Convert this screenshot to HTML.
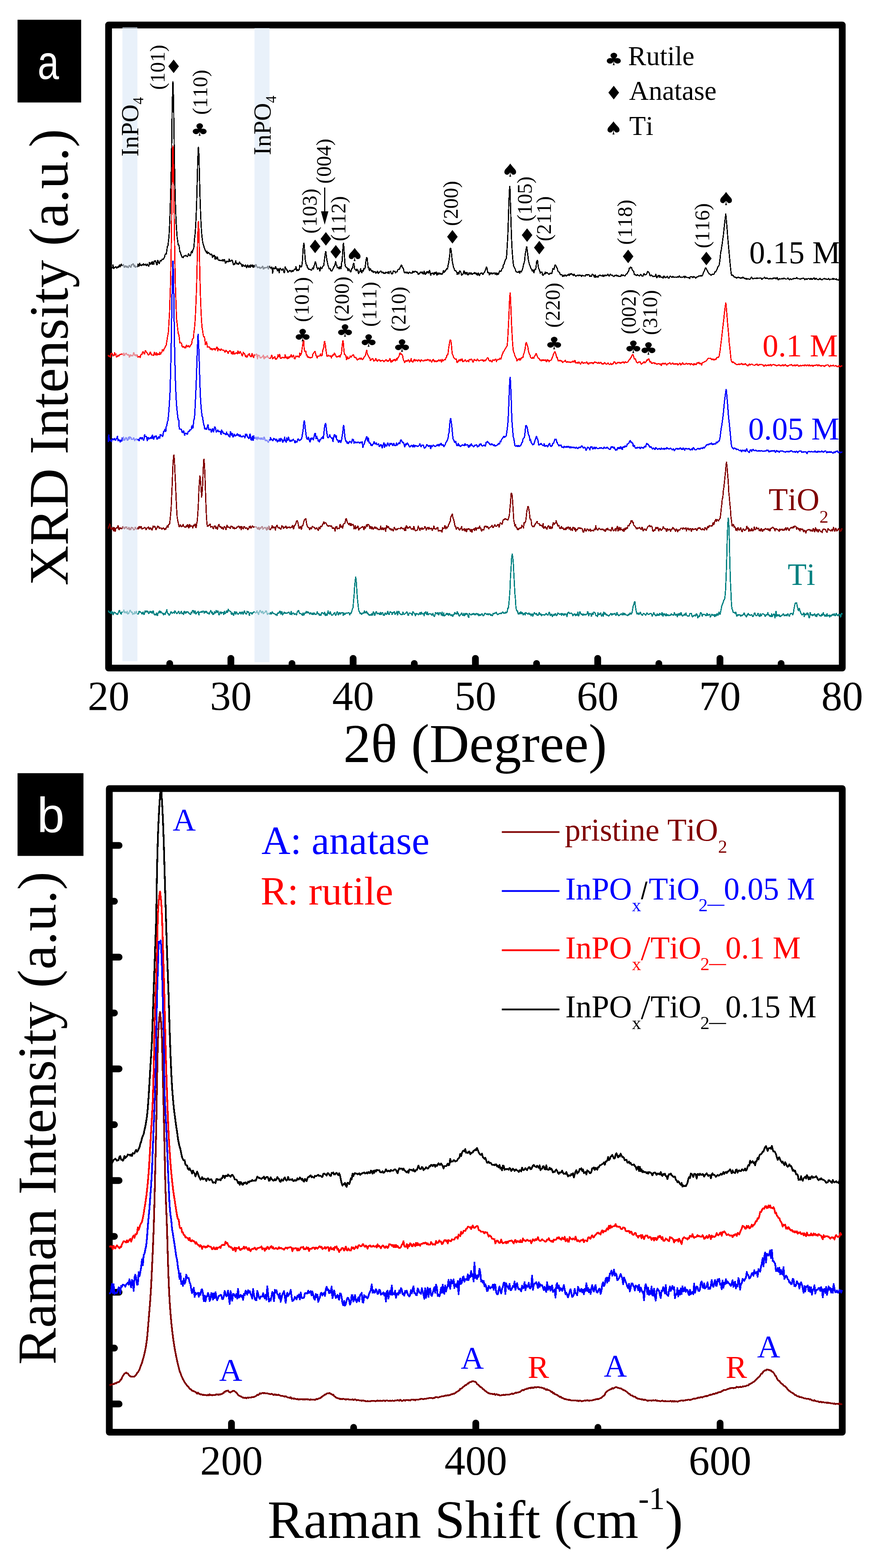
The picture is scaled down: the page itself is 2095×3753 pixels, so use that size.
<!DOCTYPE html>
<html lang="en"><head><meta charset="utf-8"><title>XRD and Raman spectra</title>
<style>html,body{margin:0;padding:0;background:#fff;overflow:hidden}svg{display:block}</style></head>
<body>
<svg width="2095" height="3753" viewBox="0 0 2095 3753" font-family="'Liberation Serif','DejaVu Serif',serif" style="font-kerning:none">
<rect x="0" y="0" width="2095" height="3753" fill="#fff"/>
<rect x="260.0" y="59.8" width="1756.6" height="1539.2" fill="none" stroke="#000" stroke-width="16.2" stroke-linejoin="round"/>
<rect x="261.7" y="1887.5" width="1754.9" height="1540.5" fill="none" stroke="#000" stroke-width="16.2" stroke-linejoin="round"/>
<path d="M552.8,1597.0 V1575.8 M845.5,1597.0 V1575.8 M1138.3,1597.0 V1575.8 M1431.1,1597.0 V1575.8 M1723.8,1597.0 V1575.8 M406.4,1597.0 V1588.0 M699.1,1597.0 V1588.0 M991.9,1597.0 V1588.0 M1284.7,1597.0 V1588.0 M1577.5,1597.0 V1588.0 M1870.2,1597.0 V1588.0 M554.2,3426.0 V3406.0 M1139.2,3426.0 V3406.0 M1724.1,3426.0 V3406.0 M846.7,3426.0 V3416.4 M1431.6,3426.0 V3416.4 M263.7,2023.5 H285.1 M263.7,2157.2 H274.0 M263.7,2290.9 H285.1 M263.7,2424.6 H274.0 M263.7,2558.3 H285.1 M263.7,2691.9 H274.0 M263.7,2825.6 H285.1 M263.7,2959.3 H274.0 M263.7,3093.0 H285.1 M263.7,3226.7 H274.0 M263.7,3360.4 H285.1" fill="none" stroke="#000" stroke-width="16.2" stroke-linecap="round"/>
<polyline fill="none" stroke="#008080" stroke-width="2.8" stroke-linejoin="bevel" shape-rendering="crispEdges" points="259.0,1461.7 260.3,1462.6 261.6,1466.7 262.9,1464.6 264.2,1467.3 265.5,1468.6 266.8,1462.1 268.1,1468.4 269.4,1464.6 270.7,1472.0 272.0,1469.1 273.3,1464.9 274.6,1466.5 275.9,1466.7 277.2,1467.1 278.5,1470.3 279.8,1468.3 281.1,1471.3 282.4,1468.7 283.7,1465.9 285.0,1461.5 286.3,1460.7 287.6,1465.9 288.9,1468.1 290.2,1470.6 291.5,1464.9 292.8,1466.1 294.1,1463.7 295.4,1464.4 296.7,1459.1 298.0,1467.2 299.3,1464.1 300.6,1465.6 301.9,1467.3 303.2,1467.3 304.5,1462.3 305.8,1470.0 307.1,1468.9 308.4,1468.0 309.7,1464.4 311.0,1461.1 312.3,1460.5 313.6,1464.6 314.9,1466.3 316.2,1464.0 317.5,1471.2 318.8,1467.8 320.1,1469.3 321.4,1469.3 322.7,1463.4 324.0,1468.6 325.3,1467.8 326.6,1462.6 327.9,1467.7 329.2,1469.5 330.5,1469.5 331.8,1469.7 333.1,1462.5 334.4,1464.8 335.7,1464.3 337.0,1466.0 338.3,1466.4 339.6,1469.5 340.9,1468.9 342.2,1464.1 343.5,1468.5 344.8,1471.3 346.1,1467.8 347.4,1461.9 348.7,1463.6 350.0,1465.2 351.3,1461.2 352.6,1465.0 353.9,1462.2 355.2,1467.9 356.5,1468.4 357.8,1466.3 359.1,1462.4 360.4,1466.5 361.7,1464.3 363.0,1463.8 364.3,1469.1 365.6,1464.4 366.9,1461.8 368.2,1467.9 369.5,1471.7 370.8,1471.8 372.1,1469.3 373.4,1472.8 374.7,1466.1 376.0,1472.6 377.3,1473.4 378.6,1466.2 379.9,1467.4 381.2,1462.5 382.5,1462.6 383.8,1467.3 385.1,1462.9 386.4,1466.3 387.7,1467.6 389.0,1466.8 390.3,1469.2 391.6,1472.5 392.9,1467.7 394.2,1469.5 395.5,1471.2 396.8,1465.7 398.1,1464.2 399.4,1458.7 400.7,1466.4 402.0,1469.4 403.3,1468.1 404.6,1472.8 405.9,1471.8 407.2,1469.6 408.5,1466.7 409.8,1463.8 411.1,1466.3 412.4,1467.8 413.7,1466.4 415.0,1465.4 416.3,1465.1 417.6,1468.2 418.9,1461.6 420.2,1464.7 421.5,1466.3 422.8,1468.4 424.1,1468.7 425.4,1466.0 426.7,1464.6 428.0,1462.6 429.3,1469.3 430.6,1468.5 431.9,1467.3 433.2,1464.3 434.5,1462.7 435.8,1469.3 437.1,1466.8 438.4,1467.8 439.7,1471.9 441.0,1462.7 442.3,1463.5 443.6,1467.1 444.9,1468.3 446.2,1463.6 447.5,1465.7 448.8,1464.5 450.1,1464.4 451.4,1467.2 452.7,1467.1 454.0,1470.0 455.3,1468.7 456.6,1471.2 457.9,1464.7 459.2,1467.4 460.5,1462.3 461.8,1460.8 463.1,1461.4 464.4,1467.7 465.7,1467.1 467.0,1461.6 468.3,1469.5 469.6,1469.7 470.9,1466.3 472.2,1465.6 473.5,1466.2 474.8,1462.7 476.1,1472.7 477.4,1465.9 478.7,1465.7 480.0,1465.3 481.3,1464.2 482.6,1463.3 483.9,1466.9 485.2,1462.7 486.5,1462.7 487.8,1463.4 489.1,1468.3 490.4,1463.6 491.7,1463.0 493.0,1466.8 494.3,1463.0 495.6,1464.9 496.9,1468.7 498.2,1467.9 499.5,1466.7 500.8,1470.9 502.1,1465.8 503.4,1464.4 504.7,1460.8 506.0,1465.6 507.3,1468.1 508.6,1464.6 509.9,1471.7 511.2,1470.2 512.5,1469.6 513.8,1463.2 515.1,1466.7 516.4,1467.5 517.7,1460.4 519.0,1465.4 520.3,1465.5 521.6,1461.0 522.9,1467.0 524.2,1472.5 525.5,1469.5 526.8,1464.3 528.1,1465.3 529.4,1469.5 530.7,1464.4 532.0,1467.1 533.3,1466.6 534.6,1466.9 535.9,1471.4 537.2,1462.6 538.5,1469.3 539.8,1467.6 541.1,1466.3 542.4,1461.4 543.7,1466.6 545.0,1465.2 546.3,1457.5 547.6,1461.0 548.9,1462.0 550.2,1462.7 551.5,1464.0 552.8,1463.6 554.1,1470.6 555.4,1470.2 556.7,1466.7 558.0,1470.6 559.3,1473.4 560.6,1468.9 561.9,1462.9 563.2,1467.0 564.5,1470.8 565.8,1464.1 567.1,1466.1 568.4,1469.2 569.7,1470.4 571.0,1469.6 572.3,1468.0 573.6,1466.3 574.9,1464.7 576.2,1469.2 577.5,1469.6 578.8,1465.5 580.1,1464.3 581.4,1469.9 582.7,1470.0 584.0,1464.7 585.3,1461.3 586.6,1466.0 587.9,1468.8 589.2,1469.7 590.5,1469.4 591.8,1462.3 593.1,1466.0 594.4,1465.3 595.7,1464.1 597.0,1474.0 598.3,1467.6 599.6,1467.4 600.9,1465.7 602.2,1468.4 603.5,1470.3 604.8,1466.3 606.1,1466.4 607.4,1465.2 608.7,1463.4 610.0,1465.6 611.3,1467.5 612.6,1466.8 613.9,1466.0 615.2,1461.0 616.5,1466.9 617.8,1467.2 619.1,1471.4 620.4,1465.5 621.7,1462.5 623.0,1460.4 624.3,1463.9 625.6,1466.2 626.9,1467.5 628.2,1462.2 629.5,1464.5 630.8,1469.5 632.1,1467.5 633.4,1466.0 634.7,1465.7 636.0,1462.1 637.3,1462.1 638.6,1464.7 639.9,1470.3 641.2,1470.9 642.5,1467.2 643.8,1468.9 645.1,1468.6 646.4,1470.8 647.7,1465.6 649.0,1467.7 650.3,1470.1 651.6,1463.9 652.9,1466.5 654.2,1467.9 655.5,1468.6 656.8,1469.0 658.1,1469.3 659.4,1470.6 660.7,1472.0 662.0,1469.2 663.3,1474.2 664.6,1467.1 665.9,1466.8 667.2,1468.4 668.5,1465.3 669.8,1462.8 671.1,1462.9 672.4,1470.3 673.7,1466.1 675.0,1463.4 676.3,1472.6 677.6,1469.5 678.9,1468.5 680.2,1465.0 681.5,1468.1 682.8,1466.3 684.1,1468.2 685.4,1467.8 686.7,1467.1 688.0,1468.3 689.3,1465.2 690.6,1466.2 691.9,1465.2 693.2,1468.6 694.5,1470.1 695.8,1470.6 697.1,1462.6 698.4,1472.2 699.7,1467.9 701.0,1467.6 702.3,1467.7 703.6,1467.7 704.9,1471.6 706.2,1468.9 707.5,1469.0 708.8,1470.9 710.1,1472.3 711.4,1465.6 712.7,1464.0 714.0,1461.7 715.3,1461.4 716.6,1467.9 717.9,1468.3 719.2,1468.0 720.5,1469.0 721.8,1469.1 723.1,1471.7 724.4,1473.7 725.7,1466.5 727.0,1472.3 728.3,1471.9 729.6,1466.3 730.9,1468.4 732.2,1466.9 733.5,1462.9 734.8,1467.5 736.1,1463.2 737.4,1467.6 738.7,1465.0 740.0,1466.7 741.3,1470.3 742.6,1468.9 743.9,1465.9 745.2,1468.5 746.5,1470.3 747.8,1471.4 749.1,1466.2 750.4,1471.3 751.7,1468.2 753.0,1466.6 754.3,1471.5 755.6,1470.6 756.9,1470.6 758.2,1469.0 759.5,1463.0 760.8,1468.8 762.1,1470.0 763.4,1468.2 764.7,1473.3 766.0,1469.4 767.3,1473.5 768.6,1472.6 769.9,1467.0 771.2,1465.7 772.5,1467.0 773.8,1468.0 775.1,1470.3 776.4,1466.9 777.7,1465.0 779.0,1474.2 780.3,1469.4 781.6,1469.4 782.9,1473.7 784.2,1469.6 785.5,1461.7 786.8,1468.9 788.1,1466.7 789.4,1471.1 790.7,1463.5 792.0,1468.3 793.3,1470.8 794.6,1473.0 795.9,1472.0 797.2,1471.8 798.5,1469.0 799.8,1468.5 801.1,1465.5 802.4,1470.9 803.7,1473.4 805.0,1471.0 806.3,1466.3 807.6,1464.0 808.9,1466.3 810.2,1472.8 811.5,1469.6 812.8,1465.8 814.1,1467.0 815.4,1470.7 816.7,1466.8 818.0,1466.8 819.3,1466.6 820.6,1465.5 821.9,1473.7 823.2,1466.8 824.5,1468.9 825.8,1471.9 827.1,1468.5 828.4,1467.1 829.7,1467.6 831.0,1468.0 832.3,1467.4 833.6,1466.6 834.9,1466.5 836.2,1467.8 837.5,1472.7 838.8,1466.9 840.1,1469.2 841.4,1465.9 842.7,1461.6 844.0,1457.0 845.3,1453.9 846.6,1437.2 847.9,1423.7 849.2,1401.5 850.5,1390.4 851.6,1379.9 853.1,1392.7 854.4,1413.2 855.7,1432.1 857.0,1444.4 858.3,1457.2 859.6,1462.8 860.9,1464.8 862.2,1469.1 863.5,1467.3 864.8,1468.2 866.1,1471.0 867.4,1468.1 868.7,1467.0 870.0,1468.6 871.3,1466.9 872.6,1461.3 873.9,1465.8 875.2,1467.6 876.5,1464.9 877.8,1462.5 879.1,1469.0 880.4,1466.7 881.7,1470.2 883.0,1470.3 884.3,1473.4 885.6,1471.1 886.9,1471.8 888.2,1473.2 889.5,1468.4 890.8,1472.0 892.1,1472.8 893.4,1464.1 894.7,1465.0 896.0,1468.7 897.3,1473.9 898.6,1468.6 899.9,1465.0 901.2,1463.6 902.5,1469.0 903.8,1469.5 905.1,1467.0 906.4,1469.4 907.7,1467.8 909.0,1472.1 910.3,1465.2 911.6,1466.9 912.9,1471.8 914.2,1467.4 915.5,1466.1 916.8,1467.6 918.1,1474.1 919.4,1470.4 920.7,1473.3 922.0,1466.8 923.3,1468.0 924.6,1470.8 925.9,1469.9 927.2,1467.5 928.5,1462.1 929.8,1469.4 931.1,1471.2 932.4,1470.6 933.7,1464.1 935.0,1464.0 936.3,1466.4 937.6,1465.4 938.9,1471.4 940.2,1466.0 941.5,1467.4 942.8,1465.4 944.1,1463.2 945.4,1470.9 946.7,1469.6 948.0,1466.9 949.3,1468.6 950.6,1462.4 951.9,1472.5 953.2,1466.3 954.5,1462.8 955.8,1464.8 957.1,1468.9 958.4,1468.9 959.7,1470.8 961.0,1471.2 962.3,1469.4 963.6,1472.0 964.9,1464.0 966.2,1469.5 967.5,1470.4 968.8,1470.1 970.1,1468.6 971.4,1467.3 972.7,1466.9 974.0,1463.6 975.3,1466.6 976.6,1471.7 977.9,1473.6 979.2,1468.2 980.5,1467.2 981.8,1467.2 983.1,1468.2 984.4,1468.8 985.7,1470.3 987.0,1473.3 988.3,1463.6 989.6,1465.0 990.9,1466.9 992.2,1468.5 993.5,1470.0 994.8,1474.3 996.1,1467.0 997.4,1470.6 998.7,1469.0 1000.0,1469.2 1001.3,1469.9 1002.6,1471.7 1003.9,1469.8 1005.2,1465.9 1006.5,1470.0 1007.8,1470.7 1009.1,1464.8 1010.4,1469.7 1011.7,1469.0 1013.0,1468.6 1014.3,1469.3 1015.6,1474.3 1016.9,1465.0 1018.2,1469.1 1019.5,1463.7 1020.8,1468.4 1022.1,1471.8 1023.4,1464.3 1024.7,1471.9 1026.0,1471.1 1027.3,1469.2 1028.6,1468.8 1029.9,1469.2 1031.2,1469.5 1032.5,1469.3 1033.8,1472.5 1035.1,1472.2 1036.4,1467.2 1037.7,1472.3 1039.0,1475.3 1040.3,1475.2 1041.6,1471.3 1042.9,1465.2 1044.2,1467.5 1045.5,1469.0 1046.8,1469.3 1048.1,1465.3 1049.4,1470.9 1050.7,1472.6 1052.0,1466.2 1053.3,1467.1 1054.6,1466.5 1055.9,1469.5 1057.2,1473.2 1058.5,1464.3 1059.8,1473.8 1061.1,1473.5 1062.4,1466.7 1063.7,1474.4 1065.0,1474.2 1066.3,1472.3 1067.6,1471.4 1068.9,1467.7 1070.2,1471.2 1071.5,1467.9 1072.8,1470.0 1074.1,1473.2 1075.4,1469.6 1076.7,1468.2 1078.0,1471.5 1079.3,1473.2 1080.6,1473.6 1081.9,1470.1 1083.2,1474.3 1084.5,1475.8 1085.8,1470.1 1087.1,1472.0 1088.4,1465.3 1089.7,1469.1 1091.0,1467.0 1092.3,1470.2 1093.6,1468.5 1094.9,1463.1 1096.2,1471.1 1097.5,1467.4 1098.8,1473.4 1100.1,1475.1 1101.4,1472.8 1102.7,1470.5 1104.0,1471.1 1105.3,1466.3 1106.6,1470.0 1107.9,1473.2 1109.2,1472.9 1110.5,1467.7 1111.8,1474.5 1113.1,1472.5 1114.4,1467.9 1115.7,1471.4 1117.0,1467.8 1118.3,1468.6 1119.6,1470.3 1120.9,1475.9 1122.2,1478.7 1123.5,1467.2 1124.8,1469.8 1126.1,1469.9 1127.4,1472.3 1128.7,1471.8 1130.0,1468.9 1131.3,1471.1 1132.6,1468.6 1133.9,1467.7 1135.2,1471.7 1136.5,1471.2 1137.8,1468.8 1139.1,1472.1 1140.4,1469.5 1141.7,1468.0 1143.0,1469.7 1144.3,1472.2 1145.6,1468.9 1146.9,1474.5 1148.2,1470.4 1149.5,1471.3 1150.8,1472.9 1152.1,1470.8 1153.4,1468.6 1154.7,1469.6 1156.0,1473.1 1157.3,1474.5 1158.6,1472.9 1159.9,1469.5 1161.2,1467.4 1162.5,1468.3 1163.8,1468.7 1165.1,1470.8 1166.4,1470.4 1167.7,1468.1 1169.0,1472.1 1170.3,1468.5 1171.6,1470.3 1172.9,1468.2 1174.2,1473.1 1175.5,1472.0 1176.8,1471.2 1178.1,1473.7 1179.4,1473.6 1180.7,1467.0 1182.0,1470.4 1183.3,1467.2 1184.6,1468.0 1185.9,1468.6 1187.2,1465.7 1188.5,1465.8 1189.8,1469.7 1191.1,1470.3 1192.4,1471.5 1193.7,1469.7 1195.0,1468.7 1196.3,1468.7 1197.6,1468.6 1198.9,1467.2 1200.2,1469.4 1201.5,1466.6 1202.8,1465.8 1204.1,1464.2 1205.4,1468.5 1206.7,1466.6 1208.0,1467.4 1209.3,1468.2 1210.6,1465.0 1211.9,1467.2 1213.2,1466.1 1214.5,1463.8 1215.8,1454.8 1217.1,1456.0 1218.4,1445.3 1219.7,1429.9 1221.0,1412.2 1222.3,1379.8 1223.6,1361.7 1224.9,1335.8 1226.5,1325.0 1227.5,1333.1 1228.8,1343.6 1230.1,1370.5 1231.4,1394.2 1232.7,1420.0 1234.0,1433.0 1235.3,1454.1 1236.6,1459.8 1237.9,1462.2 1239.2,1462.7 1240.5,1470.2 1241.8,1466.6 1243.1,1470.2 1244.4,1465.3 1245.7,1469.7 1247.0,1463.6 1248.3,1469.2 1249.6,1466.3 1250.9,1465.9 1252.2,1471.6 1253.5,1471.8 1254.8,1468.1 1256.1,1467.2 1257.4,1472.4 1258.7,1465.7 1260.0,1468.3 1261.3,1467.4 1262.6,1469.5 1263.9,1469.6 1265.2,1469.3 1266.5,1466.3 1267.8,1470.1 1269.1,1471.3 1270.4,1468.9 1271.7,1474.8 1273.0,1469.4 1274.3,1469.9 1275.6,1475.7 1276.9,1470.1 1278.2,1469.7 1279.5,1465.8 1280.8,1469.5 1282.1,1468.8 1283.4,1470.8 1284.7,1467.1 1286.0,1473.1 1287.3,1472.1 1288.6,1473.0 1289.9,1469.5 1291.2,1465.0 1292.5,1470.4 1293.8,1470.1 1295.1,1468.8 1296.4,1474.7 1297.7,1471.7 1299.0,1470.9 1300.3,1471.6 1301.6,1471.5 1302.9,1471.6 1304.2,1472.8 1305.5,1471.0 1306.8,1469.1 1308.1,1467.8 1309.4,1470.6 1310.7,1471.8 1312.0,1472.8 1313.3,1468.4 1314.6,1465.7 1315.9,1465.5 1317.2,1473.8 1318.5,1472.6 1319.8,1470.6 1321.1,1469.5 1322.4,1476.5 1323.7,1473.6 1325.0,1472.9 1326.3,1469.2 1327.6,1473.5 1328.9,1469.7 1330.2,1468.1 1331.5,1474.0 1332.8,1471.9 1334.1,1472.6 1335.4,1466.4 1336.7,1468.7 1338.0,1467.6 1339.3,1470.6 1340.6,1470.1 1341.9,1470.2 1343.2,1468.1 1344.5,1474.0 1345.8,1467.1 1347.1,1471.1 1348.4,1470.2 1349.7,1473.2 1351.0,1467.9 1352.3,1472.8 1353.6,1468.2 1354.9,1470.6 1356.2,1469.7 1357.5,1477.0 1358.8,1467.4 1360.1,1467.8 1361.4,1464.5 1362.7,1466.2 1364.0,1468.9 1365.3,1468.7 1366.6,1467.4 1367.9,1467.6 1369.2,1468.9 1370.5,1470.1 1371.8,1474.7 1373.1,1471.8 1374.4,1470.1 1375.7,1468.9 1377.0,1471.7 1378.3,1474.0 1379.6,1469.8 1380.9,1472.7 1382.2,1471.9 1383.5,1464.1 1384.8,1474.7 1386.1,1473.4 1387.4,1466.5 1388.7,1463.8 1390.0,1469.7 1391.3,1468.5 1392.6,1471.3 1393.9,1469.1 1395.2,1473.5 1396.5,1469.0 1397.8,1471.2 1399.1,1472.2 1400.4,1469.6 1401.7,1472.7 1403.0,1470.9 1404.3,1470.3 1405.6,1469.6 1406.9,1463.2 1408.2,1466.2 1409.5,1475.0 1410.8,1469.8 1412.1,1467.9 1413.4,1469.3 1414.7,1469.5 1416.0,1476.2 1417.3,1467.9 1418.6,1467.8 1419.9,1471.8 1421.2,1465.3 1422.5,1464.8 1423.8,1465.8 1425.1,1467.6 1426.4,1472.9 1427.7,1474.5 1429.0,1472.4 1430.3,1476.4 1431.6,1465.7 1432.9,1472.7 1434.2,1468.7 1435.5,1471.5 1436.8,1469.7 1438.1,1466.1 1439.4,1473.1 1440.7,1475.0 1442.0,1471.8 1443.3,1468.2 1444.6,1476.0 1445.9,1464.4 1447.2,1470.1 1448.5,1467.8 1449.8,1467.9 1451.1,1472.9 1452.4,1469.5 1453.7,1473.2 1455.0,1471.6 1456.3,1474.7 1457.6,1473.9 1458.9,1473.5 1460.2,1471.0 1461.5,1470.4 1462.8,1467.6 1464.1,1471.3 1465.4,1472.7 1466.7,1468.8 1468.0,1471.3 1469.3,1468.3 1470.6,1470.0 1471.9,1467.2 1473.2,1470.0 1474.5,1473.5 1475.8,1471.7 1477.1,1465.5 1478.4,1471.6 1479.7,1469.6 1481.0,1474.0 1482.3,1473.0 1483.6,1472.8 1484.9,1469.9 1486.2,1470.8 1487.5,1468.2 1488.8,1470.3 1490.1,1472.6 1491.4,1466.4 1492.7,1468.8 1494.0,1472.3 1495.3,1467.6 1496.6,1469.5 1497.9,1471.6 1499.2,1471.4 1500.5,1472.2 1501.8,1472.8 1503.1,1474.1 1504.4,1469.8 1505.7,1471.5 1507.0,1471.4 1508.3,1466.6 1509.6,1467.8 1510.9,1470.6 1512.2,1468.2 1513.5,1465.6 1514.8,1458.0 1516.1,1450.5 1517.4,1446.9 1518.6,1441.8 1520.0,1439.3 1521.3,1451.0 1522.6,1459.4 1523.9,1466.1 1525.2,1469.5 1526.5,1469.8 1527.8,1466.3 1529.1,1470.9 1530.4,1470.8 1531.7,1467.3 1533.0,1464.8 1534.3,1468.1 1535.6,1471.9 1536.9,1470.5 1538.2,1473.6 1539.5,1469.7 1540.8,1468.1 1542.1,1468.3 1543.4,1470.1 1544.7,1471.1 1546.0,1473.1 1547.3,1470.4 1548.6,1467.0 1549.9,1467.5 1551.2,1470.7 1552.5,1470.0 1553.8,1470.8 1555.1,1468.8 1556.4,1468.9 1557.7,1468.7 1559.0,1468.4 1560.3,1470.6 1561.6,1475.2 1562.9,1471.1 1564.2,1470.9 1565.5,1465.0 1566.8,1471.1 1568.1,1469.8 1569.4,1474.1 1570.7,1472.5 1572.0,1474.8 1573.3,1468.3 1574.6,1472.2 1575.9,1473.3 1577.2,1469.8 1578.5,1473.8 1579.8,1467.1 1581.1,1470.7 1582.4,1469.3 1583.7,1472.7 1585.0,1465.2 1586.3,1472.2 1587.6,1475.6 1588.9,1468.4 1590.2,1472.9 1591.5,1468.4 1592.8,1472.8 1594.1,1474.2 1595.4,1467.8 1596.7,1475.0 1598.0,1471.0 1599.3,1470.9 1600.6,1473.0 1601.9,1473.8 1603.2,1471.4 1604.5,1472.7 1605.8,1473.0 1607.1,1468.0 1608.4,1471.2 1609.7,1471.6 1611.0,1471.1 1612.3,1473.0 1613.6,1469.8 1614.9,1465.7 1616.2,1472.0 1617.5,1472.3 1618.8,1471.2 1620.1,1469.6 1621.4,1477.2 1622.7,1472.3 1624.0,1468.3 1625.3,1471.6 1626.6,1472.7 1627.9,1467.4 1629.2,1472.4 1630.5,1465.3 1631.8,1469.1 1633.1,1473.3 1634.4,1474.7 1635.7,1472.8 1637.0,1473.7 1638.3,1469.2 1639.6,1471.2 1640.9,1473.2 1642.2,1466.6 1643.5,1471.4 1644.8,1473.1 1646.1,1474.8 1647.4,1474.1 1648.7,1474.7 1650.0,1474.3 1651.3,1469.2 1652.6,1468.4 1653.9,1469.3 1655.2,1467.5 1656.5,1473.2 1657.8,1476.6 1659.1,1476.0 1660.4,1472.8 1661.7,1474.8 1663.0,1472.2 1664.3,1473.0 1665.6,1475.0 1666.9,1469.1 1668.2,1469.5 1669.5,1472.4 1670.8,1480.2 1672.1,1474.7 1673.4,1474.4 1674.7,1476.2 1676.0,1470.9 1677.3,1465.4 1678.6,1467.4 1679.9,1468.0 1681.2,1476.1 1682.5,1471.5 1683.8,1470.8 1685.1,1470.7 1686.4,1470.6 1687.7,1471.1 1689.0,1471.5 1690.3,1474.8 1691.6,1472.4 1692.9,1467.3 1694.2,1473.0 1695.5,1473.0 1696.8,1470.5 1698.1,1471.8 1699.4,1469.5 1700.7,1477.5 1702.0,1475.4 1703.3,1472.7 1704.6,1469.0 1705.9,1472.7 1707.2,1473.1 1708.5,1471.6 1709.8,1470.3 1711.1,1476.6 1712.4,1470.7 1713.7,1473.5 1715.0,1474.6 1716.3,1468.0 1717.6,1470.6 1718.9,1473.0 1720.2,1470.2 1721.5,1464.6 1722.8,1468.4 1724.1,1471.1 1725.4,1464.1 1726.7,1458.9 1728.0,1450.6 1729.3,1446.7 1730.6,1444.3 1732.0,1440.0 1733.2,1435.3 1734.5,1435.6 1735.8,1428.8 1737.1,1413.0 1738.4,1384.1 1739.7,1347.4 1741.0,1297.0 1742.3,1256.5 1743.7,1239.0 1744.9,1250.4 1746.2,1291.6 1747.5,1348.4 1748.8,1390.9 1750.1,1418.1 1751.4,1447.7 1752.7,1457.1 1754.0,1459.5 1755.3,1466.5 1756.6,1465.1 1757.9,1466.5 1759.2,1466.3 1760.5,1469.0 1761.8,1464.4 1763.1,1472.5 1764.4,1476.0 1765.7,1471.4 1767.0,1471.5 1768.3,1472.7 1769.6,1471.2 1770.9,1470.9 1772.2,1473.7 1773.5,1475.1 1774.8,1471.3 1776.1,1473.9 1777.4,1473.3 1778.7,1470.6 1780.0,1471.8 1781.3,1466.8 1782.6,1468.2 1783.9,1472.5 1785.2,1473.9 1786.5,1475.6 1787.8,1477.0 1789.1,1469.9 1790.4,1472.8 1791.7,1467.8 1793.0,1471.5 1794.3,1470.6 1795.6,1473.3 1796.9,1472.2 1798.2,1472.5 1799.5,1470.8 1800.8,1472.1 1802.1,1476.1 1803.4,1475.2 1804.7,1472.9 1806.0,1467.8 1807.3,1466.7 1808.6,1471.4 1809.9,1473.3 1811.2,1474.2 1812.5,1473.4 1813.8,1470.4 1815.1,1467.3 1816.4,1474.0 1817.7,1474.2 1819.0,1476.1 1820.3,1468.3 1821.6,1473.6 1822.9,1474.5 1824.2,1469.7 1825.5,1469.2 1826.8,1468.9 1828.1,1469.5 1829.4,1471.6 1830.7,1471.1 1832.0,1475.9 1833.3,1474.0 1834.6,1470.9 1835.9,1472.7 1837.2,1470.4 1838.5,1465.7 1839.8,1472.2 1841.1,1470.7 1842.4,1475.6 1843.7,1472.5 1845.0,1476.3 1846.3,1475.2 1847.6,1468.4 1848.9,1476.5 1850.2,1471.8 1851.5,1472.1 1852.8,1469.1 1854.1,1470.2 1855.4,1479.4 1856.7,1473.8 1858.0,1462.4 1859.3,1475.8 1860.6,1473.4 1861.9,1470.6 1863.2,1473.9 1864.5,1473.5 1865.8,1470.5 1867.1,1476.4 1868.4,1474.4 1869.7,1475.7 1871.0,1473.3 1872.3,1472.2 1873.6,1472.7 1874.9,1469.4 1876.2,1469.2 1877.5,1474.2 1878.8,1472.1 1880.1,1473.7 1881.4,1472.2 1882.7,1470.7 1884.0,1474.8 1885.3,1470.7 1886.6,1469.0 1887.9,1471.4 1889.2,1474.7 1890.5,1475.2 1891.8,1469.0 1893.1,1468.2 1894.4,1469.4 1895.7,1468.0 1897.0,1470.2 1898.3,1472.0 1899.6,1466.9 1900.9,1458.2 1902.2,1451.3 1903.5,1444.9 1904.8,1443.0 1905.5,1444.2 1907.4,1442.2 1908.7,1451.1 1910.0,1455.4 1911.3,1462.2 1913.0,1456.0 1913.9,1456.8 1915.2,1461.7 1916.5,1464.5 1917.8,1468.8 1919.1,1469.9 1920.4,1472.3 1921.7,1470.6 1923.0,1470.9 1924.3,1466.3 1925.6,1476.5 1926.9,1468.3 1928.2,1471.5 1929.5,1472.0 1930.8,1469.2 1932.1,1466.6 1933.4,1471.6 1934.7,1466.8 1936.0,1474.1 1937.3,1479.9 1938.6,1477.0 1939.9,1465.0 1941.2,1472.0 1942.5,1472.0 1943.8,1471.2 1945.1,1474.3 1946.4,1470.8 1947.7,1473.2 1949.0,1470.1 1950.3,1468.6 1951.6,1473.0 1952.9,1475.1 1954.2,1470.6 1955.5,1476.3 1956.8,1472.0 1958.1,1469.2 1959.4,1469.3 1960.7,1469.6 1962.0,1473.6 1963.3,1474.3 1964.6,1472.4 1965.9,1475.9 1967.2,1469.8 1968.5,1472.8 1969.8,1472.8 1971.1,1465.7 1972.4,1471.9 1973.7,1470.4 1975.0,1476.1 1976.3,1471.1 1977.6,1475.7 1978.9,1474.0 1980.2,1467.8 1981.5,1474.6 1982.8,1474.3 1984.1,1473.3 1985.4,1471.6 1986.7,1477.3 1988.0,1471.9 1989.3,1475.3 1990.6,1474.3 1991.9,1471.8 1993.2,1469.8 1994.5,1472.7 1995.8,1471.9 1997.1,1468.5 1998.4,1472.6 1999.7,1473.7 2001.0,1472.4 2002.3,1467.0 2003.6,1472.9 2004.9,1471.2 2006.2,1474.3 2007.5,1471.3 2008.8,1469.9 2010.1,1471.1 2011.4,1471.5 2012.7,1478.1 2014.0,1469.8 2015.3,1467.1 2016.6,1470.5"/>
<polyline fill="none" stroke="#800000" stroke-width="2.8" stroke-linejoin="bevel" shape-rendering="crispEdges" points="259.0,1265.6 260.3,1260.7 261.6,1258.1 262.9,1253.4 264.2,1260.9 265.5,1267.0 266.8,1264.1 268.1,1265.2 269.4,1267.0 270.7,1261.3 272.0,1271.6 273.3,1262.0 274.6,1264.6 275.9,1272.4 277.2,1264.6 278.5,1264.2 279.8,1262.1 281.1,1264.5 282.4,1257.1 283.7,1260.7 285.0,1268.6 286.3,1265.2 287.6,1263.2 288.9,1264.9 290.2,1265.3 291.5,1264.5 292.8,1265.8 294.1,1258.9 295.4,1265.0 296.7,1261.9 298.0,1266.1 299.3,1264.2 300.6,1260.8 301.9,1263.3 303.2,1260.7 304.5,1266.7 305.8,1264.3 307.1,1266.8 308.4,1260.9 309.7,1268.7 311.0,1263.8 312.3,1268.4 313.6,1267.4 314.9,1261.1 316.2,1264.7 317.5,1262.5 318.8,1265.2 320.1,1268.9 321.4,1267.1 322.7,1268.0 324.0,1261.1 325.3,1264.4 326.6,1265.4 327.9,1267.9 329.2,1262.8 330.5,1265.9 331.8,1265.9 333.1,1259.7 334.4,1260.3 335.7,1265.1 337.0,1260.7 338.3,1259.9 339.6,1266.5 340.9,1265.6 342.2,1263.8 343.5,1264.7 344.8,1263.2 346.1,1262.5 347.4,1262.7 348.7,1265.4 350.0,1268.8 351.3,1263.6 352.6,1264.1 353.9,1263.7 355.2,1260.4 356.5,1264.7 357.8,1267.3 359.1,1262.3 360.4,1266.8 361.7,1263.1 363.0,1268.0 364.3,1268.9 365.6,1264.0 366.9,1258.1 368.2,1262.5 369.5,1259.8 370.8,1259.7 372.1,1263.0 373.4,1268.6 374.7,1264.8 376.0,1263.9 377.3,1258.5 378.6,1261.7 379.9,1259.6 381.2,1265.3 382.5,1262.8 383.8,1264.0 385.1,1264.2 386.4,1263.6 387.7,1267.1 389.0,1266.1 390.3,1263.3 391.6,1264.3 392.9,1265.6 394.2,1268.3 395.5,1264.6 396.8,1268.0 398.1,1261.9 399.4,1261.8 400.7,1257.3 402.0,1263.2 403.3,1257.1 404.6,1254.1 405.9,1255.7 407.2,1244.6 408.5,1230.4 409.8,1215.7 411.1,1185.7 412.4,1156.2 413.7,1120.0 415.0,1098.5 416.2,1087.8 417.6,1099.8 418.9,1130.9 420.2,1157.4 421.5,1188.8 422.8,1215.6 424.1,1237.2 425.4,1245.3 426.7,1251.1 428.0,1256.7 429.3,1262.0 430.6,1258.2 431.9,1255.2 433.2,1258.7 434.5,1261.7 435.8,1258.6 437.1,1260.3 438.4,1254.3 439.7,1259.4 441.0,1260.4 442.3,1262.2 443.6,1261.5 444.9,1262.8 446.2,1257.3 447.5,1261.7 448.8,1255.1 450.1,1257.4 451.4,1263.2 452.7,1263.3 454.0,1254.7 455.3,1261.2 456.6,1258.9 457.9,1257.4 459.2,1260.3 460.5,1260.5 461.8,1264.4 463.1,1256.0 464.4,1257.8 465.7,1258.8 467.0,1253.4 468.3,1261.6 469.6,1263.6 470.9,1253.3 472.2,1247.9 473.5,1231.5 474.8,1209.3 476.1,1176.6 477.4,1153.7 478.8,1138.2 480.0,1149.4 481.3,1167.5 482.6,1191.2 483.9,1179.7 485.2,1161.5 486.5,1124.4 487.8,1101.0 488.5,1098.2 490.4,1128.5 491.7,1168.5 493.0,1205.4 494.3,1236.9 495.6,1254.6 496.9,1260.6 498.2,1259.2 499.5,1256.4 500.8,1258.1 502.1,1254.9 503.4,1254.4 504.7,1262.8 506.0,1259.9 507.3,1261.4 508.6,1259.9 509.9,1264.7 511.2,1265.9 512.5,1259.1 513.8,1259.4 515.1,1258.5 516.4,1264.7 517.7,1265.5 519.0,1260.7 520.3,1268.2 521.6,1262.2 522.9,1257.4 524.2,1254.1 525.5,1259.6 526.8,1261.9 528.1,1259.4 529.4,1262.1 530.7,1265.1 532.0,1261.6 533.3,1264.0 534.6,1267.0 535.9,1263.7 537.2,1259.9 538.5,1262.5 539.8,1263.2 541.1,1268.4 542.4,1261.1 543.7,1256.5 545.0,1261.6 546.3,1262.5 547.6,1260.3 548.9,1263.1 550.2,1262.7 551.5,1265.5 552.8,1259.5 554.1,1259.0 555.4,1261.1 556.7,1259.9 558.0,1265.4 559.3,1264.0 560.6,1261.9 561.9,1266.5 563.2,1264.0 564.5,1265.2 565.8,1264.7 567.1,1261.7 568.4,1261.2 569.7,1261.7 571.0,1258.3 572.3,1260.1 573.6,1264.2 574.9,1263.1 576.2,1259.0 577.5,1268.8 578.8,1259.6 580.1,1263.5 581.4,1264.4 582.7,1266.3 584.0,1259.8 585.3,1261.6 586.6,1261.2 587.9,1265.4 589.2,1263.7 590.5,1263.5 591.8,1263.9 593.1,1268.5 594.4,1265.1 595.7,1265.3 597.0,1259.6 598.3,1263.9 599.6,1258.4 600.9,1264.6 602.2,1263.0 603.5,1259.5 604.8,1258.2 606.1,1261.4 607.4,1262.6 608.7,1260.6 610.0,1261.1 611.3,1261.2 612.6,1260.6 613.9,1261.6 615.2,1263.2 616.5,1266.7 617.8,1265.2 619.1,1261.2 620.4,1267.5 621.7,1267.1 623.0,1262.5 624.3,1265.9 625.6,1261.5 626.9,1260.2 628.2,1260.1 629.5,1267.5 630.8,1264.0 632.1,1264.0 633.4,1263.3 634.7,1261.7 636.0,1264.3 637.3,1265.3 638.6,1269.6 639.9,1261.3 641.2,1267.7 642.5,1265.9 643.8,1258.1 645.1,1265.5 646.4,1268.6 647.7,1267.5 649.0,1264.6 650.3,1263.9 651.6,1257.1 652.9,1263.4 654.2,1263.9 655.5,1260.4 656.8,1263.5 658.1,1261.3 659.4,1270.2 660.7,1260.5 662.0,1260.1 663.3,1256.0 664.6,1261.0 665.9,1263.3 667.2,1263.3 668.5,1261.3 669.8,1265.7 671.1,1264.4 672.4,1267.2 673.7,1263.5 675.0,1257.7 676.3,1262.0 677.6,1259.9 678.9,1265.4 680.2,1261.6 681.5,1262.2 682.8,1263.0 684.1,1258.3 685.4,1261.2 686.7,1265.6 688.0,1261.7 689.3,1262.3 690.6,1263.4 691.9,1260.9 693.2,1261.7 694.5,1264.0 695.8,1261.7 697.1,1262.6 698.4,1262.0 699.7,1258.8 701.0,1257.1 702.3,1266.4 703.6,1264.6 704.9,1257.7 706.2,1257.5 707.5,1255.1 708.8,1252.1 709.7,1247.8 711.4,1245.3 712.7,1248.3 714.0,1254.6 715.3,1262.4 716.6,1265.4 717.9,1260.8 719.2,1260.1 720.5,1264.8 721.8,1267.8 723.1,1257.9 724.4,1259.2 725.7,1255.9 727.0,1250.6 728.3,1246.2 729.6,1242.7 730.5,1243.0 732.2,1241.0 733.5,1249.4 734.8,1256.6 736.1,1260.3 737.4,1262.6 738.7,1262.6 740.0,1262.7 741.3,1268.6 742.6,1263.0 743.9,1263.4 745.2,1267.0 746.5,1263.8 747.8,1259.2 749.1,1260.9 750.4,1261.5 751.7,1262.5 753.0,1261.8 754.3,1266.2 755.6,1266.0 756.9,1265.2 758.2,1262.3 759.5,1266.3 760.8,1266.7 762.1,1270.5 763.4,1262.1 764.7,1262.2 766.0,1266.6 767.3,1259.0 768.6,1261.4 769.9,1260.7 771.2,1258.9 772.5,1254.0 773.8,1254.8 775.1,1248.5 776.4,1254.7 778.2,1250.5 779.0,1251.2 780.3,1252.0 781.6,1254.3 782.9,1256.1 784.2,1258.8 785.5,1258.1 786.8,1260.3 788.1,1257.9 789.4,1258.3 790.7,1259.3 792.0,1259.3 793.3,1258.3 794.6,1260.6 795.9,1265.0 797.2,1265.1 798.5,1262.5 799.8,1264.5 801.1,1265.0 802.4,1272.3 803.7,1260.0 805.0,1264.0 806.3,1259.7 807.6,1267.1 808.9,1263.5 810.2,1265.0 811.5,1264.5 812.8,1265.8 814.1,1254.6 815.4,1258.3 816.7,1262.5 818.0,1258.3 819.3,1263.0 820.6,1264.7 821.9,1255.2 823.2,1253.7 824.5,1253.0 825.8,1252.5 827.1,1246.8 828.0,1241.5 829.7,1241.9 831.0,1248.0 832.3,1252.2 833.6,1252.3 834.9,1256.0 836.2,1253.7 837.5,1251.9 838.8,1258.9 840.0,1252.0 841.4,1259.0 842.7,1254.6 844.0,1256.7 845.3,1255.0 846.6,1258.1 847.9,1266.4 849.2,1263.3 850.5,1257.0 851.8,1267.1 853.1,1261.5 854.4,1262.3 855.7,1263.6 857.0,1258.1 858.3,1268.1 859.6,1268.9 860.9,1263.9 862.2,1265.3 863.5,1263.5 864.8,1262.2 866.1,1263.2 867.4,1259.4 868.7,1262.0 870.0,1261.7 871.3,1269.0 872.6,1258.9 873.9,1265.2 875.2,1263.3 876.5,1259.8 877.8,1255.4 879.1,1261.0 880.8,1254.7 881.7,1255.7 883.0,1255.7 884.3,1258.5 885.6,1265.5 886.9,1259.2 888.2,1262.4 889.5,1266.8 890.8,1260.0 892.1,1263.4 893.4,1267.9 894.7,1263.8 896.0,1264.3 897.3,1259.9 898.6,1265.4 899.9,1261.4 901.2,1263.3 902.5,1265.9 903.8,1263.5 905.1,1267.7 906.4,1267.8 907.7,1267.1 909.0,1268.6 910.3,1265.3 911.6,1258.5 912.9,1267.0 914.2,1268.0 915.5,1264.3 916.8,1262.6 918.1,1268.6 919.4,1264.4 920.7,1264.0 922.0,1263.8 923.3,1272.5 924.6,1264.2 925.9,1257.1 927.2,1263.8 928.5,1261.8 929.8,1259.3 931.1,1264.7 932.4,1263.5 933.7,1267.7 935.0,1264.5 936.3,1268.8 937.6,1268.8 938.9,1265.8 940.2,1267.7 941.5,1271.3 942.8,1268.3 944.1,1261.2 945.4,1264.9 946.7,1265.8 948.0,1269.3 949.3,1265.4 950.6,1268.8 951.9,1265.4 953.2,1265.4 954.5,1264.6 955.8,1265.2 957.1,1264.8 958.4,1266.3 959.7,1263.1 961.0,1261.7 962.3,1264.5 963.6,1265.6 964.9,1264.1 966.2,1266.4 967.5,1266.5 968.8,1270.8 970.1,1261.5 971.4,1270.9 972.7,1258.8 974.0,1258.7 975.3,1265.1 976.6,1262.2 977.9,1263.8 979.2,1263.6 980.5,1260.8 981.8,1260.2 983.1,1263.2 984.4,1266.0 985.7,1267.1 987.0,1266.0 988.3,1264.2 989.6,1268.7 990.9,1258.8 992.2,1264.3 993.5,1269.0 994.8,1270.8 996.1,1269.8 997.4,1270.1 998.7,1269.2 1000.0,1266.3 1001.3,1258.4 1002.6,1262.7 1003.9,1264.1 1005.2,1270.2 1006.5,1264.8 1007.8,1264.3 1009.1,1267.4 1010.4,1262.8 1011.7,1265.3 1013.0,1267.3 1014.3,1264.9 1015.6,1265.4 1016.9,1260.1 1018.2,1261.0 1019.5,1264.3 1020.8,1269.2 1022.1,1264.6 1023.4,1262.8 1024.7,1262.9 1026.0,1267.5 1027.3,1261.7 1028.6,1265.8 1029.9,1264.8 1031.2,1266.1 1032.5,1263.7 1033.8,1266.0 1035.1,1270.3 1036.4,1265.9 1037.7,1264.5 1039.0,1257.9 1040.3,1266.4 1041.6,1264.2 1042.9,1267.1 1044.2,1266.7 1045.5,1263.8 1046.8,1263.9 1048.1,1261.7 1049.4,1271.8 1050.7,1270.0 1052.0,1269.4 1053.3,1270.4 1054.6,1271.1 1055.9,1269.5 1057.2,1269.8 1058.5,1274.3 1059.8,1261.8 1061.1,1265.8 1062.4,1263.7 1063.7,1265.4 1065.0,1257.4 1066.3,1260.5 1067.6,1266.7 1068.9,1260.7 1070.2,1265.1 1071.5,1260.7 1072.8,1261.1 1074.1,1255.3 1075.4,1254.9 1076.7,1248.6 1078.0,1249.5 1079.3,1236.7 1080.6,1235.5 1082.5,1230.4 1083.2,1230.1 1084.5,1240.2 1085.8,1242.5 1087.1,1247.1 1088.4,1254.0 1089.7,1260.2 1091.0,1259.2 1092.3,1267.4 1093.6,1264.7 1094.9,1263.2 1096.2,1262.5 1097.5,1264.3 1098.8,1267.1 1100.1,1269.3 1101.4,1266.7 1102.7,1264.3 1104.0,1265.8 1105.3,1259.7 1106.6,1269.0 1107.9,1269.5 1109.2,1266.5 1110.5,1268.9 1111.8,1264.0 1113.1,1272.1 1114.4,1267.4 1115.7,1265.8 1117.0,1273.7 1118.3,1265.5 1119.6,1268.7 1120.9,1265.2 1122.2,1265.6 1123.5,1266.5 1124.8,1265.6 1126.1,1271.9 1127.4,1271.6 1128.7,1266.3 1130.0,1274.7 1131.3,1268.3 1132.6,1266.8 1133.9,1268.3 1135.2,1264.0 1136.5,1270.7 1137.8,1264.5 1139.1,1262.4 1140.4,1269.3 1141.7,1264.0 1143.0,1265.2 1144.3,1262.3 1145.6,1264.1 1146.9,1266.0 1148.2,1258.3 1149.5,1264.4 1150.8,1262.8 1152.1,1269.3 1153.4,1272.0 1154.7,1267.6 1156.0,1266.9 1157.3,1268.1 1158.6,1268.1 1159.9,1260.0 1161.2,1259.0 1162.5,1261.2 1163.8,1258.5 1165.1,1261.2 1166.4,1262.8 1167.7,1260.0 1169.0,1263.4 1170.3,1266.7 1171.6,1262.7 1172.9,1263.1 1174.2,1261.4 1175.5,1260.9 1176.8,1259.2 1178.1,1256.8 1179.4,1261.5 1180.7,1263.7 1182.0,1260.2 1183.3,1259.9 1184.6,1255.0 1185.9,1257.8 1187.2,1260.0 1188.5,1259.1 1189.8,1259.4 1191.1,1256.0 1192.4,1254.4 1193.7,1257.0 1195.0,1262.3 1196.3,1256.6 1197.6,1251.3 1198.9,1252.1 1200.2,1252.4 1201.5,1255.5 1202.8,1254.1 1204.1,1246.5 1205.4,1243.2 1206.7,1243.8 1208.0,1243.7 1209.3,1240.0 1210.0,1243.0 1211.9,1242.1 1213.2,1244.2 1214.5,1243.4 1215.8,1245.2 1217.1,1241.6 1218.4,1237.8 1219.7,1232.3 1221.0,1216.5 1222.3,1203.9 1223.6,1181.6 1224.8,1180.0 1226.2,1185.5 1227.5,1201.2 1228.8,1223.4 1230.1,1244.8 1231.4,1251.1 1232.7,1259.4 1234.0,1254.5 1235.3,1262.2 1236.6,1260.1 1237.9,1264.9 1239.2,1268.3 1240.5,1264.3 1241.8,1268.6 1243.1,1263.3 1244.4,1265.2 1245.7,1262.9 1247.0,1264.5 1248.3,1263.5 1249.6,1256.5 1250.9,1260.3 1252.2,1259.4 1253.5,1264.5 1254.8,1249.9 1256.1,1252.4 1257.4,1250.4 1258.7,1247.3 1260.0,1237.5 1261.3,1223.6 1262.6,1219.3 1264.0,1211.3 1265.2,1213.0 1266.5,1219.9 1267.8,1229.0 1269.1,1243.4 1270.4,1241.4 1271.7,1245.5 1273.0,1256.8 1274.3,1258.8 1275.6,1261.5 1276.9,1258.9 1278.2,1261.4 1279.5,1258.4 1280.8,1255.8 1282.1,1253.5 1283.4,1252.2 1284.7,1249.2 1286.3,1247.8 1287.3,1252.8 1288.6,1253.0 1289.9,1253.5 1291.2,1253.0 1292.5,1258.5 1293.8,1255.5 1295.1,1258.0 1296.4,1257.8 1297.7,1258.8 1299.0,1262.3 1300.3,1252.1 1301.6,1265.2 1302.9,1264.0 1304.2,1261.0 1305.5,1260.0 1306.8,1264.1 1308.1,1262.1 1309.4,1267.7 1310.7,1262.6 1312.0,1259.5 1313.3,1257.4 1314.6,1261.3 1315.9,1265.3 1317.2,1258.8 1318.5,1265.5 1319.8,1264.9 1321.1,1260.8 1322.4,1264.4 1323.7,1254.4 1325.0,1250.1 1326.3,1255.3 1327.6,1254.5 1328.9,1252.4 1330.8,1250.5 1331.5,1245.2 1332.8,1252.3 1334.1,1252.7 1335.4,1258.7 1336.7,1259.3 1338.0,1256.5 1339.3,1262.7 1340.6,1264.9 1341.9,1265.7 1343.2,1261.4 1344.5,1259.9 1345.8,1265.6 1347.1,1263.9 1348.4,1263.5 1349.7,1267.1 1351.0,1267.9 1352.3,1266.4 1353.6,1263.9 1354.9,1269.1 1356.2,1261.9 1357.5,1264.1 1358.8,1265.5 1360.1,1260.5 1361.4,1261.8 1362.7,1267.1 1364.0,1264.9 1365.3,1261.6 1366.6,1269.7 1367.9,1266.3 1369.2,1265.6 1370.5,1271.0 1371.8,1261.4 1373.1,1263.0 1374.4,1262.0 1375.7,1269.0 1377.0,1263.4 1378.3,1272.6 1379.6,1268.1 1380.9,1266.9 1382.2,1268.9 1383.5,1265.4 1384.8,1262.8 1386.1,1263.4 1387.4,1265.5 1388.7,1262.7 1390.0,1265.8 1391.3,1263.9 1392.6,1264.9 1393.9,1265.6 1395.2,1271.0 1396.5,1274.1 1397.8,1273.3 1399.1,1267.0 1400.4,1264.5 1401.7,1269.7 1403.0,1271.4 1404.3,1270.5 1405.6,1265.6 1406.9,1267.7 1408.2,1266.2 1409.5,1270.1 1410.8,1270.4 1412.1,1268.2 1413.4,1265.9 1414.7,1272.4 1416.0,1268.5 1417.3,1269.9 1418.6,1269.3 1419.9,1270.0 1421.2,1271.3 1422.5,1266.7 1423.8,1265.7 1425.1,1268.9 1426.4,1257.3 1427.7,1265.5 1429.0,1265.5 1430.3,1269.3 1431.6,1268.6 1432.9,1266.8 1434.2,1263.5 1435.5,1266.1 1436.8,1266.0 1438.1,1267.3 1439.4,1267.9 1440.7,1265.1 1442.0,1268.5 1443.3,1265.7 1444.6,1268.3 1445.9,1268.2 1447.2,1271.3 1448.5,1267.7 1449.8,1272.3 1451.1,1266.8 1452.4,1264.3 1453.7,1268.7 1455.0,1263.5 1456.3,1267.7 1457.6,1268.4 1458.9,1267.9 1460.2,1268.5 1461.5,1267.9 1462.8,1271.3 1464.1,1267.3 1465.4,1261.0 1466.7,1265.0 1468.0,1269.4 1469.3,1270.6 1470.6,1269.8 1471.9,1267.6 1473.2,1264.2 1474.5,1271.6 1475.8,1265.9 1477.1,1263.4 1478.4,1258.8 1479.7,1271.7 1481.0,1267.6 1482.3,1261.1 1483.6,1268.7 1484.9,1269.2 1486.2,1261.8 1487.5,1268.4 1488.8,1266.9 1490.1,1268.7 1491.4,1271.0 1492.7,1265.6 1494.0,1272.9 1495.3,1266.6 1496.6,1263.9 1497.9,1268.8 1499.2,1263.3 1500.5,1263.0 1501.8,1265.9 1503.1,1259.9 1504.4,1256.2 1505.7,1259.0 1507.0,1256.5 1508.3,1252.1 1509.6,1253.9 1510.9,1245.8 1512.3,1248.5 1513.5,1245.7 1514.8,1251.8 1516.1,1249.7 1517.4,1257.4 1518.7,1258.3 1520.0,1258.9 1521.3,1261.8 1522.6,1262.5 1523.9,1266.3 1525.2,1262.7 1526.5,1266.0 1527.8,1264.4 1529.1,1263.4 1530.4,1263.7 1531.7,1262.0 1533.0,1266.3 1534.3,1266.3 1535.6,1267.2 1536.9,1261.2 1538.2,1263.9 1539.5,1270.5 1540.8,1270.5 1542.1,1266.3 1543.4,1266.1 1544.7,1266.4 1546.0,1268.9 1547.3,1270.0 1548.6,1265.6 1549.9,1263.4 1551.2,1260.6 1552.5,1259.7 1554.0,1258.2 1555.1,1257.1 1556.4,1261.9 1557.7,1258.7 1559.0,1259.9 1560.3,1259.2 1561.6,1263.0 1562.9,1270.5 1564.2,1272.3 1565.5,1270.1 1566.8,1267.2 1568.1,1270.3 1569.4,1264.2 1570.7,1262.2 1572.0,1263.6 1573.3,1265.9 1574.6,1261.2 1575.9,1263.8 1577.2,1271.9 1578.5,1267.3 1579.8,1265.9 1581.1,1265.0 1582.4,1269.1 1583.7,1269.5 1585.0,1267.8 1586.3,1266.8 1587.6,1260.4 1588.9,1261.6 1590.2,1265.1 1591.5,1265.1 1592.8,1265.9 1594.1,1265.5 1595.4,1272.5 1596.7,1271.5 1598.0,1264.4 1599.3,1269.1 1600.6,1268.7 1601.9,1267.2 1603.2,1266.3 1604.5,1268.1 1605.8,1273.0 1607.1,1266.2 1608.4,1266.3 1609.7,1266.5 1611.0,1261.5 1612.3,1266.1 1613.6,1264.1 1614.9,1267.2 1616.2,1268.1 1617.5,1272.6 1618.8,1266.9 1620.1,1265.9 1621.4,1268.9 1622.7,1273.2 1624.0,1268.2 1625.3,1268.4 1626.6,1268.7 1627.9,1268.5 1629.2,1265.3 1630.5,1263.9 1631.8,1264.0 1633.1,1264.9 1634.4,1267.1 1635.7,1263.8 1637.0,1263.5 1638.3,1265.9 1639.6,1265.8 1640.9,1266.4 1642.2,1262.3 1643.5,1271.4 1644.8,1266.2 1646.1,1265.2 1647.4,1263.2 1648.7,1266.9 1650.0,1269.1 1651.3,1266.2 1652.6,1265.5 1653.9,1264.9 1655.2,1272.4 1656.5,1268.4 1657.8,1264.6 1659.1,1265.8 1660.4,1268.8 1661.7,1266.4 1663.0,1266.5 1664.3,1266.2 1665.6,1265.0 1666.9,1267.1 1668.2,1270.7 1669.5,1267.7 1670.8,1264.9 1672.1,1262.8 1673.4,1264.8 1674.7,1263.6 1676.0,1262.4 1677.3,1266.9 1678.6,1266.5 1679.9,1268.7 1681.2,1267.2 1682.5,1264.3 1683.8,1267.8 1685.1,1266.7 1686.4,1269.4 1687.7,1262.4 1689.0,1263.2 1690.3,1264.5 1691.6,1269.0 1692.9,1266.1 1694.2,1260.4 1695.5,1259.9 1696.8,1263.8 1698.1,1257.4 1699.4,1258.5 1700.7,1259.5 1702.0,1258.1 1703.3,1258.9 1704.6,1259.5 1705.9,1256.8 1707.2,1250.4 1708.5,1256.1 1709.8,1254.8 1711.1,1247.6 1712.4,1246.8 1713.7,1242.5 1715.0,1249.2 1716.3,1243.7 1718.0,1244.0 1718.9,1245.1 1720.2,1247.4 1721.5,1244.2 1722.8,1242.4 1724.1,1240.7 1725.4,1232.5 1726.7,1218.3 1728.0,1208.8 1729.3,1194.0 1730.6,1191.2 1731.9,1174.5 1733.2,1166.4 1734.5,1153.9 1735.8,1140.7 1737.1,1128.4 1738.4,1111.6 1739.5,1105.2 1741.0,1119.0 1742.3,1136.7 1743.6,1152.2 1744.9,1178.4 1746.2,1189.5 1747.5,1206.5 1748.8,1216.5 1750.1,1237.4 1751.4,1246.3 1752.7,1258.7 1754.0,1259.4 1755.3,1256.5 1756.6,1255.2 1757.9,1262.4 1759.2,1260.1 1760.5,1262.6 1761.8,1270.2 1763.1,1264.6 1764.4,1271.1 1765.7,1267.1 1767.0,1262.3 1768.3,1266.9 1769.6,1269.3 1770.9,1268.8 1772.2,1264.3 1773.5,1262.6 1774.8,1268.3 1776.1,1272.4 1777.4,1272.6 1778.7,1266.3 1780.0,1265.8 1781.3,1267.3 1782.6,1270.2 1783.9,1268.6 1785.2,1268.4 1786.5,1267.1 1787.8,1258.9 1789.1,1262.0 1790.4,1266.7 1791.7,1262.2 1793.0,1272.6 1794.3,1265.5 1795.6,1268.9 1796.9,1270.3 1798.2,1271.1 1799.5,1264.2 1800.8,1266.2 1802.1,1271.8 1803.4,1268.1 1804.7,1269.9 1806.0,1260.1 1807.3,1267.4 1808.6,1267.7 1809.9,1266.9 1811.2,1261.7 1812.5,1264.1 1813.8,1265.9 1815.1,1265.9 1816.4,1263.6 1817.7,1270.0 1819.0,1270.6 1820.3,1266.6 1821.6,1271.6 1822.9,1264.2 1824.2,1267.7 1825.5,1272.4 1826.8,1269.8 1828.1,1267.2 1829.4,1268.8 1830.7,1267.1 1832.0,1265.5 1833.3,1264.6 1834.6,1266.9 1835.9,1266.7 1837.2,1268.1 1838.5,1264.7 1839.8,1267.6 1841.1,1270.2 1842.4,1265.7 1843.7,1271.8 1845.0,1265.5 1846.3,1264.6 1847.6,1264.8 1848.9,1262.9 1850.2,1261.6 1851.5,1262.5 1852.8,1265.5 1854.1,1264.2 1855.4,1271.2 1856.7,1267.0 1858.0,1265.7 1859.3,1265.1 1860.6,1268.2 1861.9,1267.5 1863.2,1268.2 1864.5,1269.9 1865.8,1272.3 1867.1,1265.2 1868.4,1269.1 1869.7,1267.7 1871.0,1268.2 1872.3,1265.7 1873.6,1269.0 1874.9,1269.5 1876.2,1268.8 1877.5,1265.3 1878.8,1269.2 1880.1,1264.8 1881.4,1262.3 1882.7,1269.1 1884.0,1267.3 1885.3,1262.5 1886.6,1264.5 1887.9,1266.9 1889.2,1270.1 1890.5,1266.8 1891.8,1264.4 1893.1,1263.0 1894.4,1261.5 1895.7,1264.3 1897.0,1261.9 1898.3,1264.6 1899.6,1259.7 1900.9,1263.2 1902.2,1259.0 1903.0,1259.0 1904.8,1259.7 1906.1,1260.9 1907.4,1267.8 1908.7,1262.9 1910.0,1263.6 1911.3,1265.2 1912.6,1268.6 1913.9,1264.4 1915.2,1271.4 1916.5,1265.2 1917.8,1265.6 1919.1,1267.8 1920.4,1268.3 1921.7,1265.2 1923.0,1270.2 1924.3,1273.9 1925.6,1268.9 1926.9,1270.5 1928.2,1270.8 1929.5,1276.5 1930.8,1270.2 1932.1,1270.0 1933.4,1267.8 1934.7,1269.4 1936.0,1267.8 1937.3,1267.3 1938.6,1267.6 1939.9,1271.2 1941.2,1268.0 1942.5,1271.1 1943.8,1268.6 1945.1,1272.2 1946.4,1265.5 1947.7,1264.8 1949.0,1270.0 1950.3,1273.4 1951.6,1268.0 1952.9,1262.3 1954.2,1271.2 1955.5,1270.6 1956.8,1266.8 1958.1,1272.8 1959.4,1273.6 1960.7,1267.7 1962.0,1267.5 1963.3,1270.7 1964.6,1271.2 1965.9,1273.4 1967.2,1271.1 1968.5,1275.3 1969.8,1268.8 1971.1,1266.2 1972.4,1266.6 1973.7,1266.3 1975.0,1268.1 1976.3,1266.3 1977.6,1271.0 1978.9,1272.9 1980.2,1274.5 1981.5,1268.3 1982.8,1265.0 1984.1,1267.2 1985.4,1268.8 1986.7,1267.5 1988.0,1270.2 1989.3,1270.7 1990.6,1270.3 1991.9,1266.5 1993.2,1271.2 1994.5,1266.7 1995.8,1261.2 1997.1,1267.2 1998.4,1272.1 1999.7,1269.1 2001.0,1263.8 2002.3,1266.8 2003.6,1271.8 2004.9,1269.5 2006.2,1268.3 2007.5,1264.7 2008.8,1267.7 2010.1,1266.3 2011.4,1272.7 2012.7,1270.0 2014.0,1271.2 2015.3,1264.0 2016.6,1267.8"/>
<polyline fill="none" stroke="#0000ff" stroke-width="3.0" stroke-linejoin="bevel" shape-rendering="crispEdges" points="259.0,1057.9 260.3,1040.4 261.6,1053.0 262.9,1051.5 264.2,1055.9 265.5,1053.1 266.8,1058.0 268.1,1052.0 269.4,1049.1 270.7,1052.7 272.0,1052.7 273.3,1049.7 274.6,1049.7 275.9,1053.2 277.2,1053.7 278.5,1049.3 279.8,1049.1 281.1,1043.6 282.4,1055.8 283.7,1050.5 285.0,1055.5 286.3,1052.8 287.6,1058.1 288.9,1057.4 290.2,1052.7 291.5,1056.3 292.8,1047.7 294.1,1054.7 295.4,1045.5 296.7,1050.9 298.0,1054.3 299.3,1051.7 300.6,1049.1 301.9,1047.0 303.2,1048.4 304.5,1053.8 305.8,1054.0 307.1,1049.7 308.4,1045.4 309.7,1051.8 311.0,1044.9 312.3,1047.2 313.6,1046.8 314.9,1052.2 316.2,1051.1 317.5,1051.7 318.8,1051.1 320.1,1047.4 321.4,1051.3 322.7,1055.1 324.0,1050.3 325.3,1052.0 326.6,1049.4 327.9,1053.3 329.2,1052.5 330.5,1053.1 331.8,1051.2 333.1,1055.7 334.4,1049.0 335.7,1048.1 337.0,1047.0 338.3,1051.3 339.6,1047.4 340.9,1046.7 342.2,1051.6 343.5,1054.0 344.8,1052.1 346.1,1039.8 347.4,1044.3 348.7,1044.6 350.0,1044.1 351.3,1046.9 352.6,1055.5 353.9,1048.9 355.2,1046.3 356.5,1051.1 357.8,1049.4 359.1,1049.3 360.4,1046.3 361.7,1048.2 363.0,1050.0 364.3,1041.6 365.6,1041.3 366.9,1051.0 368.2,1051.5 369.5,1046.4 370.8,1043.6 372.1,1046.1 373.4,1042.5 374.7,1044.8 376.0,1052.2 377.3,1047.4 378.6,1050.2 379.9,1045.1 381.2,1046.1 382.5,1049.4 383.8,1039.5 385.1,1041.0 386.4,1041.2 387.7,1042.0 389.0,1045.8 390.3,1042.0 391.6,1032.1 392.9,1033.5 394.2,1029.5 395.5,1026.6 396.8,1034.0 398.1,1020.5 399.4,1018.9 400.7,1009.8 402.0,1007.1 403.3,995.6 404.6,980.5 405.9,960.1 407.2,936.9 408.5,890.6 409.8,834.1 411.1,757.0 412.4,681.9 414.0,623.6 415.0,642.6 416.3,719.7 417.6,812.6 418.9,869.9 420.2,918.5 421.5,949.7 422.8,970.3 424.1,983.7 425.4,996.3 426.7,1005.2 428.0,1005.1 429.3,1026.6 430.6,1027.1 431.9,1026.8 433.2,1027.7 434.5,1027.4 435.8,1035.0 437.1,1033.2 438.4,1036.2 439.7,1030.6 441.0,1036.4 442.3,1043.2 443.6,1036.0 444.9,1038.8 446.2,1036.2 447.5,1039.3 448.8,1039.2 450.1,1035.0 451.4,1031.4 452.7,1033.0 454.0,1031.3 455.3,1027.4 456.6,1029.1 457.9,1027.3 459.2,1019.9 460.5,1018.6 461.8,1025.4 463.1,1014.0 464.4,1003.1 465.7,1001.1 467.0,977.7 468.3,949.3 469.6,922.0 470.9,885.0 472.2,845.4 473.5,810.6 474.3,799.0 476.1,837.1 477.4,876.1 478.7,920.5 480.0,951.7 481.3,972.7 482.6,985.7 483.9,996.4 485.2,999.2 486.5,1009.0 487.8,1016.2 489.1,1019.6 490.4,1028.0 491.7,1025.3 493.0,1024.7 494.3,1028.9 495.6,1025.1 496.9,1019.7 498.2,1015.9 499.5,1028.1 500.8,1028.0 502.1,1029.7 503.4,1026.4 504.7,1028.8 506.0,1035.1 507.3,1031.1 508.6,1025.8 509.9,1027.8 511.2,1035.0 512.5,1027.7 513.8,1021.7 515.1,1022.1 516.4,1025.9 517.7,1034.3 519.0,1033.4 520.3,1030.6 521.6,1028.6 522.9,1032.7 524.2,1033.4 525.5,1032.4 526.8,1033.6 528.1,1032.2 529.4,1041.3 530.7,1028.2 532.0,1035.2 533.3,1032.5 534.6,1038.3 535.9,1036.1 537.2,1038.1 538.5,1039.2 539.8,1038.4 541.1,1041.2 542.4,1033.5 543.7,1040.8 545.0,1038.0 546.3,1039.8 547.6,1044.4 548.9,1043.8 550.2,1046.9 551.5,1032.7 552.8,1035.3 554.1,1042.6 555.4,1036.5 556.7,1039.1 558.0,1046.3 559.3,1044.6 560.6,1038.2 561.9,1042.3 563.2,1043.8 564.5,1042.2 565.8,1041.5 567.1,1042.4 568.4,1037.0 569.7,1042.1 571.0,1039.2 572.3,1043.7 573.6,1044.6 574.9,1040.3 576.2,1045.1 577.5,1045.1 578.8,1043.9 580.1,1046.5 581.4,1043.6 582.7,1043.4 584.0,1044.8 585.3,1044.8 586.6,1049.1 587.9,1037.8 589.2,1043.5 590.5,1038.6 591.8,1043.2 593.1,1046.7 594.4,1046.6 595.7,1050.1 597.0,1048.6 598.3,1037.9 599.6,1042.1 600.9,1052.2 602.2,1053.9 603.5,1049.3 604.8,1043.1 606.1,1055.2 607.4,1042.5 608.7,1049.1 610.0,1049.0 611.3,1050.1 612.6,1045.5 613.9,1047.6 615.2,1053.1 616.5,1048.7 617.8,1045.1 619.1,1049.4 620.4,1050.5 621.7,1050.0 623.0,1047.8 624.3,1052.2 625.6,1050.7 626.9,1047.0 628.2,1051.4 629.5,1051.3 630.8,1052.0 632.1,1045.9 633.4,1048.4 634.7,1053.1 636.0,1055.5 637.3,1054.1 638.6,1053.3 639.9,1055.3 641.2,1056.5 642.5,1059.4 643.8,1055.5 645.1,1051.4 646.4,1054.5 647.7,1046.7 649.0,1052.4 650.3,1051.6 651.6,1053.0 652.9,1055.0 654.2,1053.8 655.5,1048.6 656.8,1051.6 658.1,1050.6 659.4,1053.1 660.7,1054.8 662.0,1050.6 663.3,1055.8 664.6,1058.6 665.9,1053.7 667.2,1056.4 668.5,1049.3 669.8,1051.5 671.1,1057.0 672.4,1048.6 673.7,1051.6 675.0,1050.8 676.3,1057.6 677.6,1058.7 678.9,1052.9 680.2,1054.6 681.5,1045.6 682.8,1056.0 684.1,1055.9 685.4,1059.2 686.7,1047.2 688.0,1054.6 689.3,1053.4 690.6,1045.6 691.9,1050.9 693.2,1053.8 694.5,1057.2 695.8,1055.7 697.1,1053.1 698.4,1055.9 699.7,1054.5 701.0,1052.5 702.3,1050.9 703.6,1054.6 704.9,1055.1 706.2,1060.8 707.5,1053.9 708.8,1059.7 710.1,1056.3 711.4,1058.4 712.7,1051.6 714.0,1050.4 715.3,1051.8 716.6,1055.6 717.9,1053.2 719.2,1053.8 720.5,1051.2 721.8,1051.2 723.1,1045.4 724.4,1037.0 725.7,1030.8 727.0,1016.5 728.5,1006.0 729.6,1012.3 730.9,1026.0 732.2,1035.3 733.5,1046.6 734.8,1050.3 736.1,1052.0 737.4,1047.3 738.7,1046.5 740.0,1052.8 741.3,1055.6 742.6,1058.7 743.9,1048.6 745.2,1052.3 746.5,1047.6 747.8,1048.9 749.1,1050.6 750.4,1053.2 751.7,1046.2 753.0,1040.5 754.3,1036.8 755.0,1037.3 756.9,1051.1 758.2,1043.5 759.5,1048.7 760.8,1050.3 762.1,1056.4 763.4,1055.3 764.7,1058.8 766.0,1051.0 767.3,1052.8 768.6,1051.1 769.9,1047.9 771.2,1049.1 772.5,1044.0 773.8,1051.0 775.1,1041.5 776.4,1028.2 777.7,1018.3 779.3,1013.0 780.3,1015.6 781.6,1028.5 782.9,1037.9 784.2,1045.9 785.5,1048.4 786.8,1047.1 788.1,1045.2 789.4,1039.9 791.0,1045.0 792.0,1046.4 793.3,1047.5 794.6,1050.1 795.9,1047.8 797.2,1057.7 798.5,1048.9 799.8,1042.6 801.1,1039.4 801.9,1040.8 803.7,1047.6 805.0,1042.4 806.3,1053.1 807.6,1052.3 808.9,1054.3 810.2,1058.7 811.5,1058.6 812.8,1053.9 814.1,1054.6 815.4,1059.9 816.7,1057.4 818.0,1052.5 819.3,1043.4 820.6,1034.9 822.4,1017.5 823.2,1020.0 824.5,1031.8 825.8,1046.3 827.1,1052.1 828.4,1057.9 829.7,1054.9 831.0,1061.2 832.3,1057.2 833.6,1062.1 834.9,1060.9 836.2,1057.5 837.5,1055.9 838.8,1058.2 840.1,1057.9 841.4,1061.1 842.7,1055.6 844.0,1050.5 845.3,1051.8 846.0,1052.0 847.9,1061.3 849.2,1056.7 850.5,1058.0 851.8,1060.6 853.1,1058.3 854.4,1059.5 855.7,1059.8 857.0,1057.6 858.3,1058.6 859.6,1059.3 860.9,1061.6 862.2,1057.6 863.5,1060.9 864.8,1058.1 866.1,1058.1 867.4,1056.9 868.7,1072.1 870.0,1065.6 871.3,1064.2 872.6,1061.3 873.9,1055.9 875.2,1052.9 876.5,1048.8 878.0,1044.3 879.1,1048.6 880.4,1056.5 881.7,1047.5 883.0,1055.2 884.3,1061.2 885.6,1059.8 886.9,1060.7 888.2,1066.1 889.5,1063.3 890.8,1067.9 892.1,1063.3 893.4,1063.6 894.7,1059.9 896.0,1056.7 897.3,1061.0 898.6,1063.2 899.9,1062.4 901.2,1059.3 902.5,1064.9 903.8,1064.0 905.1,1063.8 906.4,1061.5 907.7,1068.3 909.0,1068.9 910.3,1065.6 911.6,1063.9 912.9,1064.8 914.2,1069.2 915.5,1073.1 916.8,1065.6 918.1,1063.2 919.4,1058.8 920.7,1071.7 922.0,1062.2 923.3,1066.6 924.6,1066.2 925.9,1068.6 927.2,1062.6 928.5,1059.5 929.8,1064.2 931.1,1065.7 932.4,1068.1 933.7,1060.3 935.0,1062.7 936.3,1063.6 937.6,1060.6 938.9,1063.6 940.2,1066.8 941.5,1064.9 942.8,1060.5 944.1,1065.0 945.4,1067.1 946.7,1066.4 948.0,1066.9 949.3,1059.8 950.6,1064.6 951.9,1065.4 953.2,1062.2 954.5,1061.9 955.8,1058.8 957.1,1062.5 958.4,1056.7 959.7,1052.1 960.8,1054.0 962.3,1055.8 963.6,1059.9 964.9,1058.1 966.2,1059.6 967.5,1063.7 968.8,1070.2 970.1,1066.6 971.4,1061.2 972.7,1065.0 974.0,1063.0 975.3,1059.9 976.6,1062.9 977.9,1063.7 979.2,1066.7 980.5,1069.8 981.8,1069.8 983.1,1069.0 984.4,1065.5 985.7,1066.6 987.0,1066.3 988.3,1070.4 989.6,1065.3 990.9,1064.8 992.2,1070.5 993.5,1068.9 994.8,1065.8 996.1,1067.1 997.4,1067.3 998.7,1067.5 1000.0,1069.2 1001.3,1068.3 1002.6,1066.6 1003.9,1065.5 1005.2,1062.0 1006.5,1065.0 1007.8,1069.8 1009.1,1068.0 1010.4,1065.3 1011.7,1066.0 1013.0,1064.5 1014.3,1067.4 1015.6,1072.5 1016.9,1072.8 1018.2,1071.1 1019.5,1069.7 1020.8,1066.7 1022.1,1063.5 1023.4,1066.5 1024.7,1065.6 1026.0,1069.0 1027.3,1067.7 1028.6,1065.4 1029.9,1067.9 1031.2,1075.0 1032.5,1065.6 1033.8,1069.7 1035.1,1068.9 1036.4,1066.8 1037.7,1064.7 1039.0,1066.5 1040.3,1067.3 1041.6,1068.8 1042.9,1068.8 1044.2,1067.7 1045.5,1064.8 1046.8,1067.0 1048.1,1065.2 1049.4,1063.3 1050.7,1068.1 1052.0,1064.5 1053.3,1062.4 1054.6,1065.4 1055.9,1060.3 1057.2,1064.3 1058.5,1066.1 1059.8,1063.7 1061.1,1064.8 1062.4,1069.7 1063.7,1067.9 1065.0,1065.6 1066.3,1063.6 1067.6,1059.1 1068.9,1057.9 1070.2,1055.2 1071.5,1052.7 1072.8,1048.2 1074.1,1038.7 1075.4,1034.6 1076.7,1015.2 1078.0,1005.4 1079.0,1000.8 1080.6,1010.4 1081.9,1022.1 1083.2,1035.6 1084.5,1049.6 1085.8,1052.8 1087.1,1054.0 1088.4,1058.8 1089.7,1059.1 1091.0,1055.9 1092.3,1061.9 1093.6,1065.6 1094.9,1067.0 1096.2,1064.5 1097.5,1060.9 1098.8,1067.5 1100.1,1065.2 1101.4,1067.4 1102.7,1068.9 1104.0,1067.3 1105.3,1066.1 1106.6,1064.5 1107.9,1064.9 1109.2,1066.3 1110.5,1065.3 1111.8,1067.3 1113.1,1061.7 1114.4,1063.3 1115.7,1066.1 1117.0,1064.9 1118.3,1065.1 1119.6,1063.7 1120.9,1068.1 1122.2,1071.3 1123.5,1064.9 1124.8,1069.5 1126.1,1063.5 1127.4,1066.6 1128.7,1061.6 1130.0,1067.2 1131.3,1066.8 1132.6,1067.1 1133.9,1069.8 1135.2,1068.6 1136.5,1066.8 1137.8,1064.4 1139.1,1066.3 1140.4,1064.6 1141.7,1065.0 1143.0,1069.9 1144.3,1069.0 1145.6,1067.3 1146.9,1067.9 1148.2,1062.6 1149.5,1065.7 1150.8,1061.6 1152.1,1063.6 1153.4,1066.5 1154.7,1066.9 1156.0,1067.7 1157.3,1066.3 1158.6,1065.6 1159.9,1065.0 1161.2,1067.9 1162.5,1067.2 1163.8,1058.6 1165.1,1059.1 1167.0,1056.4 1167.7,1056.6 1169.0,1060.0 1170.3,1060.5 1171.6,1060.3 1172.9,1064.4 1174.2,1064.1 1175.5,1064.9 1176.8,1062.0 1178.1,1062.4 1179.4,1065.0 1180.7,1064.7 1182.0,1067.0 1183.3,1063.3 1184.6,1067.1 1185.9,1067.3 1187.2,1066.1 1188.5,1067.2 1189.8,1065.3 1191.1,1064.5 1192.4,1064.3 1193.7,1060.5 1195.0,1062.0 1196.3,1063.1 1197.6,1055.7 1198.9,1058.4 1200.2,1053.4 1201.5,1051.0 1202.8,1049.4 1204.1,1047.6 1206.0,1045.0 1206.7,1044.2 1208.0,1048.0 1209.3,1044.4 1210.6,1044.5 1211.9,1043.3 1213.2,1036.1 1214.5,1026.6 1215.8,1015.4 1217.1,994.9 1218.4,963.9 1219.7,925.1 1221.3,902.5 1222.3,913.3 1223.6,945.4 1224.9,985.9 1226.2,1015.0 1227.5,1029.4 1228.8,1045.6 1230.1,1049.1 1231.4,1056.8 1232.7,1066.1 1234.0,1067.2 1235.3,1067.4 1236.6,1068.5 1237.9,1065.9 1239.2,1068.5 1240.5,1069.2 1241.8,1065.6 1243.1,1067.7 1244.4,1068.3 1245.7,1066.9 1247.0,1066.1 1248.3,1063.1 1249.6,1058.8 1250.9,1058.6 1252.2,1051.0 1253.5,1048.9 1254.8,1048.1 1256.1,1043.7 1257.4,1033.1 1258.7,1018.8 1260.6,1019.0 1261.3,1021.4 1262.6,1024.0 1263.9,1032.9 1265.2,1039.9 1266.5,1042.1 1267.8,1046.2 1269.1,1055.4 1270.4,1051.1 1271.7,1058.9 1273.0,1060.4 1274.3,1062.8 1275.6,1065.0 1276.9,1063.8 1278.2,1063.0 1279.5,1059.1 1280.8,1054.6 1282.1,1051.4 1283.9,1045.0 1284.7,1044.1 1286.0,1049.8 1287.3,1051.1 1288.6,1056.8 1289.9,1065.7 1291.2,1064.8 1292.5,1063.9 1293.8,1063.4 1295.1,1061.0 1296.4,1063.8 1297.7,1063.9 1299.0,1065.8 1300.3,1066.3 1301.6,1066.1 1302.9,1061.8 1304.2,1068.9 1305.5,1067.6 1306.8,1066.6 1308.1,1065.8 1309.4,1067.5 1310.7,1069.7 1312.0,1068.6 1313.3,1064.5 1314.6,1063.6 1315.9,1060.9 1317.2,1066.1 1318.5,1068.0 1319.8,1069.1 1321.1,1066.1 1322.4,1066.2 1323.7,1060.9 1325.0,1061.5 1326.3,1058.0 1327.6,1054.3 1328.9,1050.1 1329.8,1053.8 1331.5,1050.4 1332.8,1058.3 1334.1,1058.5 1335.4,1063.7 1336.7,1063.5 1338.0,1067.5 1339.3,1066.8 1340.6,1065.3 1341.9,1066.7 1343.2,1064.6 1344.5,1068.8 1345.8,1071.3 1347.1,1070.4 1348.4,1069.7 1349.7,1072.3 1351.0,1067.3 1352.3,1070.5 1353.6,1069.9 1354.9,1068.8 1356.2,1071.0 1357.5,1067.6 1358.8,1069.4 1360.1,1070.8 1361.4,1067.7 1362.7,1069.4 1364.0,1071.4 1365.3,1072.7 1366.6,1068.8 1367.9,1072.3 1369.2,1070.3 1370.5,1070.9 1371.8,1069.6 1373.1,1072.4 1374.4,1069.6 1375.7,1071.5 1377.0,1072.0 1378.3,1073.0 1379.6,1069.2 1380.9,1072.7 1382.2,1071.6 1383.5,1074.6 1384.8,1071.2 1386.1,1070.3 1387.4,1071.3 1388.7,1070.9 1390.0,1071.2 1391.3,1068.9 1392.6,1066.9 1393.9,1067.9 1395.2,1070.1 1396.5,1072.7 1397.8,1071.5 1399.1,1070.0 1400.4,1071.5 1401.7,1072.2 1403.0,1078.2 1404.3,1075.9 1405.6,1073.2 1406.9,1069.3 1408.2,1071.5 1409.5,1071.5 1410.8,1073.4 1412.1,1077.1 1413.4,1072.9 1414.7,1068.2 1416.0,1071.5 1417.3,1068.7 1418.6,1073.7 1419.9,1075.0 1421.2,1073.6 1422.5,1069.5 1423.8,1071.7 1425.1,1075.0 1426.4,1070.8 1427.7,1071.0 1429.0,1072.9 1430.3,1073.7 1431.6,1072.9 1432.9,1073.4 1434.2,1073.2 1435.5,1071.5 1436.8,1072.3 1438.1,1073.2 1439.4,1070.5 1440.7,1072.8 1442.0,1072.9 1443.3,1073.7 1444.6,1073.6 1445.9,1070.7 1447.2,1069.8 1448.5,1072.8 1449.8,1072.5 1451.1,1072.9 1452.4,1071.6 1453.7,1070.0 1455.0,1072.9 1456.3,1072.6 1457.6,1074.1 1458.9,1075.3 1460.2,1075.5 1461.5,1075.3 1462.8,1071.2 1464.1,1068.2 1465.4,1070.8 1466.7,1070.0 1468.0,1069.7 1469.3,1073.7 1470.6,1069.6 1471.9,1074.1 1473.2,1075.2 1474.5,1078.5 1475.8,1075.7 1477.1,1077.4 1478.4,1072.0 1479.7,1071.1 1481.0,1074.3 1482.3,1070.0 1483.6,1074.3 1484.9,1072.0 1486.2,1068.2 1487.5,1075.2 1488.8,1070.1 1490.1,1076.5 1491.4,1069.3 1492.7,1069.2 1494.0,1071.1 1495.3,1070.6 1496.6,1066.8 1497.9,1069.1 1499.2,1068.9 1500.5,1068.4 1501.8,1063.0 1503.1,1062.6 1504.4,1061.6 1505.7,1061.1 1507.0,1057.6 1508.3,1054.6 1509.2,1054.8 1510.9,1059.0 1512.2,1057.3 1513.5,1061.6 1514.8,1059.3 1516.1,1068.2 1517.4,1068.4 1518.7,1065.0 1520.0,1069.9 1521.3,1072.7 1522.6,1072.5 1523.9,1071.3 1525.2,1072.9 1526.5,1070.3 1527.8,1071.0 1529.1,1071.1 1530.4,1072.0 1531.7,1070.0 1533.0,1074.5 1534.3,1072.2 1535.6,1069.9 1536.9,1071.2 1538.2,1072.3 1539.5,1071.6 1540.8,1073.2 1542.1,1070.2 1543.4,1068.2 1544.7,1069.4 1546.0,1069.9 1547.3,1064.1 1548.6,1060.8 1549.9,1063.5 1551.2,1063.8 1552.5,1063.7 1553.8,1067.5 1555.1,1067.3 1556.4,1071.6 1557.7,1069.0 1559.0,1069.6 1560.3,1072.0 1561.6,1073.8 1562.9,1074.7 1564.2,1072.0 1565.5,1073.1 1566.8,1074.4 1568.1,1076.4 1569.4,1072.4 1570.7,1071.2 1572.0,1074.3 1573.3,1073.5 1574.6,1076.4 1575.9,1074.4 1577.2,1074.7 1578.5,1072.7 1579.8,1074.4 1581.1,1076.5 1582.4,1074.1 1583.7,1072.0 1585.0,1075.6 1586.3,1073.9 1587.6,1074.4 1588.9,1073.0 1590.2,1075.9 1591.5,1073.3 1592.8,1073.4 1594.1,1074.3 1595.4,1074.1 1596.7,1070.3 1598.0,1074.8 1599.3,1072.4 1600.6,1074.7 1601.9,1073.9 1603.2,1074.3 1604.5,1073.2 1605.8,1072.5 1607.1,1074.6 1608.4,1075.1 1609.7,1076.6 1611.0,1076.0 1612.3,1073.6 1613.6,1076.7 1614.9,1079.1 1616.2,1076.7 1617.5,1074.7 1618.8,1073.0 1620.1,1074.7 1621.4,1072.2 1622.7,1075.9 1624.0,1074.3 1625.3,1073.7 1626.6,1075.2 1627.9,1072.7 1629.2,1071.4 1630.5,1073.6 1631.8,1076.9 1633.1,1073.7 1634.4,1076.3 1635.7,1071.8 1637.0,1074.3 1638.3,1075.7 1639.6,1078.2 1640.9,1072.3 1642.2,1074.4 1643.5,1073.3 1644.8,1075.2 1646.1,1074.0 1647.4,1075.0 1648.7,1073.6 1650.0,1073.8 1651.3,1075.5 1652.6,1077.7 1653.9,1075.7 1655.2,1075.3 1656.5,1074.2 1657.8,1077.6 1659.1,1072.0 1660.4,1071.1 1661.7,1073.1 1663.0,1075.5 1664.3,1076.7 1665.6,1076.2 1666.9,1076.4 1668.2,1075.4 1669.5,1074.1 1670.8,1072.8 1672.1,1075.1 1673.4,1073.0 1674.7,1074.8 1676.0,1075.5 1677.3,1073.0 1678.6,1072.7 1679.9,1072.1 1681.2,1073.7 1682.5,1072.6 1683.8,1070.5 1685.1,1071.2 1686.4,1072.7 1687.7,1070.1 1689.0,1068.6 1690.3,1066.7 1691.6,1064.7 1692.9,1065.1 1694.2,1064.5 1695.5,1063.1 1696.8,1064.8 1698.1,1062.3 1700.0,1062.0 1700.7,1062.2 1702.0,1062.8 1703.3,1059.3 1704.6,1062.4 1705.9,1064.9 1707.2,1061.6 1708.5,1063.8 1709.8,1062.7 1711.1,1061.6 1712.4,1063.2 1713.7,1062.3 1715.0,1058.2 1716.3,1059.1 1717.6,1060.4 1718.9,1057.3 1720.2,1055.7 1722.0,1056.0 1722.8,1053.5 1724.1,1046.4 1725.4,1035.3 1726.7,1025.5 1728.0,1018.8 1729.3,1010.5 1730.6,1000.0 1731.9,989.4 1733.2,975.6 1734.5,962.2 1735.8,951.4 1737.1,941.6 1738.6,931.0 1739.7,940.4 1741.0,956.3 1742.3,969.9 1743.6,989.4 1744.9,1003.0 1746.2,1013.9 1747.5,1027.1 1748.8,1040.7 1750.1,1055.5 1751.4,1067.7 1752.7,1070.5 1754.0,1072.4 1755.3,1074.3 1756.6,1074.7 1757.9,1071.9 1759.2,1072.7 1760.5,1073.4 1761.8,1072.6 1763.1,1076.8 1764.4,1075.3 1765.7,1075.2 1767.0,1075.1 1768.3,1077.0 1769.6,1077.9 1770.9,1078.3 1772.2,1079.3 1773.5,1076.2 1774.8,1079.8 1776.1,1081.8 1777.4,1077.5 1778.7,1077.2 1780.0,1078.7 1781.3,1080.0 1782.6,1077.9 1783.9,1076.8 1785.2,1081.2 1786.5,1077.9 1787.8,1073.9 1789.1,1078.5 1790.4,1080.0 1791.7,1081.3 1793.0,1081.7 1794.3,1083.8 1795.6,1078.5 1796.9,1077.1 1798.2,1076.2 1799.5,1081.0 1800.8,1078.4 1802.1,1076.1 1803.4,1075.2 1804.7,1078.5 1806.0,1078.2 1807.3,1079.3 1808.6,1077.7 1809.9,1077.6 1811.2,1079.5 1812.5,1078.8 1813.8,1079.9 1815.1,1079.0 1816.4,1078.7 1817.7,1079.6 1819.0,1078.7 1820.3,1079.4 1821.6,1080.0 1822.9,1078.6 1824.2,1079.0 1825.5,1079.4 1826.8,1080.4 1828.1,1079.9 1829.4,1079.8 1830.7,1080.2 1832.0,1079.1 1833.3,1080.0 1834.6,1078.4 1835.9,1076.5 1837.2,1079.7 1838.5,1076.6 1839.8,1078.9 1841.1,1081.9 1842.4,1081.1 1843.7,1078.3 1845.0,1080.6 1846.3,1080.2 1847.6,1078.5 1848.9,1079.4 1850.2,1078.9 1851.5,1079.2 1852.8,1080.2 1854.1,1077.5 1855.4,1080.8 1856.7,1083.1 1858.0,1080.1 1859.3,1078.4 1860.6,1079.1 1861.9,1081.7 1863.2,1079.5 1864.5,1080.6 1865.8,1083.6 1867.1,1079.5 1868.4,1080.1 1869.7,1079.2 1871.0,1079.4 1872.3,1080.2 1873.6,1079.0 1874.9,1080.7 1876.2,1080.5 1877.5,1082.0 1878.8,1081.6 1880.1,1081.0 1881.4,1082.7 1882.7,1080.4 1884.0,1081.3 1885.3,1079.5 1886.6,1082.4 1887.9,1079.6 1889.2,1081.8 1890.5,1079.6 1891.8,1080.7 1893.1,1078.9 1894.4,1079.1 1895.7,1078.9 1897.0,1081.0 1898.3,1081.5 1899.6,1081.9 1900.9,1081.4 1902.2,1080.5 1903.5,1081.7 1904.8,1083.2 1906.1,1080.6 1907.4,1079.6 1908.7,1081.5 1910.0,1084.0 1911.3,1081.2 1912.6,1080.4 1913.9,1079.3 1915.2,1079.6 1916.5,1079.3 1917.8,1079.3 1919.1,1082.3 1920.4,1083.1 1921.7,1081.5 1923.0,1081.3 1924.3,1082.4 1925.6,1081.3 1926.9,1081.3 1928.2,1082.1 1929.5,1081.3 1930.8,1083.2 1932.1,1086.4 1933.4,1082.0 1934.7,1081.8 1936.0,1080.1 1937.3,1080.5 1938.6,1081.3 1939.9,1082.0 1941.2,1081.2 1942.5,1079.6 1943.8,1081.7 1945.1,1080.7 1946.4,1081.9 1947.7,1081.2 1949.0,1081.3 1950.3,1081.4 1951.6,1078.3 1952.9,1082.9 1954.2,1080.4 1955.5,1081.9 1956.8,1082.5 1958.1,1080.9 1959.4,1079.5 1960.7,1082.2 1962.0,1080.3 1963.3,1081.4 1964.6,1082.3 1965.9,1081.1 1967.2,1079.1 1968.5,1080.3 1969.8,1082.3 1971.1,1080.6 1972.4,1082.9 1973.7,1079.7 1975.0,1080.1 1976.3,1078.9 1977.6,1080.0 1978.9,1083.8 1980.2,1083.0 1981.5,1081.6 1982.8,1080.9 1984.1,1083.4 1985.4,1081.9 1986.7,1080.4 1988.0,1084.0 1989.3,1080.3 1990.6,1082.0 1991.9,1082.9 1993.2,1083.5 1994.5,1085.2 1995.8,1083.7 1997.1,1081.2 1998.4,1083.6 1999.7,1082.7 2001.0,1080.4 2002.3,1080.2 2003.6,1080.6 2004.9,1078.7 2006.2,1082.2 2007.5,1083.0 2008.8,1083.0 2010.1,1081.1 2011.4,1081.9 2012.7,1083.9 2014.0,1083.0 2015.3,1082.1 2016.6,1081.1"/>
<polyline fill="none" stroke="#ff0000" stroke-width="2.8" stroke-linejoin="bevel" shape-rendering="crispEdges" points="259.0,849.5 260.3,853.0 261.6,852.5 262.9,852.4 264.2,855.4 265.5,846.4 266.8,847.0 268.1,844.8 269.4,848.5 270.7,852.8 272.0,850.0 273.3,851.3 274.6,843.5 275.9,849.2 277.2,846.5 278.5,855.1 279.8,853.4 281.1,853.4 282.4,850.0 283.7,851.8 285.0,852.2 286.3,848.9 287.6,847.9 288.9,849.1 290.2,847.6 291.5,847.4 292.8,848.4 294.1,847.1 295.4,851.9 296.7,844.7 298.0,851.7 299.3,847.9 300.6,847.6 301.9,844.9 303.2,848.5 304.5,848.7 305.8,850.2 307.1,848.0 308.4,849.8 309.7,855.8 311.0,852.0 312.3,848.1 313.6,852.6 314.9,849.7 316.2,851.6 317.5,852.0 318.8,848.7 320.1,843.1 321.4,847.5 322.7,851.1 324.0,848.6 325.3,850.9 326.6,853.0 327.9,848.3 329.2,853.4 330.5,855.3 331.8,853.6 333.1,853.4 334.4,852.9 335.7,856.4 337.0,849.8 338.3,848.0 339.6,849.5 340.9,844.5 342.2,841.3 343.5,842.8 344.8,846.9 346.1,847.6 347.4,840.8 348.7,838.4 350.0,842.9 351.3,844.3 352.6,845.2 353.9,847.9 355.2,850.3 356.5,847.6 357.8,848.6 359.1,843.4 360.4,842.5 361.7,847.1 363.0,849.4 364.3,850.0 365.6,849.8 366.9,850.5 368.2,850.8 369.5,842.5 370.8,844.7 372.1,848.9 373.4,850.0 374.7,843.3 376.0,851.0 377.3,846.8 378.6,846.7 379.9,848.1 381.2,849.7 382.5,842.5 383.8,848.9 385.1,846.5 386.4,842.8 387.7,843.1 389.0,836.1 390.3,838.9 391.6,840.1 392.9,835.3 394.2,833.4 395.5,830.8 396.8,827.6 398.1,826.1 399.4,817.2 400.7,808.5 402.0,801.3 403.3,794.1 404.6,770.2 405.9,748.7 407.2,709.5 408.5,671.2 409.8,603.6 411.1,516.1 412.4,412.8 414.0,348.0 415.0,377.1 416.3,466.4 417.6,558.0 418.9,632.0 420.2,692.3 421.5,729.0 422.8,764.2 424.1,774.0 425.4,786.6 426.7,797.9 428.0,800.7 429.3,808.4 430.6,821.3 431.9,820.5 433.2,821.1 434.5,820.9 435.8,828.2 437.1,830.7 438.4,830.6 439.7,829.2 441.0,831.7 442.3,832.7 443.6,829.7 444.9,833.5 446.2,825.3 447.5,826.6 448.8,829.6 450.1,830.2 451.4,826.3 452.7,829.6 454.0,831.4 455.3,828.5 456.6,825.7 457.9,825.2 459.2,821.3 460.5,812.5 461.8,810.1 463.1,809.1 464.4,794.1 465.7,786.0 467.0,770.0 468.3,747.1 469.6,716.4 470.9,677.4 472.2,622.8 473.5,563.8 475.0,528.7 476.1,546.2 477.4,603.6 478.7,664.5 480.0,710.5 481.3,744.4 482.6,768.7 483.9,784.5 485.2,791.1 486.5,801.8 487.8,806.2 489.1,805.6 490.4,810.8 491.7,826.0 493.0,820.1 494.3,817.3 495.6,823.4 496.9,832.0 498.2,829.3 499.5,831.1 500.8,829.9 502.1,831.0 503.4,835.9 504.7,835.7 506.0,833.3 507.3,836.4 508.6,837.8 509.9,834.2 511.2,835.5 512.5,835.9 513.8,833.3 515.1,838.8 516.4,835.6 517.7,833.9 519.0,830.5 520.3,831.4 521.6,840.4 522.9,833.5 524.2,837.5 525.5,835.7 526.8,838.2 528.1,839.0 529.4,834.9 530.7,836.0 532.0,837.6 533.3,838.2 534.6,838.1 535.9,837.5 537.2,840.6 538.5,843.5 539.8,841.7 541.1,837.8 542.4,840.9 543.7,840.6 545.0,842.1 546.3,846.8 547.6,841.4 548.9,841.5 550.2,839.0 551.5,840.7 552.8,840.3 554.1,847.2 555.4,844.5 556.7,841.6 558.0,849.1 559.3,840.4 560.6,846.1 561.9,847.7 563.2,846.7 564.5,844.3 565.8,844.5 567.1,844.1 568.4,847.8 569.7,838.9 571.0,843.4 572.3,846.4 573.6,844.8 574.9,840.9 576.2,845.4 577.5,844.7 578.8,849.6 580.1,852.4 581.4,848.9 582.7,842.3 584.0,846.8 585.3,845.3 586.6,850.2 587.9,854.1 589.2,850.6 590.5,855.4 591.8,854.7 593.1,852.2 594.4,847.2 595.7,849.8 597.0,845.6 598.3,852.7 599.6,851.1 600.9,854.8 602.2,852.2 603.5,845.1 604.8,852.1 606.1,854.1 607.4,856.8 608.7,849.3 610.0,848.4 611.3,851.4 612.6,848.6 613.9,847.3 615.2,848.1 616.5,859.6 617.8,851.6 619.1,849.4 620.4,850.9 621.7,852.6 623.0,856.9 624.3,856.6 625.6,856.2 626.9,854.0 628.2,854.2 629.5,851.9 630.8,849.1 632.1,859.5 633.4,853.7 634.7,857.4 636.0,854.1 637.3,854.4 638.6,854.4 639.9,850.8 641.2,854.2 642.5,856.1 643.8,857.7 645.1,857.0 646.4,858.4 647.7,856.5 649.0,855.3 650.3,849.2 651.6,852.6 652.9,859.4 654.2,856.1 655.5,857.7 656.8,854.9 658.1,853.1 659.4,861.0 660.7,857.1 662.0,859.9 663.3,857.5 664.6,854.6 665.9,848.4 667.2,854.4 668.5,850.4 669.8,847.8 671.1,857.8 672.4,857.8 673.7,857.5 675.0,855.7 676.3,855.2 677.6,856.5 678.9,855.9 680.2,855.5 681.5,857.5 682.8,848.2 684.1,856.8 685.4,853.5 686.7,857.5 688.0,859.0 689.3,853.2 690.6,857.2 691.9,857.7 693.2,853.3 694.5,853.2 695.8,855.0 697.1,848.3 698.4,852.5 699.7,855.0 701.0,853.5 702.3,849.8 703.6,852.8 704.9,858.8 706.2,859.1 707.5,854.8 708.8,852.0 710.1,853.8 711.4,854.0 712.7,851.8 714.0,852.1 715.3,854.5 716.6,855.2 717.9,844.4 719.2,851.4 720.5,847.7 721.8,846.4 723.1,836.5 724.4,827.4 726.0,817.6 727.0,813.5 728.3,835.3 729.6,841.3 730.9,840.4 732.2,840.2 733.5,850.3 734.8,848.9 736.1,855.2 737.4,854.3 738.7,853.5 740.0,856.8 741.3,855.1 742.6,856.4 743.9,856.8 745.2,855.1 746.5,855.7 747.8,854.9 749.1,847.1 750.4,846.7 751.7,843.9 752.9,842.6 754.3,840.2 755.6,846.1 756.9,851.6 758.2,853.0 759.5,857.7 760.8,852.6 762.1,852.4 763.4,851.9 764.7,852.3 766.0,851.1 767.3,846.7 768.6,851.2 769.9,852.2 771.2,850.3 772.5,840.1 773.8,835.3 775.1,832.3 776.4,819.0 777.2,816.5 779.0,824.8 780.3,837.3 781.6,844.8 782.9,853.3 784.2,851.7 785.5,852.9 786.8,849.5 788.1,851.9 789.4,851.9 790.7,853.2 792.0,850.7 793.3,857.3 794.6,851.6 795.9,853.6 797.2,848.2 798.5,849.4 799.8,850.2 800.8,844.3 802.4,848.0 803.7,850.5 805.0,853.6 806.3,855.4 807.6,853.3 808.9,854.4 810.2,853.4 811.5,852.4 812.8,850.5 814.1,855.2 815.4,849.3 816.7,848.9 818.0,842.3 819.3,826.1 821.0,814.8 821.9,817.9 823.2,835.6 824.5,848.3 825.8,848.4 827.1,850.1 828.4,851.7 829.7,861.7 831.0,856.5 832.3,853.8 833.6,859.3 834.9,857.6 836.2,857.9 837.5,855.4 838.8,851.6 840.1,854.9 841.4,854.2 842.7,851.7 844.0,851.1 845.3,848.7 846.7,849.5 847.9,853.6 849.2,856.4 850.5,855.6 851.8,854.4 853.1,858.8 854.4,860.2 855.7,862.1 857.0,859.8 858.3,859.2 859.6,860.4 860.9,857.3 862.2,857.1 863.5,860.9 864.8,856.3 866.1,858.6 867.4,861.0 868.7,859.5 870.0,859.2 871.3,854.3 872.6,854.7 873.9,852.0 875.2,849.9 876.5,843.4 878.0,837.4 879.1,845.3 880.4,849.0 881.7,851.6 883.0,853.6 884.3,856.8 885.6,856.9 886.9,863.3 888.2,861.9 889.5,859.8 890.8,858.9 892.1,857.8 893.4,859.9 894.7,864.5 896.0,864.1 897.3,861.8 898.6,862.1 899.9,857.0 901.2,863.1 902.5,861.5 903.8,865.4 905.1,862.1 906.4,860.8 907.7,862.5 909.0,860.6 910.3,865.3 911.6,863.4 912.9,863.3 914.2,863.3 915.5,861.5 916.8,863.4 918.1,862.9 919.4,866.9 920.7,863.2 922.0,863.5 923.3,861.4 924.6,861.3 925.9,861.5 927.2,865.6 928.5,863.1 929.8,865.0 931.1,862.2 932.4,861.5 933.7,857.5 935.0,863.8 936.3,867.8 937.6,862.6 938.9,865.9 940.2,864.9 941.5,860.8 942.8,863.7 944.1,859.9 945.4,860.6 946.7,864.2 948.0,861.8 949.3,857.7 950.6,862.8 951.9,856.5 953.2,856.5 954.5,854.0 955.8,851.3 957.1,845.8 959.0,844.3 959.7,849.1 961.0,846.6 962.3,849.8 963.6,849.0 964.9,856.8 966.2,862.1 967.5,863.9 968.8,868.1 970.1,866.1 971.4,863.5 972.7,862.4 974.0,865.8 975.3,863.0 976.6,863.2 977.9,860.6 979.2,862.8 980.5,867.8 981.8,863.6 983.1,864.2 984.4,857.6 985.7,865.7 987.0,864.6 988.3,867.0 989.6,864.5 990.9,861.6 992.2,859.9 993.5,864.2 994.8,863.6 996.1,861.2 997.4,863.0 998.7,862.0 1000.0,865.0 1001.3,862.8 1002.6,860.6 1003.9,862.9 1005.2,862.2 1006.5,866.9 1007.8,863.0 1009.1,860.4 1010.4,863.0 1011.7,862.9 1013.0,864.1 1014.3,864.2 1015.6,861.3 1016.9,863.1 1018.2,863.3 1019.5,860.7 1020.8,861.8 1022.1,863.8 1023.4,859.9 1024.7,860.5 1026.0,862.0 1027.3,863.1 1028.6,864.7 1029.9,860.6 1031.2,863.8 1032.5,865.0 1033.8,867.3 1035.1,863.1 1036.4,861.3 1037.7,859.6 1039.0,864.2 1040.3,866.6 1041.6,862.3 1042.9,864.3 1044.2,865.5 1045.5,865.9 1046.8,862.8 1048.1,864.8 1049.4,863.4 1050.7,861.1 1052.0,863.5 1053.3,863.9 1054.6,860.9 1055.9,863.5 1057.2,867.2 1058.5,859.6 1059.8,863.2 1061.1,863.9 1062.4,861.7 1063.7,861.5 1065.0,859.5 1066.3,862.0 1067.6,856.1 1068.9,855.5 1070.2,849.2 1071.5,850.3 1072.8,846.1 1074.1,834.3 1075.4,825.7 1076.7,818.6 1078.0,813.0 1079.3,814.9 1080.6,822.1 1081.9,837.7 1083.2,849.4 1084.5,849.6 1085.8,854.3 1087.1,856.8 1088.4,857.4 1089.7,858.9 1091.0,859.9 1092.3,858.4 1093.6,866.1 1094.9,868.1 1096.2,863.3 1097.5,866.1 1098.8,860.9 1100.1,861.6 1101.4,864.9 1102.7,860.4 1104.0,859.5 1105.3,863.1 1106.6,858.6 1107.9,866.1 1109.2,865.2 1110.5,864.0 1111.8,864.8 1113.1,861.4 1114.4,860.9 1115.7,864.8 1117.0,865.6 1118.3,864.0 1119.6,863.4 1120.9,862.2 1122.2,866.2 1123.5,860.5 1124.8,861.0 1126.1,861.8 1127.4,859.7 1128.7,859.8 1130.0,860.5 1131.3,865.0 1132.6,867.4 1133.9,864.5 1135.2,859.8 1136.5,861.2 1137.8,862.4 1139.1,862.3 1140.4,862.0 1141.7,863.9 1143.0,858.8 1144.3,860.9 1145.6,862.9 1146.9,864.2 1148.2,863.5 1149.5,862.7 1150.8,862.3 1152.1,861.1 1153.4,862.5 1154.7,862.0 1156.0,860.9 1157.3,864.7 1158.6,865.1 1159.9,861.6 1161.2,862.8 1162.5,863.6 1163.8,860.8 1165.1,858.9 1166.0,858.0 1167.7,855.9 1169.0,857.0 1170.3,861.9 1171.6,862.5 1172.9,865.1 1174.2,861.7 1175.5,864.6 1176.8,865.0 1178.1,867.0 1179.4,861.4 1180.7,861.5 1182.0,862.8 1183.3,862.9 1184.6,860.2 1185.9,860.6 1187.2,859.0 1188.5,866.2 1189.8,862.1 1191.1,861.4 1192.4,859.6 1193.7,860.2 1195.0,861.2 1196.3,858.2 1197.6,857.2 1198.9,860.1 1200.2,856.2 1201.5,852.0 1202.8,847.7 1204.1,845.4 1205.4,841.1 1206.7,840.5 1208.0,838.0 1209.3,834.9 1210.6,834.2 1211.9,830.9 1213.2,829.4 1214.5,827.1 1215.8,808.2 1217.1,783.9 1218.4,758.6 1219.7,722.7 1221.3,700.2 1222.3,712.1 1223.6,745.8 1224.9,777.5 1226.2,802.7 1227.5,824.0 1228.8,838.2 1230.1,843.2 1231.4,846.2 1232.7,851.3 1234.0,854.3 1235.3,856.4 1236.6,858.4 1237.9,864.4 1239.2,861.1 1240.5,859.9 1241.8,858.6 1243.1,862.1 1244.4,857.7 1245.7,862.7 1247.0,860.0 1248.3,855.8 1249.6,857.4 1250.9,855.5 1252.2,855.8 1253.5,847.6 1254.8,845.8 1256.1,839.8 1257.4,834.3 1258.7,822.8 1260.6,819.0 1261.3,823.3 1262.6,826.8 1263.9,830.2 1265.2,840.2 1266.5,844.1 1267.8,848.2 1269.1,850.2 1270.4,856.5 1271.7,855.6 1273.0,857.7 1274.3,858.1 1275.6,855.1 1276.9,855.9 1278.2,858.1 1279.5,852.4 1280.8,852.5 1282.1,848.3 1283.9,845.2 1284.7,847.5 1286.0,851.8 1287.3,854.4 1288.6,857.4 1289.9,857.5 1291.2,858.7 1292.5,862.3 1293.8,860.4 1295.1,863.5 1296.4,864.2 1297.7,860.9 1299.0,863.1 1300.3,860.9 1301.6,862.8 1302.9,861.0 1304.2,862.8 1305.5,862.8 1306.8,860.6 1308.1,866.2 1309.4,865.0 1310.7,860.0 1312.0,863.0 1313.3,861.9 1314.6,866.4 1315.9,863.0 1317.2,863.2 1318.5,861.7 1319.8,862.3 1321.1,858.9 1322.4,855.5 1323.7,852.6 1325.0,848.3 1326.3,845.6 1328.0,841.7 1328.9,841.8 1330.2,845.7 1331.5,849.6 1332.8,855.8 1334.1,855.3 1335.4,860.2 1336.7,864.6 1338.0,862.9 1339.3,862.5 1340.6,864.0 1341.9,862.6 1343.2,862.9 1344.5,865.7 1345.8,863.8 1347.1,868.5 1348.4,866.6 1349.7,865.3 1351.0,864.2 1352.3,864.8 1353.6,861.2 1354.9,865.4 1356.2,867.3 1357.5,867.0 1358.8,865.2 1360.1,866.9 1361.4,867.3 1362.7,866.0 1364.0,866.7 1365.3,868.2 1366.6,867.4 1367.9,865.8 1369.2,866.3 1370.5,866.7 1371.8,863.6 1373.1,866.4 1374.4,866.4 1375.7,862.7 1377.0,863.0 1378.3,869.5 1379.6,867.4 1380.9,869.4 1382.2,866.7 1383.5,869.8 1384.8,868.5 1386.1,866.1 1387.4,867.6 1388.7,870.1 1390.0,872.0 1391.3,869.0 1392.6,866.9 1393.9,865.9 1395.2,868.5 1396.5,869.7 1397.8,868.2 1399.1,867.6 1400.4,869.2 1401.7,868.9 1403.0,868.8 1404.3,865.4 1405.6,867.0 1406.9,871.2 1408.2,868.5 1409.5,872.5 1410.8,869.5 1412.1,867.9 1413.4,868.7 1414.7,869.5 1416.0,867.3 1417.3,868.7 1418.6,867.8 1419.9,871.0 1421.2,868.1 1422.5,868.8 1423.8,866.0 1425.1,865.9 1426.4,868.2 1427.7,867.1 1429.0,868.1 1430.3,869.2 1431.6,869.9 1432.9,866.7 1434.2,868.3 1435.5,870.1 1436.8,868.1 1438.1,866.7 1439.4,867.6 1440.7,871.8 1442.0,869.7 1443.3,872.1 1444.6,869.2 1445.9,871.4 1447.2,867.2 1448.5,868.7 1449.8,869.5 1451.1,872.5 1452.4,870.8 1453.7,871.6 1455.0,869.1 1456.3,868.7 1457.6,871.6 1458.9,872.3 1460.2,872.0 1461.5,871.9 1462.8,869.0 1464.1,873.1 1465.4,870.3 1466.7,871.8 1468.0,871.1 1469.3,866.7 1470.6,865.7 1471.9,866.2 1473.2,868.8 1474.5,871.2 1475.8,869.2 1477.1,870.8 1478.4,867.4 1479.7,867.9 1481.0,867.5 1482.3,869.0 1483.6,867.2 1484.9,868.6 1486.2,869.9 1487.5,868.3 1488.8,867.2 1490.1,867.7 1491.4,866.4 1492.7,866.3 1494.0,869.2 1495.3,868.7 1496.6,865.4 1497.9,866.5 1499.2,867.6 1500.5,867.8 1501.8,867.0 1503.1,866.7 1504.4,864.0 1505.7,862.4 1507.0,860.1 1508.3,860.0 1509.6,857.2 1510.9,855.9 1512.2,852.8 1513.4,849.7 1514.8,848.2 1516.1,850.4 1517.4,854.1 1518.7,859.4 1520.0,858.6 1521.3,858.9 1522.6,863.1 1523.9,866.2 1525.2,867.3 1526.5,869.4 1527.8,867.3 1529.1,866.5 1530.4,867.0 1531.7,865.6 1533.0,866.6 1534.3,870.1 1535.6,872.0 1536.9,871.0 1538.2,869.2 1539.5,868.0 1540.8,868.6 1542.1,865.0 1543.4,868.2 1544.7,868.6 1546.0,866.5 1547.3,865.5 1548.6,861.1 1549.9,862.6 1551.2,861.1 1552.3,859.0 1553.8,858.8 1555.1,862.9 1556.4,867.4 1557.7,865.2 1559.0,867.0 1560.3,870.2 1561.6,869.5 1562.9,868.6 1564.2,868.3 1565.5,869.2 1566.8,868.1 1568.1,871.0 1569.4,868.5 1570.7,870.5 1572.0,871.5 1573.3,872.1 1574.6,870.5 1575.9,870.2 1577.2,870.7 1578.5,870.5 1579.8,872.1 1581.1,870.4 1582.4,873.4 1583.7,875.3 1585.0,870.1 1586.3,871.1 1587.6,868.7 1588.9,871.4 1590.2,871.3 1591.5,870.3 1592.8,868.9 1594.1,870.4 1595.4,873.7 1596.7,873.6 1598.0,871.6 1599.3,869.8 1600.6,870.5 1601.9,869.4 1603.2,868.3 1604.5,868.8 1605.8,871.4 1607.1,871.3 1608.4,871.1 1609.7,869.1 1611.0,868.3 1612.3,872.0 1613.6,870.4 1614.9,872.6 1616.2,869.9 1617.5,872.2 1618.8,871.4 1620.1,870.3 1621.4,870.1 1622.7,873.7 1624.0,872.8 1625.3,870.8 1626.6,871.2 1627.9,868.6 1629.2,873.2 1630.5,873.4 1631.8,870.7 1633.1,871.6 1634.4,866.9 1635.7,871.9 1637.0,871.9 1638.3,871.5 1639.6,872.4 1640.9,871.7 1642.2,869.6 1643.5,869.8 1644.8,870.6 1646.1,872.3 1647.4,871.2 1648.7,870.0 1650.0,871.4 1651.3,869.2 1652.6,873.9 1653.9,871.9 1655.2,869.6 1656.5,871.0 1657.8,872.6 1659.1,872.0 1660.4,874.2 1661.7,869.3 1663.0,873.1 1664.3,871.2 1665.6,872.2 1666.9,873.6 1668.2,869.4 1669.5,868.4 1670.8,869.7 1672.1,867.9 1673.4,867.0 1674.7,869.8 1676.0,871.7 1677.3,869.3 1678.6,870.1 1679.9,874.6 1681.2,869.9 1682.5,867.8 1683.8,867.1 1685.1,867.3 1686.4,865.6 1687.7,866.1 1689.0,864.7 1690.3,864.7 1691.6,862.8 1692.9,861.3 1694.2,859.1 1695.5,857.4 1696.8,858.2 1698.1,857.8 1700.0,858.0 1700.7,857.9 1702.0,857.4 1703.3,861.4 1704.6,859.5 1705.9,860.9 1707.2,858.2 1708.5,861.0 1709.8,861.9 1711.1,861.0 1712.4,858.9 1713.7,861.4 1715.0,858.4 1716.3,856.2 1717.6,855.0 1718.9,856.5 1720.2,855.1 1722.0,852.0 1722.8,847.2 1724.1,838.7 1725.4,827.9 1726.7,817.6 1728.0,807.3 1729.3,795.6 1730.6,784.2 1731.9,772.6 1733.2,761.9 1734.5,748.5 1735.8,737.9 1737.6,724.5 1738.4,728.7 1739.7,744.1 1741.0,759.5 1742.3,776.6 1743.6,789.9 1744.9,805.3 1746.2,823.5 1747.5,832.2 1748.8,846.1 1750.1,859.1 1751.4,865.5 1752.7,865.1 1754.0,868.8 1755.3,865.9 1756.6,867.2 1757.9,868.9 1759.2,868.9 1760.5,871.7 1761.8,870.3 1763.1,873.4 1764.4,871.4 1765.7,873.4 1767.0,872.3 1768.3,871.3 1769.6,871.2 1770.9,873.1 1772.2,871.3 1773.5,871.9 1774.8,871.0 1776.1,869.2 1777.4,872.6 1778.7,873.3 1780.0,870.9 1781.3,872.9 1782.6,872.3 1783.9,869.9 1785.2,870.9 1786.5,873.3 1787.8,874.3 1789.1,873.6 1790.4,876.8 1791.7,874.0 1793.0,872.0 1794.3,870.8 1795.6,874.7 1796.9,872.6 1798.2,872.5 1799.5,871.9 1800.8,871.8 1802.1,872.5 1803.4,873.7 1804.7,874.1 1806.0,873.9 1807.3,874.7 1808.6,872.9 1809.9,871.9 1811.2,873.1 1812.5,870.5 1813.8,874.2 1815.1,874.3 1816.4,874.3 1817.7,872.1 1819.0,872.6 1820.3,873.4 1821.6,872.2 1822.9,871.9 1824.2,873.0 1825.5,873.7 1826.8,872.7 1828.1,874.9 1829.4,876.9 1830.7,874.9 1832.0,873.6 1833.3,873.3 1834.6,875.9 1835.9,874.5 1837.2,874.7 1838.5,874.2 1839.8,873.1 1841.1,875.8 1842.4,873.8 1843.7,874.0 1845.0,871.0 1846.3,876.4 1847.6,875.3 1848.9,874.0 1850.2,872.8 1851.5,872.9 1852.8,871.4 1854.1,874.2 1855.4,872.8 1856.7,874.4 1858.0,874.6 1859.3,876.7 1860.6,874.7 1861.9,874.5 1863.2,874.8 1864.5,873.3 1865.8,873.6 1867.1,874.4 1868.4,875.7 1869.7,875.3 1871.0,873.9 1872.3,875.7 1873.6,873.9 1874.9,872.1 1876.2,876.0 1877.5,874.5 1878.8,873.6 1880.1,872.5 1881.4,873.4 1882.7,876.4 1884.0,874.5 1885.3,877.3 1886.6,874.8 1887.9,875.9 1889.2,874.6 1890.5,873.8 1891.8,873.7 1893.1,873.9 1894.4,872.7 1895.7,872.5 1897.0,874.6 1898.3,876.1 1899.6,874.9 1900.9,874.6 1902.2,873.3 1903.5,875.8 1904.8,876.1 1906.1,873.2 1907.4,874.4 1908.7,874.1 1910.0,872.5 1911.3,876.4 1912.6,876.4 1913.9,875.3 1915.2,876.6 1916.5,874.2 1917.8,874.9 1919.1,876.5 1920.4,874.5 1921.7,875.0 1923.0,873.4 1924.3,875.3 1925.6,876.3 1926.9,873.6 1928.2,873.5 1929.5,874.4 1930.8,876.5 1932.1,874.3 1933.4,873.5 1934.7,874.4 1936.0,876.2 1937.3,872.9 1938.6,874.2 1939.9,876.4 1941.2,874.9 1942.5,874.4 1943.8,875.8 1945.1,873.3 1946.4,877.2 1947.7,875.8 1949.0,874.4 1950.3,874.8 1951.6,874.7 1952.9,874.4 1954.2,873.2 1955.5,874.3 1956.8,872.5 1958.1,876.3 1959.4,873.6 1960.7,873.8 1962.0,873.7 1963.3,875.7 1964.6,874.8 1965.9,876.9 1967.2,874.7 1968.5,875.2 1969.8,875.0 1971.1,874.7 1972.4,876.5 1973.7,877.0 1975.0,877.2 1976.3,873.7 1977.6,875.5 1978.9,873.8 1980.2,873.6 1981.5,872.7 1982.8,873.7 1984.1,875.9 1985.4,877.3 1986.7,877.9 1988.0,874.6 1989.3,874.5 1990.6,875.7 1991.9,875.7 1993.2,875.9 1994.5,873.3 1995.8,875.0 1997.1,876.3 1998.4,876.1 1999.7,875.6 2001.0,874.7 2002.3,875.4 2003.6,877.8 2004.9,876.7 2006.2,877.3 2007.5,878.2 2008.8,874.8 2010.1,876.6 2011.4,876.6 2012.7,877.7 2014.0,875.9 2015.3,875.7 2016.6,875.1"/>
<polyline fill="none" stroke="#000000" stroke-width="2.8" stroke-linejoin="bevel" shape-rendering="crispEdges" points="259.0,640.1 260.3,644.5 261.6,644.6 262.9,638.8 264.2,638.6 265.5,637.7 266.8,641.2 268.1,639.6 269.4,642.0 270.7,633.6 272.0,643.7 273.3,639.6 274.6,641.6 275.9,639.1 277.2,637.8 278.5,640.4 279.8,642.0 281.1,638.7 282.4,638.3 283.7,641.0 285.0,636.2 286.3,633.2 287.6,639.1 288.9,636.4 290.2,631.7 291.5,634.7 292.8,636.2 294.1,634.0 295.4,632.6 296.7,637.4 298.0,641.0 299.3,637.7 300.6,635.4 301.9,638.8 303.2,640.3 304.5,637.0 305.8,639.3 307.1,641.2 308.4,637.2 309.7,634.5 311.0,637.9 312.3,638.0 313.6,640.7 314.9,633.1 316.2,633.9 317.5,633.4 318.8,630.2 320.1,635.9 321.4,638.0 322.7,633.9 324.0,640.3 325.3,639.3 326.6,638.4 327.9,637.4 329.2,639.0 330.5,631.5 331.8,636.7 333.1,637.3 334.4,629.4 335.7,635.0 337.0,633.8 338.3,636.8 339.6,633.1 340.9,633.8 342.2,634.9 343.5,630.9 344.8,635.0 346.1,633.1 347.4,634.6 348.7,631.3 350.0,636.0 351.3,634.9 352.6,631.9 353.9,634.0 355.2,636.1 356.5,638.0 357.8,626.9 359.1,633.2 360.4,632.5 361.7,630.3 363.0,626.7 364.3,633.4 365.6,625.8 366.9,630.5 368.2,633.3 369.5,623.8 370.8,626.4 372.1,623.3 373.4,627.9 374.7,632.6 376.0,634.8 377.3,622.3 378.6,624.2 379.9,628.4 381.2,631.6 382.5,627.8 383.8,622.9 385.1,625.1 386.4,623.7 387.7,622.2 389.0,619.3 390.3,621.5 391.6,620.4 392.9,617.4 394.2,614.7 395.5,608.5 396.8,607.2 398.1,609.0 399.4,600.2 400.7,589.1 402.0,589.2 403.3,577.0 404.6,567.4 405.9,541.3 407.2,510.4 408.5,466.2 409.8,417.0 411.1,344.7 412.4,248.3 414.0,194.0 415.0,218.9 416.3,292.0 417.6,377.3 418.9,443.8 420.2,493.0 421.5,529.1 422.8,549.1 424.1,568.0 425.4,575.9 426.7,586.6 428.0,585.5 429.3,591.8 430.6,603.3 431.9,603.1 433.2,608.9 434.5,611.3 435.8,615.5 437.1,615.5 438.4,616.9 439.7,614.1 441.0,612.1 442.3,611.9 443.6,612.7 444.9,610.7 446.2,612.2 447.5,613.6 448.8,614.6 450.1,612.3 451.4,606.1 452.7,610.4 454.0,611.0 455.3,612.7 456.6,609.8 457.9,603.5 459.2,600.0 460.5,605.5 461.8,598.6 463.1,596.3 464.4,590.7 465.7,571.9 467.0,561.4 468.3,543.7 469.6,518.2 470.9,481.6 472.2,432.5 473.5,381.4 475.0,351.4 476.1,366.4 477.4,412.0 478.7,464.8 480.0,503.0 481.3,534.9 482.6,556.0 483.9,568.5 485.2,578.3 486.5,584.9 487.8,588.5 489.1,593.3 490.4,595.5 491.7,600.7 493.0,601.8 494.3,605.1 495.6,600.3 496.9,607.6 498.2,604.0 499.5,604.1 500.8,606.7 502.1,606.8 503.4,610.4 504.7,608.9 506.0,607.8 507.3,609.1 508.6,616.9 509.9,614.6 511.2,610.9 512.5,614.7 513.8,610.7 515.1,621.5 516.4,612.9 517.7,618.5 519.0,620.1 520.3,614.3 521.6,619.6 522.9,623.1 524.2,622.3 525.5,622.0 526.8,624.6 528.1,622.8 529.4,623.5 530.7,622.4 532.0,625.0 533.3,620.6 534.6,625.8 535.9,622.6 537.2,620.5 538.5,625.1 539.8,630.4 541.1,629.0 542.4,624.3 543.7,627.8 545.0,624.8 546.3,625.7 547.6,626.7 548.9,619.3 550.2,626.6 551.5,623.9 552.8,624.8 554.1,622.7 555.4,622.5 556.7,624.5 558.0,630.7 559.3,634.6 560.6,630.0 561.9,633.1 563.2,629.4 564.5,623.8 565.8,629.8 567.1,631.9 568.4,629.6 569.7,631.8 571.0,633.2 572.3,629.0 573.6,626.6 574.9,630.5 576.2,631.4 577.5,631.2 578.8,635.8 580.1,639.0 581.4,632.8 582.7,635.6 584.0,637.0 585.3,636.7 586.6,637.9 587.9,633.7 589.2,636.8 590.5,641.6 591.8,638.6 593.1,633.8 594.4,637.2 595.7,640.0 597.0,637.7 598.3,634.5 599.6,641.0 600.9,633.2 602.2,637.8 603.5,637.0 604.8,633.3 606.1,640.7 607.4,639.2 608.7,634.3 610.0,639.4 611.3,637.0 612.6,632.0 613.9,635.3 615.2,639.0 616.5,640.8 617.8,639.7 619.1,639.3 620.4,640.7 621.7,638.9 623.0,643.2 624.3,640.6 625.6,640.8 626.9,641.8 628.2,636.9 629.5,637.5 630.8,644.8 632.1,642.2 633.4,640.0 634.7,641.8 636.0,639.5 637.3,641.7 638.6,639.2 639.9,641.9 641.2,636.5 642.5,645.1 643.8,640.6 645.1,636.7 646.4,640.5 647.7,640.8 649.0,642.6 650.3,638.9 651.6,643.3 652.9,654.4 654.2,640.6 655.5,643.7 656.8,642.3 658.1,643.8 659.4,637.7 660.7,639.1 662.0,644.5 663.3,643.8 664.6,649.2 665.9,642.6 667.2,644.6 668.5,653.7 669.8,643.4 671.1,641.6 672.4,644.2 673.7,644.6 675.0,647.6 676.3,645.9 677.6,643.0 678.9,645.7 680.2,653.9 681.5,650.9 682.8,637.7 684.1,644.2 685.4,642.9 686.7,647.6 688.0,645.9 689.3,652.4 690.6,650.3 691.9,649.9 693.2,647.7 694.5,646.7 695.8,647.9 697.1,651.1 698.4,649.3 699.7,646.2 701.0,650.9 702.3,648.1 703.6,646.7 704.9,644.2 706.2,644.4 707.5,644.1 708.8,637.1 710.1,647.8 711.4,647.8 712.7,645.0 714.0,648.1 715.3,646.0 716.6,644.7 717.9,634.5 719.2,638.4 720.5,639.0 721.8,638.8 723.1,633.3 724.4,621.1 725.7,596.0 727.5,581.0 728.3,586.1 729.6,603.2 730.9,621.7 732.2,628.7 733.5,635.2 734.8,633.7 736.1,641.3 737.4,640.9 738.7,644.1 740.0,645.5 741.3,644.2 742.6,645.6 743.9,644.8 745.2,646.9 746.5,646.1 747.8,642.1 749.1,640.3 750.4,645.1 751.7,636.9 753.0,634.1 754.6,626.4 755.6,627.0 756.9,631.6 758.2,638.7 759.5,642.2 760.8,645.0 762.1,640.4 763.4,642.1 764.7,644.0 766.0,649.3 767.3,637.8 768.6,644.0 769.9,641.2 771.2,642.4 772.5,637.9 773.8,636.9 775.1,635.8 776.4,625.0 777.7,614.2 779.6,602.0 780.3,601.8 781.6,614.8 782.9,623.5 784.2,629.1 785.5,636.0 786.8,638.9 788.1,643.8 789.4,643.3 790.7,642.4 792.0,648.6 793.3,648.3 794.6,649.0 795.9,646.7 797.2,643.5 798.5,640.6 799.8,637.9 801.1,637.0 803.0,629.0 803.7,625.7 805.0,634.0 806.3,634.8 807.6,641.7 808.9,639.7 810.2,639.7 811.5,643.7 812.8,643.3 814.1,637.6 815.4,642.1 816.7,643.8 818.0,627.9 819.3,624.9 820.6,599.5 822.2,581.0 823.2,589.7 824.5,608.2 825.8,630.6 827.1,637.5 828.4,638.3 829.7,641.8 831.0,640.1 832.3,644.1 833.6,649.0 834.9,642.4 836.2,645.3 837.5,647.5 838.8,650.3 840.1,651.2 841.4,645.3 842.7,642.1 844.0,642.2 845.3,634.7 847.0,629.2 847.9,634.6 849.2,643.7 850.5,644.7 851.8,645.4 853.1,648.8 854.4,642.9 855.7,647.8 857.0,645.8 858.3,655.5 859.6,652.3 860.9,650.2 862.2,648.9 863.5,642.0 864.8,650.0 866.1,653.5 867.4,646.9 868.7,649.3 870.0,648.9 871.3,641.0 872.6,644.5 873.9,642.3 875.2,632.4 876.5,621.6 877.8,616.0 879.1,617.7 880.4,631.0 881.7,641.3 883.0,639.8 884.3,647.8 885.6,646.4 886.9,642.4 888.2,647.9 889.5,646.8 890.8,650.6 892.1,647.2 893.4,653.1 894.7,649.2 896.0,651.8 897.3,649.7 898.6,650.3 899.9,654.6 901.2,652.6 902.5,650.7 903.8,648.1 905.1,654.4 906.4,654.2 907.7,651.3 909.0,652.5 910.3,649.2 911.6,648.8 912.9,649.3 914.2,652.6 915.5,652.9 916.8,650.2 918.1,653.8 919.4,654.5 920.7,653.0 922.0,655.1 923.3,651.8 924.6,651.8 925.9,653.4 927.2,652.3 928.5,654.3 929.8,649.1 931.1,655.5 932.4,650.5 933.7,651.4 935.0,648.3 936.3,653.1 937.6,655.6 938.9,655.4 940.2,654.7 941.5,648.1 942.8,649.1 944.1,650.0 945.4,648.7 946.7,653.8 948.0,651.8 949.3,650.6 950.6,651.4 951.9,647.0 953.2,645.6 954.5,644.1 955.8,645.6 957.1,642.6 958.4,639.4 959.7,637.7 960.4,634.0 962.3,635.5 963.6,641.5 964.9,641.0 966.2,644.9 967.5,650.8 968.8,652.7 970.1,653.5 971.4,651.4 972.7,650.7 974.0,654.2 975.3,651.2 976.6,652.7 977.9,655.7 979.2,651.8 980.5,650.7 981.8,652.1 983.1,654.0 984.4,654.1 985.7,653.3 987.0,654.2 988.3,648.8 989.6,650.0 990.9,652.8 992.2,650.4 993.5,649.1 994.8,649.2 996.1,650.0 997.4,652.1 998.7,650.2 1000.0,653.2 1001.3,657.4 1002.6,653.4 1003.9,656.4 1005.2,654.4 1006.5,650.5 1007.8,652.2 1009.1,650.6 1010.4,654.9 1011.7,650.6 1013.0,656.3 1014.3,655.3 1015.6,648.6 1016.9,654.7 1018.2,657.6 1019.5,652.1 1020.8,655.8 1022.1,649.3 1023.4,653.6 1024.7,649.4 1026.0,654.2 1027.3,649.2 1028.6,646.4 1029.9,653.6 1031.2,659.5 1032.5,653.1 1033.8,655.7 1035.1,654.3 1036.4,653.0 1037.7,655.2 1039.0,658.1 1040.3,651.3 1041.6,654.8 1042.9,654.7 1044.2,650.3 1045.5,657.2 1046.8,659.0 1048.1,652.0 1049.4,657.6 1050.7,654.2 1052.0,653.1 1053.3,657.0 1054.6,654.2 1055.9,653.9 1057.2,656.7 1058.5,656.3 1059.8,655.0 1061.1,648.9 1062.4,647.1 1063.7,653.1 1065.0,648.3 1066.3,649.4 1067.6,645.6 1068.9,645.8 1070.2,641.2 1071.5,644.9 1072.8,635.0 1074.1,629.9 1075.4,620.6 1076.7,611.8 1078.0,594.2 1079.0,593.7 1080.6,601.6 1081.9,616.1 1083.2,627.3 1084.5,633.0 1085.8,639.9 1087.1,642.3 1088.4,646.8 1089.7,647.6 1091.0,647.5 1092.3,649.9 1093.6,651.9 1094.9,657.3 1096.2,651.8 1097.5,653.3 1098.8,656.6 1100.1,648.8 1101.4,648.6 1102.7,650.1 1104.0,653.1 1105.3,659.8 1106.6,656.0 1107.9,657.5 1109.2,654.4 1110.5,648.6 1111.8,648.2 1113.1,656.2 1114.4,655.4 1115.7,651.8 1117.0,657.1 1118.3,651.6 1119.6,657.2 1120.9,658.8 1122.2,653.9 1123.5,652.3 1124.8,656.8 1126.1,652.9 1127.4,657.0 1128.7,652.8 1130.0,657.0 1131.3,655.9 1132.6,654.6 1133.9,653.3 1135.2,655.8 1136.5,651.2 1137.8,654.3 1139.1,654.5 1140.4,657.1 1141.7,652.9 1143.0,659.3 1144.3,655.5 1145.6,652.9 1146.9,658.5 1148.2,659.9 1149.5,655.7 1150.8,653.3 1152.1,655.0 1153.4,653.4 1154.7,653.8 1156.0,657.8 1157.3,655.1 1158.6,653.2 1159.9,651.9 1161.2,648.3 1162.5,646.0 1163.8,641.6 1164.6,638.0 1166.4,643.0 1167.7,653.1 1169.0,652.3 1170.3,652.2 1171.6,658.2 1172.9,654.9 1174.2,652.1 1175.5,656.1 1176.8,653.2 1178.1,653.7 1179.4,655.8 1180.7,655.0 1182.0,653.4 1183.3,653.6 1184.6,653.4 1185.9,657.4 1187.2,653.5 1188.5,653.1 1189.8,658.8 1191.1,653.4 1192.4,656.9 1193.7,656.5 1195.0,652.3 1196.3,647.9 1197.6,650.2 1198.9,649.6 1200.2,648.3 1201.5,643.8 1202.8,643.2 1204.1,640.9 1205.4,632.2 1206.7,633.9 1208.0,628.0 1209.3,624.0 1210.6,620.8 1211.9,620.4 1213.2,609.9 1214.5,587.7 1215.8,565.5 1217.1,528.5 1218.4,483.6 1220.3,444.8 1221.0,448.3 1222.3,491.4 1223.6,534.5 1224.9,573.2 1226.2,599.5 1227.5,616.5 1228.8,630.8 1230.1,637.5 1231.4,639.8 1232.7,642.1 1234.0,645.4 1235.3,650.6 1236.6,650.5 1237.9,651.6 1239.2,651.0 1240.5,651.4 1241.8,652.5 1243.1,647.9 1244.4,654.5 1245.7,649.6 1247.0,648.5 1248.3,651.4 1249.6,647.7 1250.9,644.5 1252.2,639.6 1253.5,632.6 1254.8,629.7 1256.1,623.9 1257.4,609.1 1258.7,602.3 1260.6,591.0 1261.3,590.4 1262.6,601.1 1263.9,611.5 1265.2,623.3 1266.5,628.7 1267.8,633.7 1269.1,636.2 1270.4,640.6 1271.7,643.3 1273.0,644.3 1274.3,649.0 1275.6,648.1 1276.9,645.3 1278.2,654.2 1279.5,647.6 1280.8,644.0 1282.1,645.8 1283.4,640.6 1284.7,627.3 1286.2,623.0 1287.3,624.3 1288.6,638.0 1289.9,642.7 1291.2,645.6 1292.5,649.7 1293.8,654.2 1295.1,650.2 1296.4,652.3 1297.7,650.9 1299.0,658.5 1300.3,659.1 1301.6,657.5 1302.9,655.0 1304.2,656.4 1305.5,650.8 1306.8,655.1 1308.1,652.4 1309.4,652.1 1310.7,653.4 1312.0,654.4 1313.3,656.4 1314.6,656.9 1315.9,656.0 1317.2,653.1 1318.5,655.7 1319.8,653.8 1321.1,655.2 1322.4,649.5 1323.7,642.6 1325.0,643.5 1326.3,645.8 1327.6,639.4 1328.9,634.7 1330.0,634.0 1331.5,637.0 1332.8,640.3 1334.1,642.3 1335.4,646.9 1336.7,650.4 1338.0,651.0 1339.3,651.4 1340.6,654.9 1341.9,657.7 1343.2,657.8 1344.5,657.7 1345.8,657.9 1347.1,662.4 1348.4,658.4 1349.7,659.5 1351.0,661.7 1352.3,658.2 1353.6,658.1 1354.9,659.8 1356.2,661.4 1357.5,658.9 1358.8,658.7 1360.1,658.2 1361.4,655.5 1362.7,659.9 1364.0,657.8 1365.3,654.5 1366.6,657.3 1367.9,654.5 1369.2,655.6 1370.5,657.9 1371.8,656.4 1373.1,660.2 1374.4,655.7 1375.7,658.5 1377.0,659.6 1378.3,661.6 1379.6,660.8 1380.9,659.4 1382.2,658.9 1383.5,658.6 1384.8,660.9 1386.1,657.7 1387.4,659.6 1388.7,658.7 1390.0,659.3 1391.3,658.4 1392.6,663.0 1393.9,658.2 1395.2,659.3 1396.5,659.6 1397.8,660.3 1399.1,660.1 1400.4,660.0 1401.7,661.2 1403.0,656.4 1404.3,658.7 1405.6,656.7 1406.9,659.3 1408.2,656.9 1409.5,657.0 1410.8,658.8 1412.1,661.9 1413.4,660.8 1414.7,660.1 1416.0,662.2 1417.3,658.0 1418.6,655.1 1419.9,658.0 1421.2,658.7 1422.5,661.8 1423.8,664.0 1425.1,657.6 1426.4,664.1 1427.7,663.3 1429.0,661.8 1430.3,660.7 1431.6,664.5 1432.9,660.6 1434.2,658.9 1435.5,659.9 1436.8,657.1 1438.1,660.3 1439.4,659.6 1440.7,660.4 1442.0,660.6 1443.3,657.9 1444.6,662.1 1445.9,658.3 1447.2,661.3 1448.5,657.1 1449.8,660.2 1451.1,658.4 1452.4,659.8 1453.7,658.7 1455.0,655.7 1456.3,657.3 1457.6,659.7 1458.9,661.2 1460.2,657.4 1461.5,655.7 1462.8,657.8 1464.1,659.3 1465.4,658.8 1466.7,658.4 1468.0,661.4 1469.3,662.1 1470.6,661.7 1471.9,658.6 1473.2,660.0 1474.5,659.7 1475.8,657.3 1477.1,661.2 1478.4,660.3 1479.7,659.1 1481.0,662.3 1482.3,661.6 1483.6,661.6 1484.9,662.1 1486.2,661.2 1487.5,657.3 1488.8,658.2 1490.1,660.7 1491.4,657.7 1492.7,658.4 1494.0,658.9 1495.3,660.5 1496.6,660.0 1497.9,658.5 1499.2,655.6 1500.5,656.1 1501.8,654.1 1503.1,650.8 1504.4,650.9 1505.7,646.8 1507.0,641.3 1508.3,642.1 1509.6,639.0 1510.9,641.1 1512.2,640.0 1513.5,645.3 1514.8,646.9 1516.1,649.2 1517.4,649.4 1518.7,658.0 1520.0,656.1 1521.3,657.3 1522.6,659.6 1523.9,658.3 1525.2,659.6 1526.5,656.7 1527.8,659.3 1529.1,658.8 1530.4,660.5 1531.7,660.4 1533.0,657.7 1534.3,656.5 1535.6,657.9 1536.9,661.2 1538.2,661.1 1539.5,661.0 1540.8,656.6 1542.1,654.6 1543.4,657.6 1544.7,658.1 1546.0,657.0 1547.3,657.4 1548.6,655.0 1549.9,650.9 1551.2,649.3 1552.0,650.7 1553.8,652.8 1555.1,654.9 1556.4,660.9 1557.7,658.5 1559.0,659.6 1560.3,658.4 1561.6,659.7 1562.9,661.7 1564.2,662.3 1565.5,661.3 1566.8,662.2 1568.1,661.9 1569.4,658.7 1570.7,655.9 1572.0,665.0 1573.3,664.0 1574.6,662.4 1575.9,659.3 1577.2,659.7 1578.5,664.3 1579.8,658.0 1581.1,661.3 1582.4,663.8 1583.7,663.0 1585.0,663.9 1586.3,662.6 1587.6,666.7 1588.9,661.6 1590.2,660.3 1591.5,662.9 1592.8,665.2 1594.1,663.1 1595.4,664.7 1596.7,662.3 1598.0,660.9 1599.3,665.0 1600.6,665.9 1601.9,666.0 1603.2,662.8 1604.5,661.1 1605.8,660.8 1607.1,662.4 1608.4,663.9 1609.7,664.0 1611.0,660.9 1612.3,663.1 1613.6,663.1 1614.9,663.3 1616.2,663.1 1617.5,662.8 1618.8,664.0 1620.1,663.5 1621.4,663.6 1622.7,662.1 1624.0,663.6 1625.3,663.0 1626.6,659.7 1627.9,663.4 1629.2,662.8 1630.5,664.6 1631.8,663.1 1633.1,663.0 1634.4,663.5 1635.7,663.2 1637.0,662.4 1638.3,660.2 1639.6,665.6 1640.9,661.0 1642.2,662.2 1643.5,664.0 1644.8,663.8 1646.1,664.1 1647.4,664.4 1648.7,665.2 1650.0,663.8 1651.3,667.7 1652.6,662.1 1653.9,663.2 1655.2,662.5 1656.5,662.0 1657.8,663.3 1659.1,665.2 1660.4,662.1 1661.7,661.6 1663.0,663.7 1664.3,663.7 1665.6,665.8 1666.9,664.6 1668.2,663.1 1669.5,661.9 1670.8,662.4 1672.1,661.7 1673.4,659.6 1674.7,661.1 1676.0,660.7 1677.3,660.2 1678.6,659.2 1679.9,661.6 1681.2,659.5 1682.5,658.3 1683.8,654.0 1685.1,650.4 1686.4,648.1 1687.7,645.3 1689.0,641.4 1690.0,641.0 1691.6,644.3 1692.9,647.0 1694.2,648.5 1695.5,651.8 1696.8,653.6 1698.1,656.3 1699.4,655.5 1700.7,657.3 1702.0,659.0 1703.3,658.3 1704.6,656.6 1705.9,656.4 1707.2,656.8 1708.5,656.5 1709.8,655.9 1711.1,653.0 1712.4,649.3 1713.7,651.0 1715.0,647.6 1716.3,645.2 1717.6,642.7 1718.9,638.5 1720.2,637.3 1722.0,634.0 1722.8,629.4 1724.1,618.7 1725.4,604.7 1726.7,599.0 1728.0,591.0 1729.3,582.8 1730.6,571.9 1731.9,563.5 1733.2,550.9 1734.5,539.0 1735.8,527.3 1737.7,511.6 1738.4,519.4 1739.7,534.0 1741.0,548.4 1742.3,566.0 1743.6,581.9 1744.9,595.8 1746.2,610.4 1747.5,624.0 1748.8,637.9 1750.1,649.8 1751.4,659.3 1752.7,657.1 1754.0,659.8 1755.3,658.9 1756.6,661.0 1757.9,663.1 1759.2,663.1 1760.5,663.3 1761.8,663.9 1763.1,666.3 1764.4,663.2 1765.7,665.7 1767.0,662.9 1768.3,664.0 1769.6,665.2 1770.9,664.1 1772.2,665.5 1773.5,666.5 1774.8,664.1 1776.1,665.4 1777.4,665.2 1778.7,663.1 1780.0,665.2 1781.3,664.8 1782.6,667.7 1783.9,665.1 1785.2,668.3 1786.5,665.8 1787.8,668.8 1789.1,667.4 1790.4,667.1 1791.7,667.6 1793.0,667.8 1794.3,668.5 1795.6,669.1 1796.9,666.4 1798.2,664.8 1799.5,662.6 1800.8,665.4 1802.1,667.4 1803.4,667.2 1804.7,666.8 1806.0,666.2 1807.3,665.7 1808.6,666.1 1809.9,667.1 1811.2,664.3 1812.5,667.3 1813.8,664.8 1815.1,666.2 1816.4,665.8 1817.7,666.1 1819.0,665.2 1820.3,665.0 1821.6,666.2 1822.9,665.2 1824.2,669.9 1825.5,666.7 1826.8,665.9 1828.1,665.9 1829.4,665.2 1830.7,663.2 1832.0,665.9 1833.3,667.1 1834.6,664.8 1835.9,666.6 1837.2,665.2 1838.5,666.6 1839.8,667.3 1841.1,667.6 1842.4,667.6 1843.7,666.0 1845.0,667.9 1846.3,666.4 1847.6,667.3 1848.9,667.9 1850.2,666.6 1851.5,665.1 1852.8,667.5 1854.1,665.5 1855.4,665.5 1856.7,665.2 1858.0,667.8 1859.3,666.8 1860.6,663.9 1861.9,667.5 1863.2,669.8 1864.5,669.8 1865.8,666.6 1867.1,667.0 1868.4,667.6 1869.7,668.2 1871.0,667.2 1872.3,665.5 1873.6,667.7 1874.9,667.9 1876.2,665.3 1877.5,666.2 1878.8,667.2 1880.1,667.0 1881.4,667.7 1882.7,668.1 1884.0,667.9 1885.3,666.9 1886.6,665.2 1887.9,667.5 1889.2,668.9 1890.5,669.9 1891.8,667.4 1893.1,667.0 1894.4,668.9 1895.7,669.2 1897.0,667.8 1898.3,668.0 1899.6,666.1 1900.9,667.6 1902.2,666.0 1903.5,666.7 1904.8,666.8 1906.1,666.4 1907.4,664.2 1908.7,665.6 1910.0,667.4 1911.3,667.1 1912.6,666.7 1913.9,667.7 1915.2,668.2 1916.5,668.5 1917.8,666.4 1919.1,667.2 1920.4,666.9 1921.7,666.1 1923.0,665.2 1924.3,666.9 1925.6,666.2 1926.9,670.1 1928.2,667.7 1929.5,667.2 1930.8,666.9 1932.1,669.9 1933.4,666.7 1934.7,667.2 1936.0,666.5 1937.3,667.3 1938.6,667.6 1939.9,669.1 1941.2,666.0 1942.5,667.4 1943.8,669.8 1945.1,667.4 1946.4,667.5 1947.7,666.6 1949.0,664.2 1950.3,667.2 1951.6,669.3 1952.9,667.5 1954.2,665.4 1955.5,667.9 1956.8,668.1 1958.1,669.3 1959.4,669.4 1960.7,667.9 1962.0,668.5 1963.3,665.8 1964.6,669.2 1965.9,668.5 1967.2,669.6 1968.5,669.8 1969.8,668.0 1971.1,668.0 1972.4,667.1 1973.7,665.4 1975.0,667.7 1976.3,668.4 1977.6,666.9 1978.9,669.0 1980.2,668.6 1981.5,669.0 1982.8,667.5 1984.1,666.0 1985.4,669.1 1986.7,669.4 1988.0,668.5 1989.3,668.0 1990.6,668.1 1991.9,668.3 1993.2,667.9 1994.5,665.9 1995.8,669.2 1997.1,666.8 1998.4,668.0 1999.7,668.2 2001.0,669.0 2002.3,666.7 2003.6,670.0 2004.9,669.8 2006.2,669.9 2007.5,670.6 2008.8,668.1 2010.1,664.7 2011.4,668.7 2012.7,670.6 2014.0,670.7 2015.3,668.5 2016.6,668.8"/>
<polyline fill="none" stroke="#800000" stroke-width="4.2" stroke-linejoin="round" shape-rendering="crispEdges" points="262.0,3316.1 264.0,3315.1 266.0,3313.7 268.0,3313.7 270.0,3313.1 272.0,3312.5 274.0,3312.4 276.0,3310.5 278.0,3311.1 280.0,3308.9 282.0,3308.5 284.0,3308.1 286.0,3306.7 288.0,3303.6 290.0,3302.1 292.0,3297.8 294.0,3293.5 296.0,3290.8 298.0,3287.7 300.0,3286.8 302.0,3285.3 304.0,3287.1 306.0,3287.1 308.0,3290.6 310.0,3292.0 312.0,3294.4 314.0,3294.6 316.0,3294.6 318.0,3294.9 320.0,3294.9 322.0,3294.9 324.0,3292.3 326.0,3290.6 328.0,3287.0 330.0,3284.8 332.0,3281.6 334.0,3278.3 336.0,3272.2 338.0,3266.8 340.0,3262.0 342.0,3254.3 344.0,3247.9 346.0,3239.5 348.0,3230.3 350.0,3219.0 352.0,3204.2 354.0,3182.7 356.0,3157.7 358.0,3133.5 360.0,3108.3 362.0,3075.8 364.0,3033.0 366.0,2989.8 368.0,2940.7 370.0,2870.0 372.0,2786.3 374.0,2703.9 376.0,2585.9 378.0,2493.3 380.0,2453.2 382.0,2427.6 383.3,2422.2 386.0,2450.7 388.0,2493.5 390.0,2579.8 392.0,2660.4 394.0,2749.8 396.0,2841.2 398.0,2892.3 400.0,2943.6 402.0,3014.8 404.0,3071.3 406.0,3111.8 408.0,3140.6 410.0,3163.7 412.0,3182.7 414.0,3199.4 416.0,3213.3 418.0,3226.1 420.0,3237.0 422.0,3247.4 424.0,3256.7 426.0,3265.8 428.0,3273.4 430.0,3281.8 432.0,3286.0 434.0,3292.4 436.0,3296.5 438.0,3301.3 440.0,3304.4 442.0,3308.4 444.0,3311.4 446.0,3313.6 448.0,3316.9 450.0,3318.1 452.0,3321.0 454.0,3323.1 456.0,3325.1 458.0,3326.0 460.0,3328.6 462.0,3328.9 464.0,3330.1 466.0,3330.7 468.0,3331.9 470.0,3333.2 472.0,3335.6 474.0,3333.0 476.0,3335.8 478.0,3336.5 480.0,3337.5 482.0,3337.3 484.0,3337.9 486.0,3339.1 488.0,3338.5 490.0,3338.8 492.0,3338.9 494.0,3339.2 496.0,3340.0 498.0,3338.4 500.0,3339.6 502.0,3337.5 504.0,3339.1 506.0,3338.6 508.0,3339.5 510.0,3339.2 512.0,3339.1 514.0,3338.9 516.0,3338.6 518.0,3337.1 520.0,3338.3 522.0,3337.2 524.0,3338.5 526.0,3337.3 528.0,3337.6 530.0,3336.7 532.0,3336.0 534.0,3334.7 536.0,3333.3 538.0,3330.7 540.0,3331.1 542.0,3328.7 544.0,3329.1 546.0,3328.2 548.0,3331.1 550.0,3332.4 552.0,3332.5 554.0,3331.3 556.0,3330.2 558.0,3328.8 560.0,3329.1 562.0,3330.1 564.0,3331.9 566.0,3333.1 568.0,3335.7 570.0,3338.4 572.0,3340.1 574.0,3341.4 576.0,3341.8 578.0,3343.3 580.0,3344.0 582.0,3345.5 584.0,3345.2 586.0,3346.2 588.0,3345.1 590.0,3347.0 592.0,3345.0 594.0,3345.7 596.0,3345.3 598.0,3345.0 600.0,3344.9 602.0,3344.5 604.0,3344.3 606.0,3343.7 608.0,3343.5 610.0,3342.6 612.0,3342.0 614.0,3340.2 616.0,3338.5 618.0,3339.4 620.0,3337.4 622.0,3334.8 624.0,3336.1 626.0,3335.0 628.0,3334.3 630.0,3334.3 632.0,3334.7 634.0,3334.2 636.0,3335.0 638.0,3334.9 640.0,3335.1 642.0,3335.7 644.0,3335.9 646.0,3336.9 648.0,3336.6 650.0,3336.0 652.0,3337.0 654.0,3338.3 656.0,3338.7 658.0,3337.5 660.0,3338.7 662.0,3338.4 664.0,3338.8 666.0,3338.4 668.0,3338.7 670.0,3339.8 672.0,3340.6 674.0,3341.1 676.0,3340.8 678.0,3341.6 680.0,3342.3 682.0,3342.7 684.0,3341.6 686.0,3343.1 688.0,3344.3 690.0,3345.1 692.0,3344.7 694.0,3346.4 696.0,3344.5 698.0,3347.5 700.0,3346.7 702.0,3347.6 704.0,3347.4 706.0,3347.6 708.0,3348.4 710.0,3349.0 712.0,3348.5 714.0,3349.8 716.0,3349.2 718.0,3349.6 720.0,3349.2 722.0,3349.2 724.0,3349.6 726.0,3348.8 728.0,3350.0 730.0,3348.8 732.0,3349.8 734.0,3348.9 736.0,3349.5 738.0,3349.2 740.0,3350.3 742.0,3350.6 744.0,3349.3 746.0,3349.9 748.0,3349.7 750.0,3350.0 752.0,3350.2 754.0,3350.7 756.0,3349.6 758.0,3348.2 760.0,3349.1 762.0,3347.6 764.0,3346.8 766.0,3346.5 768.0,3345.4 770.0,3343.2 772.0,3342.5 774.0,3340.7 776.0,3339.6 778.0,3337.9 780.0,3337.7 782.0,3335.6 784.0,3335.3 786.0,3335.4 788.0,3334.1 790.0,3335.1 792.0,3335.8 794.0,3337.1 796.0,3338.9 798.0,3338.1 800.0,3341.5 802.0,3342.7 804.0,3344.8 806.0,3345.9 808.0,3346.2 810.0,3347.1 812.0,3347.3 814.0,3348.9 816.0,3348.0 818.0,3348.7 820.0,3348.6 822.0,3347.6 824.0,3348.8 826.0,3349.0 828.0,3350.0 830.0,3349.1 832.0,3348.7 834.0,3349.1 836.0,3350.0 838.0,3350.0 840.0,3350.0 842.0,3350.2 844.0,3349.4 846.0,3350.6 848.0,3350.4 850.0,3349.1 852.0,3350.2 854.0,3351.5 856.0,3350.7 858.0,3351.1 860.0,3351.6 862.0,3352.0 864.0,3352.2 866.0,3352.8 868.0,3352.3 870.0,3352.0 872.0,3353.1 874.0,3353.1 876.0,3353.8 878.0,3354.4 880.0,3353.5 882.0,3353.7 884.0,3354.2 886.0,3353.7 888.0,3353.6 890.0,3352.6 892.0,3352.9 894.0,3352.7 896.0,3352.9 898.0,3353.7 900.0,3353.5 902.0,3353.1 904.0,3351.7 906.0,3353.4 908.0,3353.3 910.0,3352.2 912.0,3353.0 914.0,3352.7 916.0,3353.3 918.0,3351.6 920.0,3352.0 922.0,3353.6 924.0,3352.1 926.0,3352.2 928.0,3352.4 930.0,3352.8 932.0,3353.4 934.0,3352.5 936.0,3353.1 938.0,3352.7 940.0,3352.1 942.0,3353.4 944.0,3353.0 946.0,3352.1 948.0,3352.1 950.0,3351.6 952.0,3351.1 954.0,3352.0 956.0,3352.7 958.0,3350.3 960.0,3351.6 962.0,3353.2 964.0,3352.9 966.0,3351.3 968.0,3351.3 970.0,3352.5 972.0,3350.9 974.0,3351.4 976.0,3350.8 978.0,3351.5 980.0,3351.2 982.0,3352.1 984.0,3350.2 986.0,3349.7 988.0,3350.3 990.0,3350.6 992.0,3350.0 994.0,3351.6 996.0,3349.6 998.0,3349.6 1000.0,3350.1 1002.0,3350.4 1004.0,3349.3 1006.0,3349.4 1008.0,3348.0 1010.0,3348.0 1012.0,3348.6 1014.0,3348.7 1016.0,3348.4 1018.0,3348.2 1020.0,3348.1 1022.0,3347.4 1024.0,3347.0 1026.0,3346.8 1028.0,3346.0 1030.0,3346.1 1032.0,3345.8 1034.0,3346.3 1036.0,3347.2 1038.0,3345.9 1040.0,3346.3 1042.0,3344.3 1044.0,3344.2 1046.0,3344.1 1048.0,3344.6 1050.0,3344.8 1052.0,3343.8 1054.0,3343.2 1056.0,3342.7 1058.0,3341.8 1060.0,3342.1 1062.0,3341.8 1064.0,3341.2 1066.0,3340.3 1068.0,3340.6 1070.0,3340.1 1072.0,3339.3 1074.0,3340.1 1076.0,3338.9 1078.0,3338.9 1080.0,3337.4 1082.0,3337.3 1084.0,3336.5 1086.0,3335.6 1088.0,3335.5 1090.0,3334.2 1092.0,3332.3 1094.0,3331.2 1096.0,3330.1 1098.0,3328.4 1100.0,3327.9 1102.0,3323.7 1104.0,3324.0 1106.0,3322.4 1108.0,3320.8 1110.0,3318.7 1112.0,3317.4 1114.0,3315.2 1116.0,3315.2 1118.0,3313.0 1120.0,3311.5 1122.0,3311.4 1124.0,3308.6 1126.0,3308.0 1128.0,3307.5 1130.0,3306.4 1132.0,3306.3 1134.0,3306.3 1136.0,3307.0 1138.0,3307.3 1140.0,3308.9 1142.0,3312.2 1144.0,3313.9 1146.0,3315.5 1148.0,3317.1 1150.0,3320.0 1152.0,3320.5 1154.0,3321.8 1156.0,3324.7 1158.0,3325.2 1160.0,3327.3 1162.0,3329.2 1164.0,3330.0 1166.0,3332.2 1168.0,3333.4 1170.0,3334.5 1172.0,3334.7 1174.0,3336.3 1176.0,3335.8 1178.0,3336.0 1180.0,3337.0 1182.0,3336.9 1184.0,3336.0 1186.0,3338.6 1188.0,3337.1 1190.0,3337.2 1192.0,3338.9 1194.0,3338.4 1196.0,3339.6 1198.0,3339.6 1200.0,3339.7 1202.0,3338.9 1204.0,3339.2 1206.0,3338.1 1208.0,3339.2 1210.0,3338.5 1212.0,3338.3 1214.0,3338.2 1216.0,3337.9 1218.0,3337.8 1220.0,3337.7 1222.0,3336.9 1224.0,3336.3 1226.0,3335.4 1228.0,3336.8 1230.0,3335.6 1232.0,3334.7 1234.0,3333.5 1236.0,3334.4 1238.0,3332.8 1240.0,3333.3 1242.0,3332.3 1244.0,3332.4 1246.0,3330.6 1248.0,3329.1 1250.0,3327.5 1252.0,3327.3 1254.0,3327.6 1256.0,3325.9 1258.0,3324.7 1260.0,3325.0 1262.0,3323.5 1264.0,3324.0 1266.0,3322.2 1268.0,3321.8 1270.0,3322.6 1272.0,3320.9 1274.0,3322.0 1276.0,3321.0 1278.0,3321.9 1280.0,3320.2 1282.0,3320.2 1284.0,3321.2 1286.0,3319.8 1288.0,3320.3 1290.0,3319.7 1292.0,3321.1 1294.0,3320.9 1296.0,3320.8 1298.0,3322.0 1300.0,3322.0 1302.0,3323.6 1304.0,3323.2 1306.0,3326.0 1308.0,3326.7 1310.0,3325.0 1312.0,3327.1 1314.0,3327.2 1316.0,3328.3 1318.0,3329.1 1320.0,3331.9 1322.0,3331.1 1324.0,3334.5 1326.0,3333.8 1328.0,3336.5 1330.0,3337.2 1332.0,3338.1 1334.0,3339.0 1336.0,3340.3 1338.0,3341.8 1340.0,3343.7 1342.0,3342.8 1344.0,3345.1 1346.0,3345.9 1348.0,3346.5 1350.0,3347.7 1352.0,3348.5 1354.0,3348.6 1356.0,3349.2 1358.0,3350.1 1360.0,3350.0 1362.0,3350.9 1364.0,3350.4 1366.0,3351.4 1368.0,3351.8 1370.0,3352.1 1372.0,3352.2 1374.0,3352.3 1376.0,3352.3 1378.0,3352.2 1380.0,3352.4 1382.0,3352.9 1384.0,3352.0 1386.0,3353.8 1388.0,3352.0 1390.0,3352.7 1392.0,3353.5 1394.0,3353.8 1396.0,3353.1 1398.0,3352.7 1400.0,3351.7 1402.0,3352.7 1404.0,3352.2 1406.0,3351.5 1408.0,3352.0 1410.0,3352.7 1412.0,3352.3 1414.0,3352.0 1416.0,3352.1 1418.0,3351.6 1420.0,3351.2 1422.0,3350.5 1424.0,3350.3 1426.0,3349.5 1428.0,3348.9 1430.0,3348.3 1432.0,3349.1 1434.0,3347.9 1436.0,3347.3 1438.0,3346.1 1440.0,3345.5 1442.0,3343.7 1444.0,3341.8 1446.0,3340.3 1448.0,3338.2 1450.0,3333.4 1452.0,3331.7 1454.0,3329.8 1456.0,3328.2 1458.0,3327.4 1460.0,3326.3 1462.0,3324.9 1464.0,3324.7 1466.0,3322.5 1468.0,3323.5 1470.0,3322.4 1472.0,3321.2 1474.0,3320.4 1476.0,3320.3 1478.0,3320.9 1480.0,3322.1 1482.0,3322.3 1484.0,3322.9 1486.0,3322.6 1488.0,3324.1 1490.0,3325.6 1492.0,3326.5 1494.0,3327.5 1496.0,3328.3 1498.0,3329.4 1500.0,3331.0 1502.0,3332.7 1504.0,3334.1 1506.0,3336.3 1508.0,3336.6 1510.0,3339.5 1512.0,3339.7 1514.0,3340.4 1516.0,3342.1 1518.0,3343.0 1520.0,3342.8 1522.0,3344.6 1524.0,3346.4 1526.0,3346.7 1528.0,3348.3 1530.0,3347.8 1532.0,3348.7 1534.0,3348.9 1536.0,3349.6 1538.0,3349.5 1540.0,3349.8 1542.0,3351.1 1544.0,3350.0 1546.0,3350.7 1548.0,3351.7 1550.0,3352.5 1552.0,3352.5 1554.0,3352.2 1556.0,3351.7 1558.0,3352.0 1560.0,3352.6 1562.0,3352.2 1564.0,3351.3 1566.0,3352.4 1568.0,3352.3 1570.0,3351.0 1572.0,3352.6 1574.0,3352.4 1576.0,3353.1 1578.0,3353.0 1580.0,3353.8 1582.0,3353.8 1584.0,3352.9 1586.0,3352.5 1588.0,3353.3 1590.0,3354.3 1592.0,3353.5 1594.0,3353.6 1596.0,3353.9 1598.0,3353.6 1600.0,3353.6 1602.0,3353.7 1604.0,3353.7 1606.0,3353.1 1608.0,3354.8 1610.0,3353.3 1612.0,3354.5 1614.0,3353.4 1616.0,3354.5 1618.0,3354.0 1620.0,3354.2 1622.0,3355.1 1624.0,3354.1 1626.0,3353.2 1628.0,3353.1 1630.0,3352.3 1632.0,3352.2 1634.0,3352.2 1636.0,3352.9 1638.0,3351.9 1640.0,3352.2 1642.0,3351.0 1644.0,3350.6 1646.0,3350.6 1648.0,3350.1 1650.0,3350.2 1652.0,3351.2 1654.0,3349.7 1656.0,3349.8 1658.0,3348.9 1660.0,3347.8 1662.0,3347.4 1664.0,3348.2 1666.0,3347.1 1668.0,3347.1 1670.0,3345.9 1672.0,3345.1 1674.0,3345.7 1676.0,3345.0 1678.0,3343.7 1680.0,3344.4 1682.0,3344.5 1684.0,3343.1 1686.0,3342.8 1688.0,3341.9 1690.0,3341.5 1692.0,3341.5 1694.0,3341.4 1696.0,3340.1 1698.0,3339.4 1700.0,3338.5 1702.0,3338.6 1704.0,3338.2 1706.0,3337.1 1708.0,3335.9 1710.0,3336.7 1712.0,3335.9 1714.0,3334.4 1716.0,3335.1 1718.0,3333.5 1720.0,3333.0 1722.0,3331.8 1724.0,3332.1 1726.0,3331.6 1728.0,3329.6 1730.0,3329.5 1732.0,3327.5 1734.0,3327.1 1736.0,3326.7 1738.0,3326.8 1740.0,3325.7 1742.0,3325.1 1744.0,3323.9 1746.0,3323.9 1748.0,3322.3 1750.0,3323.0 1752.0,3321.6 1754.0,3322.1 1756.0,3322.5 1758.0,3321.9 1760.0,3321.7 1762.0,3321.3 1764.0,3319.2 1766.0,3320.0 1768.0,3320.7 1770.0,3319.9 1772.0,3319.3 1774.0,3319.8 1776.0,3319.9 1778.0,3318.4 1780.0,3318.8 1782.0,3318.1 1784.0,3317.8 1786.0,3317.8 1788.0,3316.0 1790.0,3315.9 1792.0,3315.5 1794.0,3312.7 1796.0,3312.5 1798.0,3311.2 1800.0,3310.8 1802.0,3308.9 1804.0,3307.8 1806.0,3306.9 1808.0,3304.7 1810.0,3302.3 1812.0,3300.8 1814.0,3298.7 1816.0,3296.5 1818.0,3295.2 1820.0,3292.8 1822.0,3288.6 1824.0,3288.2 1826.0,3285.5 1828.0,3282.6 1830.0,3281.0 1832.0,3279.9 1834.0,3280.1 1836.0,3277.8 1838.0,3277.8 1840.0,3279.4 1842.0,3279.0 1844.0,3280.4 1846.0,3280.4 1848.0,3282.9 1850.0,3283.7 1852.0,3285.8 1854.0,3288.2 1856.0,3292.5 1858.0,3293.9 1860.0,3299.0 1862.0,3302.4 1864.0,3304.5 1866.0,3305.0 1868.0,3308.5 1870.0,3310.3 1872.0,3312.3 1874.0,3313.2 1876.0,3316.1 1878.0,3317.4 1880.0,3318.3 1882.0,3320.5 1884.0,3322.8 1886.0,3325.4 1888.0,3327.4 1890.0,3329.3 1892.0,3330.2 1894.0,3332.2 1896.0,3333.0 1898.0,3334.9 1900.0,3335.5 1902.0,3337.2 1904.0,3339.1 1906.0,3339.2 1908.0,3341.1 1910.0,3342.2 1912.0,3341.7 1914.0,3344.2 1916.0,3344.4 1918.0,3344.0 1920.0,3344.9 1922.0,3345.2 1924.0,3346.4 1926.0,3347.0 1928.0,3346.9 1930.0,3347.6 1932.0,3347.8 1934.0,3347.6 1936.0,3348.1 1938.0,3349.8 1940.0,3348.8 1942.0,3350.1 1944.0,3351.5 1946.0,3351.7 1948.0,3352.5 1950.0,3351.4 1952.0,3353.1 1954.0,3353.6 1956.0,3353.6 1958.0,3354.4 1960.0,3354.7 1962.0,3356.1 1964.0,3355.2 1966.0,3355.2 1968.0,3356.9 1970.0,3355.8 1972.0,3356.4 1974.0,3357.4 1976.0,3357.1 1978.0,3357.0 1980.0,3358.4 1982.0,3356.9 1984.0,3358.4 1986.0,3358.0 1988.0,3358.3 1990.0,3359.1 1992.0,3359.2 1994.0,3359.1 1996.0,3360.4 1998.0,3359.0 2000.0,3360.5 2002.0,3359.7 2004.0,3359.7 2006.0,3359.9 2008.0,3360.5 2010.0,3358.9 2012.0,3361.2 2014.0,3361.3 2016.0,3359.3"/>
<polyline fill="none" stroke="#0000ff" stroke-width="4.2" stroke-linejoin="round" shape-rendering="crispEdges" points="262.0,3097.2 264.0,3094.3 266.0,3091.8 268.0,3073.3 270.0,3094.8 272.0,3073.7 274.0,3097.4 276.0,3094.2 278.0,3095.2 280.0,3094.3 282.0,3089.1 284.0,3081.5 286.0,3082.3 288.0,3095.8 290.0,3078.0 292.0,3079.8 294.0,3074.8 296.0,3075.4 298.0,3076.1 300.0,3079.6 302.0,3074.2 304.0,3072.7 306.0,3069.7 308.0,3074.5 310.0,3062.0 312.0,3072.2 314.0,3081.2 316.0,3063.5 318.0,3068.1 320.0,3089.6 322.0,3057.7 324.0,3051.0 326.0,3058.8 328.0,3074.7 330.0,3074.3 332.0,3045.0 334.0,3054.6 336.0,3044.4 338.0,3033.2 340.0,3014.2 342.0,3028.5 344.0,3003.4 346.0,3001.0 348.0,2990.2 350.0,2981.9 352.0,2962.4 354.0,2934.2 356.0,2911.6 358.0,2890.6 360.0,2861.0 362.0,2835.5 364.0,2799.7 366.0,2746.1 368.0,2696.3 370.0,2646.3 372.0,2587.8 374.0,2487.1 376.0,2382.0 378.0,2318.9 380.0,2253.6 382.0,2256.8 384.7,2251.0 386.0,2264.9 388.0,2321.5 390.0,2401.4 392.0,2480.7 394.0,2614.7 396.0,2660.3 398.0,2695.2 400.0,2742.2 402.0,2791.9 404.0,2842.8 406.0,2884.4 408.0,2906.5 410.0,2919.6 412.0,2942.3 414.0,2953.3 416.0,2966.8 418.0,2979.3 420.0,2993.0 422.0,3007.5 424.0,3015.5 426.0,3033.7 428.0,3042.9 430.0,3061.0 432.0,3047.9 434.0,3072.9 436.0,3067.5 438.0,3077.7 440.0,3060.3 442.0,3072.8 444.0,3068.2 446.0,3051.0 448.0,3059.0 450.0,3058.0 452.0,3059.7 454.0,3070.0 456.0,3073.4 458.0,3086.9 460.0,3095.0 462.0,3087.4 464.0,3082.2 466.0,3104.1 468.0,3093.6 470.0,3097.5 472.0,3096.0 474.0,3094.0 476.0,3103.5 478.0,3094.6 480.0,3099.2 482.0,3087.5 484.0,3086.0 486.0,3096.1 488.0,3114.5 490.0,3100.8 492.0,3114.8 494.0,3103.0 496.0,3103.1 498.0,3094.9 500.0,3099.4 502.0,3113.9 504.0,3109.1 506.0,3094.7 508.0,3096.0 510.0,3110.5 512.0,3095.7 514.0,3107.2 516.0,3092.6 518.0,3104.9 520.0,3112.1 522.0,3106.6 524.0,3101.9 526.0,3101.1 528.0,3099.3 530.0,3099.9 532.0,3109.5 534.0,3109.3 536.0,3103.4 538.0,3090.0 540.0,3096.0 542.0,3102.5 544.0,3100.6 546.0,3089.4 548.0,3105.5 550.0,3121.0 552.0,3090.4 554.0,3100.8 556.0,3113.2 558.0,3096.9 560.0,3097.0 562.0,3101.7 564.0,3104.9 566.0,3097.0 568.0,3108.2 570.0,3085.1 572.0,3105.6 574.0,3103.3 576.0,3099.1 578.0,3103.5 580.0,3100.8 582.0,3111.1 584.0,3096.8 586.0,3100.2 588.0,3089.4 590.0,3091.6 592.0,3098.7 594.0,3088.2 596.0,3093.9 598.0,3090.1 600.0,3096.8 602.0,3101.7 604.0,3108.3 606.0,3085.3 608.0,3099.2 610.0,3107.8 612.0,3112.0 614.0,3112.2 616.0,3089.5 618.0,3096.9 620.0,3105.6 622.0,3108.6 624.0,3103.4 626.0,3103.4 628.0,3103.2 630.0,3095.2 632.0,3102.7 634.0,3107.9 636.0,3098.8 638.0,3110.9 640.0,3078.8 642.0,3099.0 644.0,3115.3 646.0,3108.7 648.0,3113.3 650.0,3103.0 652.0,3092.4 654.0,3097.8 656.0,3114.1 658.0,3087.3 660.0,3094.4 662.0,3088.3 664.0,3097.8 666.0,3098.8 668.0,3106.8 670.0,3095.6 672.0,3116.0 674.0,3107.5 676.0,3098.5 678.0,3094.4 680.0,3090.4 682.0,3103.4 684.0,3118.3 686.0,3101.1 688.0,3094.2 690.0,3102.0 692.0,3098.4 694.0,3095.3 696.0,3087.3 698.0,3102.1 700.0,3114.4 702.0,3112.3 704.0,3110.3 706.0,3104.0 708.0,3106.0 710.0,3110.2 712.0,3101.5 714.0,3103.9 716.0,3098.3 718.0,3110.3 720.0,3093.5 722.0,3106.1 724.0,3107.2 726.0,3106.8 728.0,3105.5 730.0,3095.8 732.0,3094.7 734.0,3095.7 736.0,3095.7 738.0,3089.4 740.0,3094.6 742.0,3092.9 744.0,3090.2 746.0,3100.5 748.0,3091.4 750.0,3099.3 752.0,3109.0 754.0,3110.6 756.0,3097.2 758.0,3105.1 760.0,3098.8 762.0,3115.9 764.0,3109.8 766.0,3105.5 768.0,3095.2 770.0,3094.4 772.0,3100.7 774.0,3096.0 776.0,3094.2 778.0,3101.6 780.0,3086.0 782.0,3079.9 784.0,3087.7 786.0,3086.5 788.0,3095.1 790.0,3088.7 792.0,3094.1 794.0,3079.4 796.0,3107.4 798.0,3098.8 800.0,3088.7 802.0,3098.5 804.0,3106.7 806.0,3104.9 808.0,3099.1 810.0,3106.7 812.0,3110.9 814.0,3096.1 816.0,3096.3 818.0,3104.9 820.0,3119.1 822.0,3124.2 824.0,3114.0 826.0,3125.1 828.0,3120.9 830.0,3112.1 832.0,3106.4 834.0,3106.9 836.0,3112.3 838.0,3122.5 840.0,3117.4 842.0,3099.6 844.0,3099.6 846.0,3115.4 848.0,3109.7 850.0,3099.8 852.0,3112.2 854.0,3117.0 856.0,3111.7 858.0,3105.4 860.0,3114.6 862.0,3100.1 864.0,3097.8 866.0,3094.5 868.0,3116.6 870.0,3117.9 872.0,3100.0 874.0,3104.5 876.0,3102.8 878.0,3106.1 880.0,3107.6 882.0,3102.8 884.0,3096.0 886.0,3092.0 888.0,3087.5 890.0,3074.2 892.0,3094.0 894.0,3087.7 896.0,3094.4 898.0,3093.2 900.0,3085.7 902.0,3089.9 904.0,3097.3 906.0,3095.4 908.0,3087.0 910.0,3088.1 912.0,3098.8 914.0,3096.2 916.0,3096.8 918.0,3093.1 920.0,3100.5 922.0,3095.4 924.0,3115.1 926.0,3091.1 928.0,3089.3 930.0,3108.3 932.0,3094.6 934.0,3089.0 936.0,3098.8 938.0,3076.8 940.0,3099.0 942.0,3095.7 944.0,3097.7 946.0,3089.1 948.0,3106.2 950.0,3098.1 952.0,3095.5 954.0,3098.5 956.0,3088.9 958.0,3094.5 960.0,3083.4 962.0,3086.5 964.0,3097.7 966.0,3096.2 968.0,3101.1 970.0,3089.7 972.0,3094.0 974.0,3089.3 976.0,3096.8 978.0,3100.9 980.0,3103.1 982.0,3099.0 984.0,3088.0 986.0,3095.9 988.0,3085.8 990.0,3078.7 992.0,3095.4 994.0,3094.6 996.0,3099.8 998.0,3100.4 1000.0,3083.9 1002.0,3086.5 1004.0,3093.7 1006.0,3094.3 1008.0,3096.9 1010.0,3083.2 1012.0,3091.6 1014.0,3098.7 1016.0,3108.8 1018.0,3083.5 1020.0,3106.5 1022.0,3091.3 1024.0,3082.0 1026.0,3104.2 1028.0,3085.0 1030.0,3084.2 1032.0,3099.2 1034.0,3101.8 1036.0,3094.0 1038.0,3087.7 1040.0,3081.5 1042.0,3094.2 1044.0,3074.7 1046.0,3081.7 1048.0,3101.8 1050.0,3098.2 1052.0,3102.8 1054.0,3095.7 1056.0,3082.4 1058.0,3094.2 1060.0,3074.6 1062.0,3093.1 1064.0,3096.9 1066.0,3076.5 1068.0,3091.1 1070.0,3081.8 1072.0,3078.9 1074.0,3063.3 1076.0,3077.0 1078.0,3084.5 1080.0,3063.1 1082.0,3072.4 1084.0,3070.1 1086.0,3062.2 1088.0,3083.0 1090.0,3074.3 1092.0,3073.9 1094.0,3080.8 1096.0,3066.3 1098.0,3097.6 1100.0,3067.0 1102.0,3060.2 1104.0,3073.1 1106.0,3069.4 1108.0,3056.9 1110.0,3055.6 1112.0,3067.7 1114.0,3061.8 1116.0,3061.4 1118.0,3063.7 1120.0,3050.4 1122.0,3063.9 1124.0,3052.6 1126.0,3056.8 1128.0,3042.4 1130.0,3054.7 1132.0,3050.0 1134.0,3067.0 1136.0,3021.6 1138.0,3059.1 1140.0,3052.6 1142.0,3061.2 1144.0,3052.1 1146.0,3055.9 1148.0,3036.5 1150.0,3046.3 1152.0,3067.3 1154.0,3064.8 1156.0,3070.3 1158.0,3065.9 1160.0,3078.8 1162.0,3073.9 1164.0,3079.0 1166.0,3090.0 1168.0,3089.3 1170.0,3077.6 1172.0,3081.8 1174.0,3083.6 1176.0,3080.9 1178.0,3081.4 1180.0,3074.9 1182.0,3087.2 1184.0,3074.5 1186.0,3075.3 1188.0,3093.3 1190.0,3097.8 1192.0,3098.0 1194.0,3086.2 1196.0,3079.1 1198.0,3089.4 1200.0,3095.8 1202.0,3084.4 1204.0,3080.2 1206.0,3070.1 1208.0,3069.9 1210.0,3097.1 1212.0,3071.6 1214.0,3077.9 1216.0,3080.8 1218.0,3085.1 1220.0,3072.8 1222.0,3087.6 1224.0,3087.6 1226.0,3083.5 1228.0,3077.9 1230.0,3079.8 1232.0,3067.3 1234.0,3087.5 1236.0,3078.3 1238.0,3071.4 1240.0,3081.9 1242.0,3086.0 1244.0,3084.8 1246.0,3086.8 1248.0,3091.0 1250.0,3077.3 1252.0,3082.8 1254.0,3082.8 1256.0,3068.6 1258.0,3088.1 1260.0,3076.1 1262.0,3079.9 1264.0,3079.7 1266.0,3070.2 1268.0,3082.9 1270.0,3084.0 1272.0,3077.6 1274.0,3053.2 1276.0,3087.3 1278.0,3075.4 1280.0,3071.7 1282.0,3072.4 1284.0,3068.7 1286.0,3074.7 1288.0,3082.9 1290.0,3069.4 1292.0,3080.2 1294.0,3074.1 1296.0,3077.1 1298.0,3076.5 1300.0,3082.1 1302.0,3088.0 1304.0,3080.0 1306.0,3087.5 1308.0,3092.4 1310.0,3069.1 1312.0,3087.1 1314.0,3078.7 1316.0,3079.8 1318.0,3089.3 1320.0,3079.8 1322.0,3076.9 1324.0,3092.3 1326.0,3090.9 1328.0,3086.2 1330.0,3105.7 1332.0,3075.8 1334.0,3071.4 1336.0,3083.4 1338.0,3076.9 1340.0,3089.9 1342.0,3083.2 1344.0,3084.1 1346.0,3089.8 1348.0,3083.9 1350.0,3075.9 1352.0,3085.9 1354.0,3097.6 1356.0,3093.9 1358.0,3099.4 1360.0,3105.4 1362.0,3098.9 1364.0,3091.3 1366.0,3085.7 1368.0,3095.3 1370.0,3104.3 1372.0,3102.6 1374.0,3098.6 1376.0,3084.6 1378.0,3095.4 1380.0,3096.3 1382.0,3100.2 1384.0,3080.1 1386.0,3084.5 1388.0,3090.9 1390.0,3090.6 1392.0,3084.6 1394.0,3093.2 1396.0,3086.7 1398.0,3097.6 1400.0,3084.7 1402.0,3090.0 1404.0,3071.5 1406.0,3089.7 1408.0,3082.6 1410.0,3093.4 1412.0,3086.3 1414.0,3097.3 1416.0,3083.1 1418.0,3075.7 1420.0,3088.9 1422.0,3091.4 1424.0,3080.6 1426.0,3075.9 1428.0,3092.0 1430.0,3094.0 1432.0,3091.1 1434.0,3085.6 1436.0,3084.4 1438.0,3096.9 1440.0,3089.7 1442.0,3074.2 1444.0,3069.1 1446.0,3078.2 1448.0,3074.8 1450.0,3061.1 1452.0,3058.1 1454.0,3070.0 1456.0,3058.0 1458.0,3065.5 1460.0,3048.5 1462.0,3048.1 1464.0,3041.1 1466.0,3053.5 1468.0,3049.7 1470.0,3039.0 1472.0,3053.3 1474.0,3047.9 1476.0,3050.7 1478.0,3064.4 1480.0,3062.1 1482.0,3059.6 1484.0,3054.6 1486.0,3049.3 1488.0,3055.3 1490.0,3059.2 1492.0,3073.8 1494.0,3057.9 1496.0,3062.3 1498.0,3068.0 1500.0,3072.7 1502.0,3079.7 1504.0,3083.2 1506.0,3072.9 1508.0,3090.9 1510.0,3082.3 1512.0,3072.0 1514.0,3071.6 1516.0,3077.1 1518.0,3079.4 1520.0,3088.7 1522.0,3076.8 1524.0,3079.7 1526.0,3078.4 1528.0,3088.1 1530.0,3075.2 1532.0,3091.9 1534.0,3081.8 1536.0,3087.0 1538.0,3092.6 1540.0,3091.9 1542.0,3112.0 1544.0,3082.8 1546.0,3073.6 1548.0,3080.1 1550.0,3097.4 1552.0,3082.4 1554.0,3099.3 1556.0,3089.6 1558.0,3097.4 1560.0,3079.4 1562.0,3100.1 1564.0,3101.1 1566.0,3084.5 1568.0,3102.5 1570.0,3113.0 1572.0,3092.0 1574.0,3084.5 1576.0,3087.2 1578.0,3089.7 1580.0,3100.0 1582.0,3106.6 1584.0,3088.7 1586.0,3090.2 1588.0,3080.9 1590.0,3087.8 1592.0,3095.8 1594.0,3076.0 1596.0,3097.5 1598.0,3099.1 1600.0,3101.6 1602.0,3087.4 1604.0,3079.5 1606.0,3089.8 1608.0,3083.7 1610.0,3077.9 1612.0,3085.9 1614.0,3080.9 1616.0,3107.4 1618.0,3098.0 1620.0,3099.0 1622.0,3083.1 1624.0,3102.9 1626.0,3089.0 1628.0,3098.8 1630.0,3083.8 1632.0,3097.0 1634.0,3078.6 1636.0,3090.6 1638.0,3090.1 1640.0,3081.1 1642.0,3092.1 1644.0,3087.0 1646.0,3087.9 1648.0,3096.3 1650.0,3099.9 1652.0,3087.2 1654.0,3098.1 1656.0,3094.9 1658.0,3091.9 1660.0,3097.8 1662.0,3072.3 1664.0,3094.2 1666.0,3086.0 1668.0,3079.3 1670.0,3080.5 1672.0,3089.4 1674.0,3090.3 1676.0,3085.9 1678.0,3070.3 1680.0,3067.3 1682.0,3078.8 1684.0,3083.0 1686.0,3071.9 1688.0,3083.9 1690.0,3081.2 1692.0,3079.7 1694.0,3069.4 1696.0,3084.9 1698.0,3082.4 1700.0,3085.1 1702.0,3077.0 1704.0,3063.6 1706.0,3076.4 1708.0,3080.1 1710.0,3071.9 1712.0,3063.8 1714.0,3077.2 1716.0,3077.7 1718.0,3062.5 1720.0,3066.6 1722.0,3060.7 1724.0,3074.7 1726.0,3073.4 1728.0,3085.7 1730.0,3064.5 1732.0,3082.3 1734.0,3069.8 1736.0,3073.6 1738.0,3061.6 1740.0,3071.6 1742.0,3067.1 1744.0,3070.4 1746.0,3072.7 1748.0,3075.1 1750.0,3077.9 1752.0,3071.1 1754.0,3064.4 1756.0,3080.0 1758.0,3072.8 1760.0,3067.7 1762.0,3083.7 1764.0,3075.2 1766.0,3078.7 1768.0,3059.0 1770.0,3066.8 1772.0,3086.8 1774.0,3073.4 1776.0,3071.8 1778.0,3060.7 1780.0,3063.6 1782.0,3065.9 1784.0,3060.8 1786.0,3058.9 1788.0,3044.5 1790.0,3051.0 1792.0,3052.8 1794.0,3060.1 1796.0,3059.0 1798.0,3054.1 1800.0,3047.7 1802.0,3047.0 1804.0,3053.9 1806.0,3040.2 1808.0,3048.1 1810.0,3046.0 1812.0,3044.2 1814.0,3056.0 1816.0,3037.5 1818.0,3041.5 1820.0,3043.8 1822.0,3032.0 1824.0,3024.6 1826.0,3011.4 1828.0,3031.3 1830.0,3007.1 1832.0,2997.9 1834.0,3021.7 1836.0,3000.7 1838.0,3002.1 1840.0,3005.3 1842.0,3001.0 1844.0,2992.7 1846.0,3011.3 1848.0,2991.5 1850.0,3018.4 1852.0,3018.3 1854.0,3021.8 1856.0,3024.9 1858.0,3042.2 1860.0,3042.3 1862.0,3035.0 1864.0,3043.6 1866.0,3034.2 1868.0,3049.9 1870.0,3039.6 1872.0,3049.1 1874.0,3050.5 1876.0,3032.9 1878.0,3061.4 1880.0,3057.6 1882.0,3053.3 1884.0,3055.4 1886.0,3061.9 1888.0,3063.0 1890.0,3069.5 1892.0,3068.7 1894.0,3073.9 1896.0,3072.5 1898.0,3060.9 1900.0,3062.1 1902.0,3078.2 1904.0,3078.6 1906.0,3076.2 1908.0,3066.6 1910.0,3072.1 1912.0,3072.0 1914.0,3084.3 1916.0,3073.3 1918.0,3069.5 1920.0,3074.4 1922.0,3083.7 1924.0,3094.2 1926.0,3078.2 1928.0,3091.4 1930.0,3079.3 1932.0,3079.8 1934.0,3076.8 1936.0,3090.1 1938.0,3080.3 1940.0,3091.9 1942.0,3081.5 1944.0,3098.8 1946.0,3087.0 1948.0,3085.9 1950.0,3076.3 1952.0,3096.1 1954.0,3088.5 1956.0,3086.9 1958.0,3086.7 1960.0,3082.7 1962.0,3082.7 1964.0,3089.7 1966.0,3080.8 1968.0,3086.1 1970.0,3105.3 1972.0,3086.5 1974.0,3085.4 1976.0,3094.9 1978.0,3080.2 1980.0,3099.1 1982.0,3088.2 1984.0,3079.0 1986.0,3087.2 1988.0,3082.9 1990.0,3093.9 1992.0,3084.8 1994.0,3094.3 1996.0,3073.3 1998.0,3085.1 2000.0,3093.1 2002.0,3092.5 2004.0,3088.9 2006.0,3094.1 2008.0,3094.0 2010.0,3087.4 2012.0,3088.7 2014.0,3093.8 2016.0,3087.5"/>
<polyline fill="none" stroke="#ff0000" stroke-width="4.2" stroke-linejoin="round" shape-rendering="crispEdges" points="262.0,2984.3 264.0,2983.6 266.0,2982.6 268.0,2984.0 270.0,2989.9 272.0,2981.6 274.0,2986.9 276.0,2988.4 278.0,2983.4 280.0,2980.8 282.0,2983.2 284.0,2985.2 286.0,2987.8 288.0,2984.0 290.0,2984.6 292.0,2978.1 294.0,2974.8 296.0,2970.9 298.0,2971.1 300.0,2972.6 302.0,2973.8 304.0,2968.7 306.0,2973.1 308.0,2970.3 310.0,2967.1 312.0,2965.0 314.0,2971.5 316.0,2966.0 318.0,2960.3 320.0,2957.4 322.0,2962.9 324.0,2954.2 326.0,2954.7 328.0,2952.4 330.0,2938.1 332.0,2943.6 334.0,2937.8 336.0,2931.2 338.0,2927.8 340.0,2924.5 342.0,2915.4 344.0,2904.9 346.0,2891.3 348.0,2880.0 350.0,2865.8 352.0,2849.4 354.0,2829.4 356.0,2805.6 358.0,2774.4 360.0,2738.0 362.0,2702.9 364.0,2670.2 366.0,2630.0 368.0,2558.9 370.0,2455.9 372.0,2388.2 374.0,2342.1 376.0,2265.0 378.0,2190.1 380.0,2158.9 382.0,2137.8 383.3,2133.9 386.0,2158.6 388.0,2196.0 390.0,2260.8 392.0,2325.4 394.0,2402.1 396.0,2487.8 398.0,2559.3 400.0,2621.3 402.0,2674.9 404.0,2719.0 406.0,2752.2 408.0,2781.3 410.0,2805.9 412.0,2825.8 414.0,2843.7 416.0,2858.8 418.0,2871.0 420.0,2884.9 422.0,2897.5 424.0,2910.1 426.0,2918.0 428.0,2919.1 430.0,2936.8 432.0,2940.4 434.0,2938.7 436.0,2949.5 438.0,2949.9 440.0,2956.0 442.0,2956.5 444.0,2961.8 446.0,2961.5 448.0,2962.8 450.0,2963.8 452.0,2968.4 454.0,2962.9 456.0,2970.1 458.0,2971.1 460.0,2968.6 462.0,2970.5 464.0,2970.5 466.0,2972.8 468.0,2976.6 470.0,2973.4 472.0,2977.7 474.0,2979.9 476.0,2980.2 478.0,2983.7 480.0,2980.4 482.0,2982.7 484.0,2989.1 486.0,2983.9 488.0,2983.1 490.0,2983.9 492.0,2986.4 494.0,2983.9 496.0,2985.0 498.0,2981.2 500.0,2982.8 502.0,2983.6 504.0,2983.7 506.0,2986.1 508.0,2990.2 510.0,2988.2 512.0,2985.2 514.0,2989.5 516.0,2990.2 518.0,2985.8 520.0,2989.5 522.0,2986.3 524.0,2986.0 526.0,2984.4 528.0,2987.2 530.0,2981.2 532.0,2979.8 534.0,2979.4 536.0,2980.2 538.0,2979.6 540.0,2972.0 542.0,2976.4 544.0,2974.8 546.0,2979.6 548.0,2983.7 550.0,2983.1 552.0,2985.7 554.0,2985.5 556.0,2987.7 558.0,2992.3 560.0,2988.8 562.0,2986.2 564.0,2995.2 566.0,2986.8 568.0,2988.1 570.0,2988.4 572.0,2984.8 574.0,2990.2 576.0,2992.1 578.0,2989.2 580.0,2989.0 582.0,2988.4 584.0,2983.6 586.0,2988.6 588.0,2985.2 590.0,2985.4 592.0,2989.4 594.0,2991.8 596.0,2987.0 598.0,2992.0 600.0,2994.8 602.0,2990.7 604.0,2989.1 606.0,2989.6 608.0,2987.9 610.0,2986.2 612.0,2990.2 614.0,2991.2 616.0,2987.8 618.0,2987.3 620.0,2986.6 622.0,2986.1 624.0,2985.2 626.0,2983.4 628.0,2990.1 630.0,2987.7 632.0,2988.4 634.0,2993.6 636.0,2987.9 638.0,2989.8 640.0,2984.5 642.0,2985.5 644.0,2989.6 646.0,2987.6 648.0,2983.7 650.0,2982.6 652.0,2987.9 654.0,2985.2 656.0,2989.4 658.0,2989.0 660.0,2987.2 662.0,2987.6 664.0,2990.0 666.0,2988.4 668.0,2985.2 670.0,2988.3 672.0,2986.9 674.0,2987.0 676.0,2989.4 678.0,2989.1 680.0,2991.1 682.0,2988.0 684.0,2986.5 686.0,2986.6 688.0,2988.7 690.0,2985.7 692.0,2986.3 694.0,2985.1 696.0,2985.0 698.0,2986.7 700.0,2994.6 702.0,2988.0 704.0,2988.6 706.0,2988.2 708.0,2987.4 710.0,2987.8 712.0,2993.4 714.0,2988.2 716.0,2992.5 718.0,2990.6 720.0,2985.8 722.0,2985.5 724.0,2986.0 726.0,2984.3 728.0,2990.4 730.0,2989.5 732.0,2989.6 734.0,2985.2 736.0,2988.6 738.0,2986.4 740.0,2994.4 742.0,2988.8 744.0,2988.8 746.0,2989.1 748.0,2986.6 750.0,2986.4 752.0,2986.3 754.0,2989.9 756.0,2986.1 758.0,2986.9 760.0,2988.5 762.0,2986.7 764.0,2983.6 766.0,2983.5 768.0,2985.7 770.0,2984.5 772.0,2989.8 774.0,2988.2 776.0,2987.7 778.0,2984.8 780.0,2988.6 782.0,2986.8 784.0,2984.8 786.0,2985.3 788.0,2994.0 790.0,2987.2 792.0,2985.1 794.0,2990.4 796.0,2990.3 798.0,2987.4 800.0,2991.5 802.0,2984.3 804.0,2985.9 806.0,2983.1 808.0,2991.4 810.0,2989.6 812.0,2996.8 814.0,2992.5 816.0,2992.0 818.0,2987.6 820.0,2986.8 822.0,2988.8 824.0,2993.2 826.0,2988.5 828.0,2983.7 830.0,2991.8 832.0,2993.4 834.0,2988.3 836.0,2990.9 838.0,2993.1 840.0,2993.4 842.0,2985.3 844.0,2988.0 846.0,2985.8 848.0,2990.0 850.0,2988.0 852.0,2983.5 854.0,2986.0 856.0,2987.6 858.0,2981.4 860.0,2980.5 862.0,2981.9 864.0,2983.0 866.0,2982.3 868.0,2978.3 870.0,2978.2 872.0,2982.4 874.0,2984.4 876.0,2981.0 878.0,2983.3 880.0,2988.5 882.0,2983.5 884.0,2981.8 886.0,2980.6 888.0,2983.7 890.0,2983.5 892.0,2983.5 894.0,2981.6 896.0,2983.4 898.0,2983.8 900.0,2982.2 902.0,2985.5 904.0,2978.3 906.0,2983.4 908.0,2981.9 910.0,2984.4 912.0,2987.9 914.0,2983.2 916.0,2981.5 918.0,2981.6 920.0,2985.6 922.0,2986.9 924.0,2983.1 926.0,2983.7 928.0,2987.1 930.0,2984.1 932.0,2977.6 934.0,2978.2 936.0,2979.2 938.0,2981.9 940.0,2979.7 942.0,2984.8 944.0,2980.4 946.0,2985.4 948.0,2979.9 950.0,2984.5 952.0,2982.0 954.0,2985.1 956.0,2987.2 958.0,2987.0 960.0,2984.8 962.0,2979.2 964.0,2977.8 966.0,2970.7 968.0,2982.7 970.0,2984.4 972.0,2984.0 974.0,2977.7 976.0,2987.6 978.0,2979.6 980.0,2982.5 982.0,2975.8 984.0,2977.3 986.0,2982.9 988.0,2983.4 990.0,2977.3 992.0,2978.9 994.0,2982.6 996.0,2974.7 998.0,2980.6 1000.0,2975.0 1002.0,2980.1 1004.0,2978.4 1006.0,2981.5 1008.0,2977.6 1010.0,2977.2 1012.0,2976.9 1014.0,2974.9 1016.0,2976.2 1018.0,2974.1 1020.0,2974.8 1022.0,2978.4 1024.0,2975.9 1026.0,2979.3 1028.0,2978.7 1030.0,2978.7 1032.0,2972.7 1034.0,2975.8 1036.0,2979.2 1038.0,2978.1 1040.0,2978.6 1042.0,2979.3 1044.0,2970.4 1046.0,2974.5 1048.0,2975.1 1050.0,2972.8 1052.0,2968.9 1054.0,2972.2 1056.0,2971.9 1058.0,2977.8 1060.0,2977.0 1062.0,2971.7 1064.0,2968.6 1066.0,2968.4 1068.0,2970.5 1070.0,2968.8 1072.0,2976.2 1074.0,2968.2 1076.0,2969.5 1078.0,2970.2 1080.0,2970.8 1082.0,2966.5 1084.0,2966.9 1086.0,2967.2 1088.0,2966.6 1090.0,2962.6 1092.0,2961.3 1094.0,2961.2 1096.0,2964.7 1098.0,2954.9 1100.0,2957.2 1102.0,2958.7 1104.0,2948.5 1106.0,2952.8 1108.0,2951.7 1110.0,2945.8 1112.0,2945.8 1114.0,2946.4 1116.0,2941.2 1118.0,2940.7 1120.0,2936.4 1122.0,2936.1 1124.0,2937.9 1126.0,2937.4 1128.0,2941.9 1130.0,2937.1 1132.0,2933.0 1134.0,2938.2 1136.0,2939.1 1138.0,2937.7 1140.0,2935.9 1142.0,2934.1 1144.0,2935.5 1146.0,2943.8 1148.0,2945.2 1150.0,2945.6 1152.0,2948.4 1154.0,2948.3 1156.0,2947.7 1158.0,2949.8 1160.0,2952.3 1162.0,2948.9 1164.0,2949.6 1166.0,2949.8 1168.0,2954.5 1170.0,2959.7 1172.0,2956.7 1174.0,2958.8 1176.0,2959.9 1178.0,2965.0 1180.0,2964.7 1182.0,2965.6 1184.0,2965.9 1186.0,2976.1 1188.0,2971.6 1190.0,2969.4 1192.0,2969.8 1194.0,2973.9 1196.0,2975.1 1198.0,2973.4 1200.0,2966.6 1202.0,2973.8 1204.0,2975.5 1206.0,2974.9 1208.0,2973.9 1210.0,2972.5 1212.0,2975.5 1214.0,2971.7 1216.0,2974.8 1218.0,2970.9 1220.0,2970.4 1222.0,2970.0 1224.0,2969.5 1226.0,2969.6 1228.0,2973.2 1230.0,2976.1 1232.0,2970.1 1234.0,2967.8 1236.0,2973.9 1238.0,2970.5 1240.0,2971.5 1242.0,2971.3 1244.0,2973.4 1246.0,2968.5 1248.0,2973.3 1250.0,2973.2 1252.0,2964.4 1254.0,2968.5 1256.0,2968.6 1258.0,2970.8 1260.0,2969.8 1262.0,2967.5 1264.0,2968.2 1266.0,2970.2 1268.0,2969.6 1270.0,2968.9 1272.0,2975.5 1274.0,2971.8 1276.0,2966.2 1278.0,2968.6 1280.0,2969.6 1282.0,2965.9 1284.0,2968.3 1286.0,2965.9 1288.0,2961.3 1290.0,2967.8 1292.0,2969.9 1294.0,2970.2 1296.0,2968.0 1298.0,2966.2 1300.0,2968.2 1302.0,2969.2 1304.0,2970.8 1306.0,2972.3 1308.0,2971.0 1310.0,2966.7 1312.0,2967.4 1314.0,2963.6 1316.0,2969.0 1318.0,2969.6 1320.0,2971.5 1322.0,2969.9 1324.0,2972.7 1326.0,2966.6 1328.0,2968.4 1330.0,2967.1 1332.0,2966.9 1334.0,2962.3 1336.0,2964.4 1338.0,2961.1 1340.0,2965.3 1342.0,2965.1 1344.0,2967.4 1346.0,2962.2 1348.0,2964.9 1350.0,2966.2 1352.0,2960.5 1354.0,2970.8 1356.0,2969.4 1358.0,2965.5 1360.0,2972.4 1362.0,2972.3 1364.0,2961.1 1366.0,2965.2 1368.0,2965.0 1370.0,2966.9 1372.0,2964.4 1374.0,2965.9 1376.0,2967.1 1378.0,2959.9 1380.0,2966.0 1382.0,2971.0 1384.0,2968.2 1386.0,2970.6 1388.0,2972.3 1390.0,2968.9 1392.0,2968.5 1394.0,2968.4 1396.0,2966.0 1398.0,2973.3 1400.0,2969.4 1402.0,2968.9 1404.0,2969.6 1406.0,2971.0 1408.0,2962.5 1410.0,2961.4 1412.0,2964.0 1414.0,2965.0 1416.0,2959.3 1418.0,2956.7 1420.0,2961.5 1422.0,2961.4 1424.0,2957.4 1426.0,2955.7 1428.0,2953.5 1430.0,2950.8 1432.0,2950.5 1434.0,2952.9 1436.0,2951.8 1438.0,2954.5 1440.0,2947.8 1442.0,2944.9 1444.0,2950.4 1446.0,2946.5 1448.0,2946.9 1450.0,2947.3 1452.0,2942.7 1454.0,2939.8 1456.0,2943.2 1458.0,2933.8 1460.0,2940.3 1462.0,2933.2 1464.0,2938.1 1466.0,2936.6 1468.0,2935.3 1470.0,2935.3 1472.0,2934.2 1474.0,2929.7 1476.0,2935.6 1478.0,2935.1 1480.0,2936.6 1482.0,2935.8 1484.0,2936.0 1486.0,2940.3 1488.0,2942.0 1490.0,2941.1 1492.0,2937.6 1494.0,2938.4 1496.0,2939.1 1498.0,2946.2 1500.0,2946.7 1502.0,2946.5 1504.0,2946.8 1506.0,2946.0 1508.0,2951.3 1510.0,2947.8 1512.0,2948.5 1514.0,2954.3 1516.0,2955.6 1518.0,2954.4 1520.0,2951.3 1522.0,2951.3 1524.0,2958.0 1526.0,2958.5 1528.0,2962.3 1530.0,2957.8 1532.0,2958.4 1534.0,2956.4 1536.0,2963.9 1538.0,2956.0 1540.0,2961.5 1542.0,2965.8 1544.0,2959.5 1546.0,2957.1 1548.0,2958.1 1550.0,2957.3 1552.0,2962.6 1554.0,2962.5 1556.0,2960.3 1558.0,2961.9 1560.0,2967.6 1562.0,2963.7 1564.0,2962.7 1566.0,2969.4 1568.0,2962.6 1570.0,2962.6 1572.0,2968.4 1574.0,2965.5 1576.0,2959.4 1578.0,2961.3 1580.0,2957.7 1582.0,2961.8 1584.0,2965.5 1586.0,2960.6 1588.0,2969.1 1590.0,2970.1 1592.0,2969.0 1594.0,2964.4 1596.0,2965.8 1598.0,2967.7 1600.0,2969.3 1602.0,2970.7 1604.0,2960.9 1606.0,2963.3 1608.0,2962.5 1610.0,2964.8 1612.0,2966.9 1614.0,2973.5 1616.0,2967.8 1618.0,2969.6 1620.0,2967.7 1622.0,2966.9 1624.0,2972.0 1626.0,2964.6 1628.0,2968.3 1630.0,2973.0 1632.0,2977.7 1634.0,2966.9 1636.0,2963.2 1638.0,2961.2 1640.0,2963.0 1642.0,2964.2 1644.0,2964.1 1646.0,2967.0 1648.0,2962.9 1650.0,2963.6 1652.0,2957.6 1654.0,2958.9 1656.0,2960.4 1658.0,2953.8 1660.0,2959.6 1662.0,2962.7 1664.0,2960.8 1666.0,2960.7 1668.0,2960.0 1670.0,2956.3 1672.0,2959.2 1674.0,2958.1 1676.0,2959.8 1678.0,2960.2 1680.0,2960.4 1682.0,2956.3 1684.0,2959.3 1686.0,2965.3 1688.0,2964.3 1690.0,2960.7 1692.0,2958.6 1694.0,2963.4 1696.0,2961.5 1698.0,2955.9 1700.0,2958.8 1702.0,2965.8 1704.0,2957.2 1706.0,2960.7 1708.0,2959.0 1710.0,2960.7 1712.0,2959.8 1714.0,2957.6 1716.0,2951.3 1718.0,2955.9 1720.0,2956.5 1722.0,2954.9 1724.0,2950.8 1726.0,2950.3 1728.0,2957.9 1730.0,2949.0 1732.0,2949.5 1734.0,2947.0 1736.0,2949.9 1738.0,2952.3 1740.0,2956.3 1742.0,2954.8 1744.0,2954.5 1746.0,2956.2 1748.0,2957.7 1750.0,2956.9 1752.0,2957.2 1754.0,2961.3 1756.0,2956.5 1758.0,2957.3 1760.0,2954.4 1762.0,2953.9 1764.0,2958.4 1766.0,2951.3 1768.0,2951.7 1770.0,2954.9 1772.0,2949.2 1774.0,2944.5 1776.0,2940.6 1778.0,2933.7 1780.0,2936.2 1782.0,2936.1 1784.0,2941.0 1786.0,2940.6 1788.0,2934.0 1790.0,2937.7 1792.0,2934.1 1794.0,2940.0 1796.0,2939.4 1798.0,2936.0 1800.0,2931.2 1802.0,2935.5 1804.0,2932.4 1806.0,2931.1 1808.0,2927.4 1810.0,2922.5 1812.0,2922.6 1814.0,2915.8 1816.0,2916.7 1818.0,2911.4 1820.0,2900.9 1822.0,2901.2 1824.0,2896.8 1826.0,2893.3 1828.0,2892.0 1830.0,2893.2 1832.0,2887.4 1834.0,2886.6 1836.0,2891.7 1838.0,2891.2 1840.0,2885.4 1842.0,2889.7 1844.0,2885.2 1846.0,2891.3 1848.0,2891.3 1850.0,2892.3 1852.0,2889.0 1854.0,2894.2 1856.0,2903.8 1858.0,2902.0 1860.0,2909.7 1862.0,2911.5 1864.0,2915.3 1866.0,2915.5 1868.0,2921.8 1870.0,2924.5 1872.0,2928.4 1874.0,2935.9 1876.0,2931.3 1878.0,2933.0 1880.0,2931.6 1882.0,2940.9 1884.0,2937.7 1886.0,2941.4 1888.0,2937.4 1890.0,2940.2 1892.0,2944.0 1894.0,2945.2 1896.0,2943.9 1898.0,2947.8 1900.0,2946.8 1902.0,2949.9 1904.0,2947.3 1906.0,2949.9 1908.0,2947.6 1910.0,2952.7 1912.0,2950.5 1914.0,2950.6 1916.0,2949.2 1918.0,2954.0 1920.0,2952.8 1922.0,2951.8 1924.0,2956.5 1926.0,2951.6 1928.0,2956.1 1930.0,2958.8 1932.0,2950.1 1934.0,2956.4 1936.0,2956.9 1938.0,2956.2 1940.0,2956.8 1942.0,2952.5 1944.0,2957.0 1946.0,2957.3 1948.0,2952.5 1950.0,2955.6 1952.0,2953.4 1954.0,2957.0 1956.0,2955.0 1958.0,2957.7 1960.0,2953.9 1962.0,2955.9 1964.0,2956.8 1966.0,2957.7 1968.0,2962.0 1970.0,2966.1 1972.0,2956.2 1974.0,2961.3 1976.0,2959.2 1978.0,2958.9 1980.0,2958.9 1982.0,2959.5 1984.0,2959.9 1986.0,2962.8 1988.0,2964.8 1990.0,2962.6 1992.0,2961.3 1994.0,2962.7 1996.0,2962.5 1998.0,2966.6 2000.0,2959.3 2002.0,2956.5 2004.0,2959.0 2006.0,2960.9 2008.0,2959.4 2010.0,2959.9 2012.0,2951.4 2014.0,2954.5 2016.0,2954.9"/>
<polyline fill="none" stroke="#000000" stroke-width="4.2" stroke-linejoin="round" shape-rendering="crispEdges" points="262.0,2784.1 264.0,2787.1 266.0,2776.6 268.0,2784.8 270.0,2780.3 272.0,2776.5 274.0,2775.1 276.0,2773.3 278.0,2775.1 280.0,2778.1 282.0,2777.4 284.0,2776.8 286.0,2768.8 288.0,2767.0 290.0,2775.8 292.0,2775.1 294.0,2778.1 296.0,2775.0 298.0,2766.7 300.0,2771.6 302.0,2769.8 304.0,2767.6 306.0,2763.3 308.0,2764.4 310.0,2763.6 312.0,2766.2 314.0,2763.6 316.0,2767.0 318.0,2759.6 320.0,2761.2 322.0,2760.6 324.0,2755.2 326.0,2752.0 328.0,2756.9 330.0,2754.8 332.0,2749.7 334.0,2746.3 336.0,2737.3 338.0,2732.9 340.0,2723.7 342.0,2718.8 344.0,2714.7 346.0,2703.9 348.0,2696.1 350.0,2684.0 352.0,2671.6 354.0,2650.6 356.0,2622.7 358.0,2589.4 360.0,2555.0 362.0,2523.2 364.0,2487.3 366.0,2427.7 368.0,2367.2 370.0,2313.2 372.0,2254.0 374.0,2200.5 376.0,2079.3 378.0,2004.7 380.0,1957.4 382.0,1921.7 384.9,1881.9 386.0,1887.9 388.0,1920.3 390.0,1959.7 392.0,2012.7 394.0,2082.7 396.0,2150.7 398.0,2219.0 400.0,2281.9 402.0,2336.6 404.0,2391.6 406.0,2459.9 408.0,2518.1 410.0,2566.2 412.0,2602.7 414.0,2628.5 416.0,2650.4 418.0,2666.6 420.0,2681.9 422.0,2696.9 424.0,2709.2 426.0,2725.2 428.0,2735.8 430.0,2744.4 432.0,2750.7 434.0,2761.1 436.0,2770.0 438.0,2775.0 440.0,2777.4 442.0,2776.7 444.0,2787.8 446.0,2788.7 448.0,2789.9 450.0,2797.8 452.0,2799.6 454.0,2796.2 456.0,2801.1 458.0,2802.9 460.0,2808.5 462.0,2801.8 464.0,2806.3 466.0,2809.1 468.0,2815.6 470.0,2810.1 472.0,2804.1 474.0,2808.7 476.0,2815.6 478.0,2819.5 480.0,2823.9 482.0,2821.3 484.0,2817.6 486.0,2822.8 488.0,2821.5 490.0,2821.2 492.0,2822.2 494.0,2826.8 496.0,2821.3 498.0,2820.3 500.0,2823.5 502.0,2824.5 504.0,2822.7 506.0,2822.5 508.0,2826.7 510.0,2830.9 512.0,2830.0 514.0,2830.0 516.0,2831.9 518.0,2822.3 520.0,2821.9 522.0,2824.4 524.0,2823.2 526.0,2822.9 528.0,2825.2 530.0,2820.0 532.0,2820.2 534.0,2813.6 536.0,2814.1 538.0,2820.0 540.0,2814.0 542.0,2814.5 544.0,2815.2 546.0,2811.4 548.0,2814.3 550.0,2814.2 552.0,2816.5 554.0,2813.8 556.0,2811.8 558.0,2814.0 560.0,2817.3 562.0,2822.8 564.0,2823.0 566.0,2823.8 568.0,2826.1 570.0,2831.8 572.0,2828.8 574.0,2835.7 576.0,2829.3 578.0,2830.5 580.0,2835.5 582.0,2835.4 584.0,2830.9 586.0,2832.0 588.0,2829.8 590.0,2833.7 592.0,2832.9 594.0,2828.2 596.0,2830.1 598.0,2827.5 600.0,2827.4 602.0,2827.2 604.0,2824.5 606.0,2826.4 608.0,2826.1 610.0,2825.2 612.0,2826.4 614.0,2821.7 616.0,2816.3 618.0,2817.8 620.0,2819.8 622.0,2819.3 624.0,2820.9 626.0,2821.9 628.0,2819.3 630.0,2818.9 632.0,2816.3 634.0,2822.4 636.0,2819.8 638.0,2817.0 640.0,2816.7 642.0,2819.1 644.0,2826.1 646.0,2825.4 648.0,2817.9 650.0,2821.6 652.0,2823.8 654.0,2825.7 656.0,2825.4 658.0,2822.4 660.0,2825.2 662.0,2822.9 664.0,2817.2 666.0,2821.0 668.0,2821.9 670.0,2827.4 672.0,2828.9 674.0,2822.7 676.0,2825.3 678.0,2825.7 680.0,2821.0 682.0,2818.3 684.0,2823.9 686.0,2825.8 688.0,2824.0 690.0,2817.0 692.0,2824.0 694.0,2823.8 696.0,2822.8 698.0,2824.3 700.0,2822.1 702.0,2827.0 704.0,2826.1 706.0,2824.1 708.0,2826.1 710.0,2825.4 712.0,2820.3 714.0,2823.4 716.0,2822.8 718.0,2818.3 720.0,2820.5 722.0,2824.0 724.0,2821.1 726.0,2826.5 728.0,2828.2 730.0,2821.8 732.0,2822.9 734.0,2827.2 736.0,2820.5 738.0,2817.0 740.0,2817.4 742.0,2814.2 744.0,2813.3 746.0,2817.6 748.0,2816.3 750.0,2817.8 752.0,2818.6 754.0,2814.5 756.0,2815.2 758.0,2814.8 760.0,2813.1 762.0,2811.9 764.0,2814.9 766.0,2813.8 768.0,2814.7 770.0,2816.6 772.0,2816.7 774.0,2809.7 776.0,2808.8 778.0,2810.2 780.0,2811.4 782.0,2813.9 784.0,2808.2 786.0,2808.5 788.0,2810.5 790.0,2813.8 792.0,2814.8 794.0,2807.4 796.0,2808.3 798.0,2806.6 800.0,2811.4 802.0,2811.1 804.0,2808.6 806.0,2807.4 808.0,2810.1 810.0,2813.0 812.0,2808.2 814.0,2812.8 816.0,2823.1 818.0,2832.0 820.0,2837.6 822.0,2834.3 824.0,2835.3 826.0,2831.0 828.0,2837.0 830.0,2840.8 832.0,2830.6 834.0,2831.3 836.0,2834.2 838.0,2829.1 840.0,2820.1 842.0,2822.6 844.0,2809.5 846.0,2815.1 848.0,2809.6 850.0,2807.7 852.0,2809.1 854.0,2808.9 856.0,2810.6 858.0,2810.3 860.0,2808.0 862.0,2812.0 864.0,2810.7 866.0,2808.9 868.0,2808.0 870.0,2806.8 872.0,2806.5 874.0,2808.5 876.0,2808.1 878.0,2806.5 880.0,2809.0 882.0,2805.4 884.0,2806.6 886.0,2808.0 888.0,2801.9 890.0,2803.2 892.0,2809.4 894.0,2802.2 896.0,2807.2 898.0,2801.1 900.0,2804.3 902.0,2800.2 904.0,2800.7 906.0,2801.3 908.0,2800.8 910.0,2805.4 912.0,2805.7 914.0,2805.7 916.0,2803.5 918.0,2807.4 920.0,2806.2 922.0,2803.6 924.0,2798.7 926.0,2803.0 928.0,2803.7 930.0,2801.9 932.0,2803.4 934.0,2803.8 936.0,2800.4 938.0,2802.4 940.0,2802.0 942.0,2801.7 944.0,2799.5 946.0,2798.6 948.0,2800.1 950.0,2804.5 952.0,2808.1 954.0,2800.3 956.0,2796.5 958.0,2798.0 960.0,2796.6 962.0,2797.6 964.0,2800.3 966.0,2796.7 968.0,2800.7 970.0,2802.1 972.0,2804.6 974.0,2806.0 976.0,2803.6 978.0,2807.1 980.0,2799.1 982.0,2799.9 984.0,2799.6 986.0,2800.4 988.0,2802.3 990.0,2798.4 992.0,2803.9 994.0,2803.6 996.0,2800.5 998.0,2800.2 1000.0,2795.6 1002.0,2789.7 1004.0,2795.9 1006.0,2798.1 1008.0,2798.0 1010.0,2793.5 1012.0,2794.2 1014.0,2800.9 1016.0,2798.6 1018.0,2797.3 1020.0,2793.7 1022.0,2795.8 1024.0,2797.4 1026.0,2795.6 1028.0,2791.2 1030.0,2792.0 1032.0,2788.1 1034.0,2788.7 1036.0,2791.2 1038.0,2787.9 1040.0,2787.8 1042.0,2792.8 1044.0,2788.6 1046.0,2790.5 1048.0,2787.5 1050.0,2784.2 1052.0,2787.7 1054.0,2788.4 1056.0,2784.7 1058.0,2787.5 1060.0,2790.7 1062.0,2796.9 1064.0,2791.1 1066.0,2790.6 1068.0,2791.3 1070.0,2789.0 1072.0,2785.1 1074.0,2789.1 1076.0,2787.4 1078.0,2773.9 1080.0,2780.7 1082.0,2779.9 1084.0,2780.2 1086.0,2776.6 1088.0,2777.4 1090.0,2780.2 1092.0,2779.2 1094.0,2778.3 1096.0,2774.8 1098.0,2772.5 1100.0,2770.8 1102.0,2761.7 1104.0,2767.4 1106.0,2759.2 1108.0,2755.7 1110.0,2753.7 1112.0,2755.7 1114.0,2750.4 1116.0,2759.3 1118.0,2758.3 1120.0,2759.6 1122.0,2756.7 1124.0,2756.1 1126.0,2762.5 1128.0,2759.6 1130.0,2759.4 1132.0,2758.2 1134.0,2754.0 1136.0,2753.8 1138.0,2751.4 1140.0,2753.4 1142.0,2747.6 1144.0,2752.3 1146.0,2758.0 1148.0,2761.4 1150.0,2763.5 1152.0,2763.9 1154.0,2761.5 1156.0,2769.2 1158.0,2771.7 1160.0,2773.5 1162.0,2771.1 1164.0,2777.1 1166.0,2782.6 1168.0,2782.7 1170.0,2780.6 1172.0,2783.6 1174.0,2783.3 1176.0,2784.6 1178.0,2787.8 1180.0,2787.6 1182.0,2787.6 1184.0,2789.3 1186.0,2786.8 1188.0,2786.6 1190.0,2791.9 1192.0,2790.4 1194.0,2794.4 1196.0,2788.4 1198.0,2797.3 1200.0,2795.6 1202.0,2801.1 1204.0,2789.7 1206.0,2790.1 1208.0,2800.0 1210.0,2798.3 1212.0,2798.6 1214.0,2798.3 1216.0,2798.5 1218.0,2799.9 1220.0,2795.6 1222.0,2797.5 1224.0,2802.6 1226.0,2800.3 1228.0,2797.4 1230.0,2799.2 1232.0,2802.6 1234.0,2799.6 1236.0,2799.1 1238.0,2801.2 1240.0,2802.8 1242.0,2805.1 1244.0,2800.6 1246.0,2801.2 1248.0,2803.5 1250.0,2794.8 1252.0,2799.3 1254.0,2800.9 1256.0,2799.0 1258.0,2795.7 1260.0,2798.9 1262.0,2800.9 1264.0,2796.5 1266.0,2793.7 1268.0,2793.5 1270.0,2798.5 1272.0,2798.2 1274.0,2794.2 1276.0,2789.9 1278.0,2788.5 1280.0,2791.3 1282.0,2791.9 1284.0,2794.0 1286.0,2790.1 1288.0,2792.6 1290.0,2795.4 1292.0,2789.2 1294.0,2800.5 1296.0,2797.6 1298.0,2797.1 1300.0,2791.5 1302.0,2791.5 1304.0,2798.1 1306.0,2799.3 1308.0,2789.4 1310.0,2798.8 1312.0,2799.7 1314.0,2799.9 1316.0,2794.9 1318.0,2798.6 1320.0,2797.1 1322.0,2800.9 1324.0,2806.2 1326.0,2804.0 1328.0,2805.2 1330.0,2801.8 1332.0,2799.4 1334.0,2802.7 1336.0,2807.0 1338.0,2809.7 1340.0,2806.0 1342.0,2806.9 1344.0,2805.6 1346.0,2801.9 1348.0,2807.4 1350.0,2809.9 1352.0,2808.6 1354.0,2809.6 1356.0,2805.1 1358.0,2810.5 1360.0,2816.0 1362.0,2812.9 1364.0,2814.3 1366.0,2814.0 1368.0,2809.9 1370.0,2811.6 1372.0,2808.1 1374.0,2818.3 1376.0,2811.0 1378.0,2804.5 1380.0,2800.8 1382.0,2808.6 1384.0,2806.5 1386.0,2804.6 1388.0,2797.9 1390.0,2798.5 1392.0,2796.2 1394.0,2802.8 1396.0,2799.3 1398.0,2807.5 1400.0,2806.5 1402.0,2805.2 1404.0,2811.1 1406.0,2801.4 1408.0,2803.0 1410.0,2804.1 1412.0,2808.1 1414.0,2807.9 1416.0,2804.6 1418.0,2796.1 1420.0,2797.2 1422.0,2794.6 1424.0,2800.4 1426.0,2795.3 1428.0,2796.6 1430.0,2799.9 1432.0,2793.5 1434.0,2793.7 1436.0,2789.3 1438.0,2788.8 1440.0,2787.6 1442.0,2786.3 1444.0,2785.1 1446.0,2782.4 1448.0,2787.9 1450.0,2780.1 1452.0,2780.2 1454.0,2777.3 1456.0,2769.4 1458.0,2776.7 1460.0,2774.6 1462.0,2768.0 1464.0,2767.7 1466.0,2764.1 1468.0,2768.6 1470.0,2772.9 1472.0,2772.1 1474.0,2763.5 1476.0,2760.0 1478.0,2765.9 1480.0,2770.4 1482.0,2766.0 1484.0,2768.2 1486.0,2761.4 1488.0,2765.3 1490.0,2769.4 1492.0,2769.4 1494.0,2771.9 1496.0,2777.2 1498.0,2775.8 1500.0,2775.7 1502.0,2782.1 1504.0,2782.8 1506.0,2780.0 1508.0,2784.8 1510.0,2783.5 1512.0,2787.8 1514.0,2787.6 1516.0,2787.7 1518.0,2787.1 1520.0,2791.1 1522.0,2792.2 1524.0,2799.5 1526.0,2795.8 1528.0,2792.0 1530.0,2802.8 1532.0,2792.9 1534.0,2803.4 1536.0,2798.6 1538.0,2805.6 1540.0,2802.9 1542.0,2805.6 1544.0,2805.3 1546.0,2805.6 1548.0,2808.3 1550.0,2805.7 1552.0,2809.2 1554.0,2805.4 1556.0,2806.0 1558.0,2807.0 1560.0,2808.8 1562.0,2813.4 1564.0,2808.1 1566.0,2807.1 1568.0,2806.3 1570.0,2808.5 1572.0,2812.1 1574.0,2808.8 1576.0,2809.7 1578.0,2809.1 1580.0,2811.2 1582.0,2805.1 1584.0,2812.2 1586.0,2814.8 1588.0,2809.9 1590.0,2811.5 1592.0,2809.3 1594.0,2815.0 1596.0,2815.0 1598.0,2822.3 1600.0,2814.1 1602.0,2810.4 1604.0,2811.1 1606.0,2808.9 1608.0,2813.2 1610.0,2814.6 1612.0,2817.0 1614.0,2816.8 1616.0,2816.0 1618.0,2823.5 1620.0,2825.6 1622.0,2829.6 1624.0,2827.0 1626.0,2830.0 1628.0,2833.2 1630.0,2835.9 1632.0,2831.1 1634.0,2840.4 1636.0,2837.3 1638.0,2839.3 1640.0,2838.4 1642.0,2839.3 1644.0,2835.2 1646.0,2831.6 1648.0,2821.9 1650.0,2817.4 1652.0,2819.6 1654.0,2809.1 1656.0,2809.9 1658.0,2812.8 1660.0,2817.3 1662.0,2809.5 1664.0,2809.7 1666.0,2811.5 1668.0,2820.9 1670.0,2810.2 1672.0,2810.2 1674.0,2813.0 1676.0,2809.0 1678.0,2811.5 1680.0,2812.2 1682.0,2809.9 1684.0,2811.7 1686.0,2816.4 1688.0,2812.4 1690.0,2810.0 1692.0,2808.6 1694.0,2811.5 1696.0,2814.7 1698.0,2812.7 1700.0,2812.9 1702.0,2820.4 1704.0,2811.3 1706.0,2808.6 1708.0,2812.3 1710.0,2811.6 1712.0,2814.0 1714.0,2816.6 1716.0,2814.3 1718.0,2812.0 1720.0,2813.6 1722.0,2813.5 1724.0,2811.4 1726.0,2809.0 1728.0,2812.0 1730.0,2809.4 1732.0,2805.4 1734.0,2809.8 1736.0,2806.4 1738.0,2805.1 1740.0,2808.0 1742.0,2803.6 1744.0,2804.2 1746.0,2801.4 1748.0,2798.7 1750.0,2803.6 1752.0,2808.2 1754.0,2801.3 1756.0,2806.1 1758.0,2806.6 1760.0,2807.9 1762.0,2799.9 1764.0,2799.5 1766.0,2806.5 1768.0,2802.4 1770.0,2801.5 1772.0,2803.4 1774.0,2803.3 1776.0,2799.4 1778.0,2799.4 1780.0,2801.7 1782.0,2800.6 1784.0,2796.8 1786.0,2801.6 1788.0,2799.4 1790.0,2792.8 1792.0,2788.3 1794.0,2789.9 1796.0,2778.5 1798.0,2783.2 1800.0,2781.1 1802.0,2779.6 1804.0,2783.6 1806.0,2781.8 1808.0,2789.3 1810.0,2779.7 1812.0,2778.4 1814.0,2771.2 1816.0,2775.2 1818.0,2766.7 1820.0,2763.0 1822.0,2762.8 1824.0,2760.8 1826.0,2756.4 1828.0,2756.4 1830.0,2749.8 1832.0,2746.0 1834.0,2743.0 1836.0,2749.0 1838.0,2754.6 1840.0,2748.5 1842.0,2748.4 1844.0,2747.3 1846.0,2749.6 1848.0,2742.8 1850.0,2751.1 1852.0,2756.3 1854.0,2755.6 1856.0,2758.2 1858.0,2762.5 1860.0,2770.2 1862.0,2776.1 1864.0,2771.3 1866.0,2770.0 1868.0,2776.3 1870.0,2779.3 1872.0,2782.5 1874.0,2780.0 1876.0,2785.1 1878.0,2788.6 1880.0,2781.9 1882.0,2785.8 1884.0,2790.5 1886.0,2793.0 1888.0,2790.4 1890.0,2786.7 1892.0,2790.7 1894.0,2790.8 1896.0,2795.1 1898.0,2802.3 1900.0,2800.2 1902.0,2803.8 1904.0,2802.4 1906.0,2810.8 1908.0,2810.5 1910.0,2812.1 1912.0,2824.0 1914.0,2822.9 1916.0,2823.6 1918.0,2815.2 1920.0,2823.9 1922.0,2826.1 1924.0,2820.3 1926.0,2818.2 1928.0,2816.3 1930.0,2820.7 1932.0,2812.8 1934.0,2816.8 1936.0,2822.5 1938.0,2817.7 1940.0,2822.4 1942.0,2817.3 1944.0,2815.6 1946.0,2819.4 1948.0,2817.5 1950.0,2818.2 1952.0,2817.3 1954.0,2815.1 1956.0,2818.1 1958.0,2822.3 1960.0,2824.8 1962.0,2822.2 1964.0,2823.3 1966.0,2820.2 1968.0,2822.4 1970.0,2823.5 1972.0,2824.3 1974.0,2825.5 1976.0,2827.2 1978.0,2830.7 1980.0,2830.4 1982.0,2829.8 1984.0,2824.6 1986.0,2825.0 1988.0,2828.0 1990.0,2829.0 1992.0,2831.3 1994.0,2824.2 1996.0,2829.0 1998.0,2830.0 2000.0,2828.9 2002.0,2827.4 2004.0,2830.4 2006.0,2829.9 2008.0,2831.9 2010.0,2824.6 2012.0,2826.7 2014.0,2834.7 2016.0,2832.3"/>
<rect x="293.1" y="65" width="35.9" height="1517.6" fill="rgb(219,232,247)" fill-opacity="0.616"/>
<rect x="609.4" y="67" width="35.9" height="1518" fill="rgb(219,232,247)" fill-opacity="0.616"/>
<rect x="42" y="47.3" width="152.3" height="198" fill="#000"/>
<text transform="translate(115.6,188.6) scale(0.80,1)" text-anchor="middle" font-family="'Liberation Sans','DejaVu Sans',sans-serif" font-size="115" fill="#fff">a</text>
<rect x="42" y="1850.6" width="157.8" height="198" fill="#000"/>
<text transform="translate(121.5,1992) scale(1.0,1)" text-anchor="middle" font-family="'Liberation Sans','DejaVu Sans',sans-serif" font-size="118" fill="#fff">b</text>
<text transform="translate(161.6,1401.7) rotate(-90)" font-size="133" fill="#000" >XRD Intensity (a.u.)</text>
<text transform="translate(133.2,3266.5) rotate(-90)" font-size="132" fill="#000" >Raman Intensity (a.u.)</text>
<text x="822.0" y="1823.7" font-size="132" fill="#000" text-anchor="start" >2θ (Degree)</text>
<text x="640.4" y="3680.9" font-size="130">Raman Shift (cm<tspan font-size="76" dy="-69">-1</tspan><tspan dy="69">)</tspan></text>
<text x="260.0" y="1699.0" font-size="100" fill="#000" text-anchor="middle" >20</text>
<text x="552.8" y="1699.0" font-size="100" fill="#000" text-anchor="middle" >30</text>
<text x="845.5" y="1699.0" font-size="100" fill="#000" text-anchor="middle" >40</text>
<text x="1138.3" y="1699.0" font-size="100" fill="#000" text-anchor="middle" >50</text>
<text x="1431.1" y="1699.0" font-size="100" fill="#000" text-anchor="middle" >60</text>
<text x="1723.8" y="1699.0" font-size="100" fill="#000" text-anchor="middle" >70</text>
<text x="2016.6" y="1699.0" font-size="100" fill="#000" text-anchor="middle" >80</text>
<text x="554.2" y="3529.0" font-size="100" fill="#000" text-anchor="middle" >200</text>
<text x="1139.2" y="3529.0" font-size="100" fill="#000" text-anchor="middle" >400</text>
<text x="1724.1" y="3529.0" font-size="100" fill="#000" text-anchor="middle" >600</text>
<text transform="translate(330.6,374.6) rotate(-90)" font-size="59">InPO<tspan font-size="35" dy="12.8">4</tspan></text>
<text transform="translate(647.7,371.2) rotate(-90)" font-size="59">InPO<tspan font-size="35" dy="12.8">4</tspan></text>
<text transform="translate(394.0,215.0) rotate(-90)" font-size="49.8" fill="#000" >(101)</text>
<text transform="translate(495.9,274.8) rotate(-90)" font-size="49.8" fill="#000" >(110)</text>
<text transform="translate(792.3,439.7) rotate(-90)" font-size="49.8" fill="#000" >(004)</text>
<text transform="translate(757.5,559.3) rotate(-90)" font-size="49.8" fill="#000" >(103)</text>
<text transform="translate(827.0,577.4) rotate(-90)" font-size="49.8" fill="#000" >(112)</text>
<text transform="translate(739.4,771.1) rotate(-90)" font-size="49.8" fill="#000" >(101)</text>
<text transform="translate(835.0,769.7) rotate(-90)" font-size="49.8" fill="#000" >(200)</text>
<text transform="translate(900.5,782.3) rotate(-90)" font-size="49.8" fill="#000" >(111)</text>
<text transform="translate(970.7,794.0) rotate(-90)" font-size="49.8" fill="#000" >(210)</text>
<text transform="translate(1095.7,540.9) rotate(-90)" font-size="49.8" fill="#000" >(200)</text>
<text transform="translate(1273.0,530.3) rotate(-90)" font-size="49.8" fill="#000" >(105)</text>
<text transform="translate(1319.2,577.6) rotate(-90)" font-size="49.8" fill="#000" >(211)</text>
<text transform="translate(1340.2,784.6) rotate(-90)" font-size="49.8" fill="#000" >(220)</text>
<text transform="translate(1522.4,800.2) rotate(-90)" font-size="49.8" fill="#000" >(002)</text>
<text transform="translate(1572.8,802.0) rotate(-90)" font-size="49.8" fill="#000" >(310)</text>
<text transform="translate(1512.7,585.9) rotate(-90)" font-size="49.8" fill="#000" >(118)</text>
<text transform="translate(1698.3,594.3) rotate(-90)" font-size="49.8" fill="#000" >(116)</text>
<text transform="translate(415.8,158.4) scale(0.4518,0.4472)" x="-45.0" y="36.0" font-family="'DejaVu Sans','Liberation Sans',sans-serif" font-size="100">♦</text>
<text transform="translate(754.6,590.1) scale(0.4518,0.4472)" x="-45.0" y="36.0" font-family="'DejaVu Sans','Liberation Sans',sans-serif" font-size="100">♦</text>
<text transform="translate(780.4,572.0) scale(0.4518,0.4472)" x="-45.0" y="36.0" font-family="'DejaVu Sans','Liberation Sans',sans-serif" font-size="100">♦</text>
<text transform="translate(804.1,602.6) scale(0.4518,0.4472)" x="-45.0" y="36.0" font-family="'DejaVu Sans','Liberation Sans',sans-serif" font-size="100">♦</text>
<text transform="translate(1083.4,566.7) scale(0.4518,0.4472)" x="-45.0" y="36.0" font-family="'DejaVu Sans','Liberation Sans',sans-serif" font-size="100">♦</text>
<text transform="translate(1262.0,563.0) scale(0.4518,0.4472)" x="-45.0" y="36.0" font-family="'DejaVu Sans','Liberation Sans',sans-serif" font-size="100">♦</text>
<text transform="translate(1291.2,593.1) scale(0.4518,0.4472)" x="-45.0" y="36.0" font-family="'DejaVu Sans','Liberation Sans',sans-serif" font-size="100">♦</text>
<text transform="translate(1504.0,613.7) scale(0.4518,0.4472)" x="-45.0" y="36.0" font-family="'DejaVu Sans','Liberation Sans',sans-serif" font-size="100">♦</text>
<text transform="translate(1691.2,619.2) scale(0.4518,0.4472)" x="-45.0" y="36.0" font-family="'DejaVu Sans','Liberation Sans',sans-serif" font-size="100">♦</text>
<text transform="translate(478.0,310.3) scale(0.4925,0.4110)" x="-44.5" y="36.5" font-family="'DejaVu Sans','Liberation Sans',sans-serif" font-size="100">♣</text>
<text transform="translate(724.5,801.7) scale(0.4925,0.4110)" x="-44.5" y="36.5" font-family="'DejaVu Sans','Liberation Sans',sans-serif" font-size="100">♣</text>
<text transform="translate(826.0,791.4) scale(0.4925,0.4110)" x="-44.5" y="36.5" font-family="'DejaVu Sans','Liberation Sans',sans-serif" font-size="100">♣</text>
<text transform="translate(882.5,814.7) scale(0.4925,0.4110)" x="-44.5" y="36.5" font-family="'DejaVu Sans','Liberation Sans',sans-serif" font-size="100">♣</text>
<text transform="translate(962.4,827.3) scale(0.4925,0.4110)" x="-44.5" y="36.5" font-family="'DejaVu Sans','Liberation Sans',sans-serif" font-size="100">♣</text>
<text transform="translate(1326.6,820.8) scale(0.4925,0.4110)" x="-44.5" y="36.5" font-family="'DejaVu Sans','Liberation Sans',sans-serif" font-size="100">♣</text>
<text transform="translate(1516.1,829.5) scale(0.4925,0.4110)" x="-44.5" y="36.5" font-family="'DejaVu Sans','Liberation Sans',sans-serif" font-size="100">♣</text>
<text transform="translate(1552.3,833.7) scale(0.4925,0.4110)" x="-44.5" y="36.5" font-family="'DejaVu Sans','Liberation Sans',sans-serif" font-size="100">♣</text>
<text transform="translate(849.2,609.0) scale(0.4828,0.4347)" x="-45.0" y="36.0" font-family="'DejaVu Sans','Liberation Sans',sans-serif" font-size="100">♠</text>
<text transform="translate(1221.7,407.3) scale(0.4828,0.4347)" x="-45.0" y="36.0" font-family="'DejaVu Sans','Liberation Sans',sans-serif" font-size="100">♠</text>
<text transform="translate(1738.5,475.4) scale(0.4828,0.4347)" x="-45.0" y="36.0" font-family="'DejaVu Sans','Liberation Sans',sans-serif" font-size="100">♠</text>
<line x1="777.4" y1="448.8" x2="777.4" y2="508" stroke="#000" stroke-width="2.8"/>
<path d="M768.5,505.8 L786.3,505.8 L777.4,537.8 Z" fill="#000"/>
<text transform="translate(1469.5,141.2) scale(0.4985,0.4082)" x="-44.5" y="36.5" font-family="'DejaVu Sans','Liberation Sans',sans-serif" font-size="100">♣</text>
<text transform="translate(1469.5,221.9) scale(0.4571,0.4486)" x="-45.0" y="36.0" font-family="'DejaVu Sans','Liberation Sans',sans-serif" font-size="100">♦</text>
<text transform="translate(1469.0,306.7) scale(0.4948,0.4333)" x="-45.0" y="36.0" font-family="'DejaVu Sans','Liberation Sans',sans-serif" font-size="100">♠</text>
<text x="1503.8" y="155.9" font-size="65" fill="#000" text-anchor="start" >Rutile</text>
<text x="1506.3" y="239.1" font-size="65" fill="#000" text-anchor="start" >Anatase</text>
<text x="1506.6" y="322.6" font-size="65" fill="#000" text-anchor="start" >Ti</text>
<svg x="0" y="0" width="2008.4" height="1700" overflow="hidden"><text x="1794.0" y="630.3" font-size="75.5" fill="#000" text-anchor="start" >0.15 M</text></svg>
<svg x="0" y="0" width="2008.4" height="1700" overflow="hidden"><text x="1825.8" y="852.6" font-size="75.5" fill="#f00" text-anchor="start" >0.1 M</text></svg>
<svg x="0" y="0" width="2008.4" height="1700" overflow="hidden"><text x="1791.5" y="1051.9" font-size="75.5" fill="#00f" text-anchor="start" >0.05 M</text></svg>
<text x="1840.3" y="1220.8" font-size="75.5" fill="#800000">TiO<tspan font-size="43" dy="30">2</tspan></text>
<text x="1886.0" y="1399.8" font-size="74" fill="#008080" text-anchor="start" >Ti</text>
<text x="413.5" y="1988.0" font-size="76.5" fill="#00f" text-anchor="start" >A</text>
<text x="626.0" y="2043.6" font-size="96" fill="#00f" text-anchor="start" >A: anatase</text>
<text x="624.0" y="2165.0" font-size="96" fill="#f00" text-anchor="start" >R: rutile</text>
<text x="524.7" y="3304.8" font-size="76.5" fill="#00f" text-anchor="start" >A</text>
<text x="1103.2" y="3276.3" font-size="76.5" fill="#00f" text-anchor="start" >A</text>
<text x="1263.5" y="3298.2" font-size="76.5" fill="#f00" text-anchor="start" >R</text>
<text x="1445.7" y="3295.4" font-size="76.5" fill="#00f" text-anchor="start" >A</text>
<text x="1737.5" y="3298.2" font-size="76.5" fill="#f00" text-anchor="start" >R</text>
<text x="1812.7" y="3248.5" font-size="76.5" fill="#00f" text-anchor="start" >A</text>
<line x1="1201.5" y1="1991.5" x2="1339.5" y2="1991.5" stroke="#800000" stroke-width="4.2"/>
<line x1="1201.5" y1="2132.7" x2="1339.5" y2="2132.7" stroke="#00f" stroke-width="4.2"/>
<line x1="1201.5" y1="2274.3" x2="1339.5" y2="2274.3" stroke="#f00" stroke-width="4.2"/>
<line x1="1201.5" y1="2416.1" x2="1339.5" y2="2416.1" stroke="#000" stroke-width="4.2"/>
<text x="1352.3" y="2012" font-size="75.5" fill="#800000">pristine TiO<tspan font-size="44" dy="29">2</tspan></text>
<text x="1353.6" y="2152.8" font-size="75.5" fill="#00f">InPO<tspan font-size="44" dy="28.2">x</tspan></text>
<text x="1534.6" y="2152.3" font-size="57" fill="#000" font-family="'Liberation Sans','DejaVu Sans',sans-serif">/</text>
<text x="1553.3" y="2152.8" font-size="75.5" fill="#00f">TiO<tspan font-size="44" dx="-2.5" dy="28.2">2</tspan></text>
<text transform="translate(1694.3,2162) scale(1,0.6)" font-size="79.3" fill="#00f">_</text>
<text x="1733" y="2152.8" font-size="75.5" fill="#00f">0.05 M</text>
<text x="1353.6" y="2294.1" font-size="75.5" fill="#f00">InPO<tspan font-size="44" dy="28.2">x</tspan></text>
<text x="1534.3" y="2297.2999999999997" font-size="82" fill="#f00">/</text>
<text x="1557.5" y="2294.1" font-size="75.5" fill="#f00">TiO<tspan font-size="44" dx="-2.5" dy="28.2">2</tspan></text>
<text transform="translate(1698.3,2303.7) scale(1,0.6)" font-size="79.3" fill="#f00">_</text>
<text x="1736.7" y="2294.1" font-size="75.5" fill="#f00">0.1 M</text>
<text x="1353.6" y="2434.9" font-size="75.5" fill="#000">InPO<tspan font-size="44" dy="28.2">x</tspan></text>
<text x="1534.3" y="2438.1" font-size="82" fill="#000">/</text>
<text x="1557.5" y="2434.9" font-size="75.5" fill="#000">TiO<tspan font-size="44" dx="-2.5" dy="28.2">2</tspan></text>
<text transform="translate(1698.3,2444.5) scale(1,0.6)" font-size="79.3" fill="#000">_</text>
<text x="1736.7" y="2434.9" font-size="75.5" fill="#000">0.15 M</text>
</svg>
</body></html>
